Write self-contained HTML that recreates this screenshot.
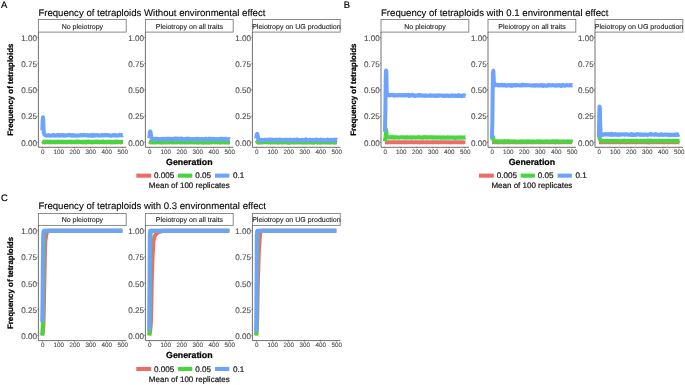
<!DOCTYPE html>
<html><head><meta charset="utf-8"><style>
html,body{margin:0;padding:0;background:#fff;width:685px;height:385px;overflow:hidden}
svg{display:block;will-change:transform;text-rendering:geometricPrecision;font-family:"Liberation Sans",sans-serif}
text{stroke:currentColor;stroke-width:0.22px;paint-order:stroke}
</style></head><body>
<svg width="685" height="385" viewBox="0 0 685 385">
<rect width="685" height="385" fill="#fff"/>
<text x="1.10" y="7.85" font-size="9.4" fill="#000" color="#000" style="stroke-width:0.2px">A</text>
<text x="38.40" y="15.80" font-size="9.6" fill="#000" color="#000" style="stroke-width:0.1px">Frequency of tetraploids Without environmental effect</text>
<rect x="38.40" y="19.50" width="87.80" height="12.60" fill="#fff" stroke="#7f7f7f" stroke-width="0.9"/>
<text x="82.40" y="28.70" font-size="7.05" fill="#1a1a1a" color="#1a1a1a" style="stroke-width:0.1px" text-anchor="middle">No pleiotropy</text>
<polyline points="42.30,142.28 42.46,142.30 42.62,142.32 42.78,142.32 42.94,142.31 43.10,142.30 43.26,142.31 43.42,142.33 43.58,142.34 43.74,142.33 43.90,142.31 44.06,142.28 44.22,142.29 44.38,142.33 44.54,142.40 44.70,142.42 44.86,142.39 45.02,142.34 45.18,142.29 45.34,142.26 45.50,142.25 45.66,142.26 45.82,142.25 45.98,142.23 46.14,142.23 46.30,142.27 46.46,142.32 46.62,142.35 46.78,142.36 46.94,142.36 47.10,142.36 47.26,142.37 47.42,142.36 47.58,142.35 47.74,142.33 47.90,142.32 48.06,142.30 48.22,142.29 48.38,142.27 48.54,142.26 48.70,142.27 48.86,142.29 49.02,142.29 49.18,142.29 49.34,142.29 49.50,142.30 49.66,142.31 49.82,142.32 49.98,142.34 50.14,142.34 50.30,142.33 50.46,142.34 50.62,142.35 50.78,142.36 50.94,142.34 51.10,142.32 51.26,142.31 51.42,142.31 51.58,142.31 51.74,142.30 51.90,142.29 52.06,142.29 52.22,142.29 52.38,142.28 52.54,142.27 52.70,142.29 52.86,142.32 53.02,142.35 53.18,142.34 53.34,142.32 53.50,142.32 53.66,142.34 53.82,142.36 53.98,142.35 54.14,142.31 54.30,142.29 54.46,142.29 54.62,142.28 54.78,142.27 54.94,142.25 55.10,142.25 55.26,142.26 55.42,142.29 55.58,142.31 55.74,142.33 55.90,142.36 56.06,142.37 56.22,142.36 56.38,142.35 56.54,142.33 56.70,142.31 56.86,142.28 57.02,142.26 57.18,142.24 57.34,142.25 57.50,142.28 57.66,142.32 57.82,142.32 57.98,142.30 58.14,142.30 58.30,142.30 58.46,142.30 58.62,142.29 58.78,142.28 58.94,142.29 59.10,142.30 59.26,142.32 59.42,142.32 59.58,142.30 59.74,142.29 59.90,142.31 60.06,142.35 60.22,142.35 60.38,142.31 60.54,142.28 60.70,142.30 60.86,142.33 61.02,142.34 61.18,142.35 61.34,142.34 61.50,142.32 61.66,142.31 61.82,142.31 61.98,142.31 62.14,142.33 62.30,142.35 62.46,142.36 62.62,142.37 62.78,142.37 62.94,142.36 63.10,142.33 63.26,142.30 63.42,142.28 63.58,142.28 63.74,142.29 63.90,142.30 64.06,142.30 64.22,142.30 64.38,142.31 64.54,142.32 64.70,142.33 64.86,142.35 65.02,142.37 65.18,142.36 65.34,142.33 65.50,142.31 65.66,142.33 65.82,142.36 65.98,142.36 66.14,142.34 66.30,142.31 66.46,142.30 66.62,142.30 66.78,142.27 66.94,142.24 67.10,142.21 67.26,142.21 67.42,142.25 67.58,142.29 67.74,142.31 67.90,142.31 68.06,142.31 68.22,142.31 68.38,142.33 68.54,142.34 68.70,142.34 68.86,142.33 69.02,142.31 69.18,142.27 69.34,142.25 69.50,142.24 69.66,142.25 69.82,142.23 69.98,142.22 70.14,142.25 70.30,142.31 70.46,142.35 70.62,142.36 70.78,142.36 70.94,142.33 71.10,142.30 71.26,142.29 71.42,142.32 71.58,142.36 71.74,142.38 71.90,142.35 72.06,142.31 72.22,142.28 72.38,142.27 72.54,142.25 72.70,142.22 72.86,142.22 73.02,142.26 73.18,142.30 73.34,142.33 73.50,142.33 73.66,142.31 73.82,142.30 73.98,142.30 74.14,142.31 74.30,142.32 74.46,142.33 74.62,142.34 74.78,142.35 74.94,142.36 75.10,142.37 75.26,142.36 75.42,142.34 75.58,142.33 75.74,142.31 75.90,142.30 76.06,142.30 76.22,142.31 76.38,142.33 76.54,142.36 76.70,142.37 76.86,142.37 77.02,142.36 77.18,142.36 77.34,142.34 77.50,142.33 77.66,142.33 77.82,142.35 77.98,142.36 78.14,142.35 78.30,142.34 78.46,142.34 78.62,142.34 78.78,142.35 78.94,142.35 79.10,142.34 79.26,142.33 79.42,142.32 79.58,142.32 79.74,142.31 79.90,142.33 80.06,142.34 80.22,142.33 80.38,142.31 80.54,142.31 80.70,142.31 80.86,142.31 81.02,142.31 81.18,142.31 81.34,142.32 81.50,142.33 81.66,142.33 81.82,142.32 81.98,142.31 82.14,142.32 82.30,142.34 82.46,142.36 82.62,142.38 82.78,142.39 82.94,142.38 83.10,142.36 83.26,142.33 83.42,142.31 83.58,142.31 83.74,142.33 83.90,142.34 84.06,142.34 84.22,142.31 84.38,142.29 84.54,142.28 84.70,142.30 84.86,142.31 85.02,142.32 85.18,142.33 85.34,142.31 85.50,142.29 85.66,142.30 85.82,142.31 85.98,142.31 86.14,142.31 86.30,142.31 86.46,142.33 86.62,142.36 86.78,142.37 86.94,142.36 87.10,142.32 87.26,142.29 87.42,142.26 87.58,142.26 87.74,142.27 87.90,142.28 88.06,142.27 88.22,142.25 88.38,142.25 88.54,142.28 88.70,142.31 88.86,142.34 89.02,142.34 89.18,142.33 89.34,142.31 89.50,142.28 89.66,142.25 89.82,142.25 89.98,142.25 90.14,142.25 90.30,142.25 90.46,142.28 90.62,142.31 90.78,142.34 90.94,142.36 91.10,142.37 91.26,142.37 91.42,142.37 91.58,142.34 91.74,142.32 91.90,142.32 92.06,142.34 92.22,142.36 92.38,142.37 92.54,142.37 92.70,142.38 92.86,142.37 93.02,142.34 93.18,142.30 93.34,142.26 93.50,142.25 93.66,142.26 93.82,142.29 93.98,142.31 94.14,142.30 94.30,142.28 94.46,142.27 94.62,142.29 94.78,142.33 94.94,142.35 95.10,142.36 95.26,142.35 95.42,142.35 95.58,142.33 95.74,142.31 95.90,142.30 96.06,142.31 96.22,142.32 96.38,142.32 96.54,142.31 96.70,142.32 96.86,142.31 97.02,142.29 97.18,142.27 97.34,142.26 97.50,142.27 97.66,142.29 97.82,142.30 97.98,142.30 98.14,142.28 98.30,142.27 98.46,142.27 98.62,142.29 98.78,142.29 98.94,142.27 99.10,142.26 99.26,142.27 99.42,142.28 99.58,142.26 99.74,142.24 99.90,142.26 100.06,142.29 100.22,142.32 100.38,142.33 100.54,142.34 100.70,142.34 100.86,142.31 101.02,142.28 101.18,142.27 101.34,142.26 101.50,142.24 101.66,142.23 101.82,142.24 101.98,142.27 102.14,142.30 102.30,142.30 102.46,142.28 102.62,142.26 102.78,142.26 102.94,142.27 103.10,142.27 103.26,142.27 103.42,142.29 103.58,142.33 103.74,142.35 103.90,142.36 104.06,142.34 104.22,142.33 104.38,142.33 104.54,142.34 104.70,142.35 104.86,142.34 105.02,142.31 105.18,142.29 105.34,142.28 105.50,142.27 105.66,142.25 105.82,142.25 105.98,142.29 106.14,142.35 106.30,142.38 106.46,142.38 106.62,142.37 106.78,142.36 106.94,142.32 107.10,142.29 107.26,142.27 107.42,142.27 107.58,142.27 107.74,142.28 107.90,142.29 108.06,142.29 108.22,142.29 108.38,142.28 108.54,142.27 108.70,142.28 108.86,142.28 109.02,142.28 109.18,142.26 109.34,142.24 109.50,142.23 109.66,142.23 109.82,142.24 109.98,142.26 110.14,142.29 110.30,142.31 110.46,142.32 110.62,142.34 110.78,142.37 110.94,142.38 111.10,142.36 111.26,142.31 111.42,142.25 111.58,142.21 111.74,142.22 111.90,142.25 112.06,142.26 112.22,142.24 112.38,142.21 112.54,142.19 112.70,142.21 112.86,142.26 113.02,142.31 113.18,142.33 113.34,142.33 113.50,142.30 113.66,142.26 113.82,142.21 113.98,142.19 114.14,142.18 114.30,142.17 114.46,142.18 114.62,142.20 114.78,142.23 114.94,142.27 115.10,142.29 115.26,142.30 115.42,142.31 115.58,142.31 115.74,142.31 115.90,142.32 116.06,142.34 116.22,142.35 116.38,142.34 116.54,142.31 116.70,142.28 116.86,142.27 117.02,142.27 117.18,142.29 117.34,142.30 117.50,142.29 117.66,142.25 117.82,142.22 117.98,142.19 118.14,142.18 118.30,142.19 118.46,142.21 118.62,142.24 118.78,142.29 118.94,142.33 119.10,142.33 119.26,142.30 119.42,142.27 119.58,142.27 119.74,142.28 119.90,142.31 120.06,142.34 120.22,142.36 120.38,142.35 120.54,142.33 120.70,142.32 120.86,142.32 121.02,142.35 121.18,142.37 121.34,142.36 121.50,142.33 121.66,142.30 121.82,142.28 121.98,142.28 122.14,142.31 122.30,142.33 122.46,142.32 122.62,142.32 122.78,142.33" fill="none" stroke="#EE6C67" stroke-width="4.0" stroke-linejoin="round" stroke-linecap="butt"/>
<polyline points="42.30,141.22 42.46,141.34 42.62,141.46 42.78,141.53 42.94,141.53 43.10,141.54 43.26,141.60 43.42,141.67 43.58,141.73 43.74,141.75 43.90,141.73 44.06,141.69 44.22,141.70 44.38,141.72 44.54,141.71 44.70,141.69 44.86,141.76 45.02,141.94 45.18,142.07 45.34,142.01 45.50,141.84 45.66,141.67 45.82,141.58 45.98,141.58 46.14,141.63 46.30,141.68 46.46,141.73 46.62,141.79 46.78,141.83 46.94,141.80 47.10,141.73 47.26,141.72 47.42,141.81 47.58,141.88 47.74,141.85 47.90,141.76 48.06,141.72 48.22,141.73 48.38,141.74 48.54,141.73 48.70,141.73 48.86,141.75 49.02,141.70 49.18,141.61 49.34,141.50 49.50,141.43 49.66,141.44 49.82,141.56 49.98,141.71 50.14,141.79 50.30,141.80 50.46,141.80 50.62,141.80 50.78,141.83 50.94,141.91 51.10,142.05 51.26,142.13 51.42,142.06 51.58,141.87 51.74,141.69 51.90,141.64 52.06,141.69 52.22,141.77 52.38,141.84 52.54,141.89 52.70,141.90 52.86,141.81 53.02,141.69 53.18,141.64 53.34,141.69 53.50,141.76 53.66,141.79 53.82,141.80 53.98,141.83 54.14,141.88 54.30,141.90 54.46,141.86 54.62,141.78 54.78,141.71 54.94,141.70 55.10,141.72 55.26,141.78 55.42,141.85 55.58,141.89 55.74,141.90 55.90,141.91 56.06,141.94 56.22,142.00 56.38,142.06 56.54,142.08 56.70,142.04 56.86,141.90 57.02,141.71 57.18,141.54 57.34,141.43 57.50,141.42 57.66,141.49 57.82,141.58 57.98,141.64 58.14,141.71 58.30,141.79 58.46,141.86 58.62,141.92 58.78,141.93 58.94,141.88 59.10,141.81 59.26,141.72 59.42,141.64 59.58,141.64 59.74,141.73 59.90,141.80 60.06,141.81 60.22,141.75 60.38,141.71 60.54,141.75 60.70,141.85 60.86,141.96 61.02,142.03 61.18,142.03 61.34,141.95 61.50,141.81 61.66,141.69 61.82,141.66 61.98,141.68 62.14,141.68 62.30,141.63 62.46,141.60 62.62,141.65 62.78,141.77 62.94,141.88 63.10,141.92 63.26,141.90 63.42,141.88 63.58,141.89 63.74,141.89 63.90,141.84 64.06,141.75 64.22,141.68 64.38,141.68 64.54,141.75 64.70,141.84 64.86,141.90 65.02,141.93 65.18,141.91 65.34,141.86 65.50,141.79 65.66,141.72 65.82,141.68 65.98,141.73 66.14,141.86 66.30,142.00 66.46,142.07 66.62,142.07 66.78,142.02 66.94,141.92 67.10,141.82 67.26,141.73 67.42,141.67 67.58,141.68 67.74,141.75 67.90,141.80 68.06,141.81 68.22,141.80 68.38,141.78 68.54,141.79 68.70,141.86 68.86,141.94 69.02,141.95 69.18,141.87 69.34,141.79 69.50,141.80 69.66,141.87 69.82,141.90 69.98,141.83 70.14,141.71 70.30,141.62 70.46,141.63 70.62,141.73 70.78,141.85 70.94,141.89 71.10,141.85 71.26,141.79 71.42,141.76 71.58,141.72 71.74,141.64 71.90,141.60 72.06,141.66 72.22,141.76 72.38,141.84 72.54,141.88 72.70,141.87 72.86,141.82 73.02,141.77 73.18,141.74 73.34,141.77 73.50,141.90 73.66,142.05 73.82,142.07 73.98,141.94 74.14,141.78 74.30,141.72 74.46,141.72 74.62,141.72 74.78,141.70 74.94,141.71 75.10,141.73 75.26,141.71 75.42,141.65 75.58,141.60 75.74,141.58 75.90,141.59 76.06,141.68 76.22,141.83 76.38,141.91 76.54,141.89 76.70,141.88 76.86,141.92 77.02,141.93 77.18,141.87 77.34,141.74 77.50,141.55 77.66,141.36 77.82,141.32 77.98,141.46 78.14,141.69 78.30,141.89 78.46,142.02 78.62,142.08 78.78,142.11 78.94,142.12 79.10,142.05 79.26,141.92 79.42,141.80 79.58,141.77 79.74,141.84 79.90,141.98 80.06,142.10 80.22,142.10 80.38,141.98 80.54,141.85 80.70,141.80 80.86,141.85 81.02,141.95 81.18,142.00 81.34,141.97 81.50,141.85 81.66,141.73 81.82,141.73 81.98,141.83 82.14,141.94 82.30,142.00 82.46,142.02 82.62,142.02 82.78,142.04 82.94,142.07 83.10,142.10 83.26,142.15 83.42,142.20 83.58,142.21 83.74,142.15 83.90,142.03 84.06,141.87 84.22,141.71 84.38,141.61 84.54,141.60 84.70,141.65 84.86,141.69 85.02,141.69 85.18,141.68 85.34,141.73 85.50,141.79 85.66,141.85 85.82,141.96 85.98,142.10 86.14,142.19 86.30,142.22 86.46,142.22 86.62,142.15 86.78,141.99 86.94,141.77 87.10,141.58 87.26,141.50 87.42,141.52 87.58,141.61 87.74,141.74 87.90,141.90 88.06,142.05 88.22,142.08 88.38,141.94 88.54,141.73 88.70,141.59 88.86,141.57 89.02,141.62 89.18,141.63 89.34,141.60 89.50,141.63 89.66,141.72 89.82,141.79 89.98,141.78 90.14,141.71 90.30,141.68 90.46,141.70 90.62,141.74 90.78,141.83 90.94,141.97 91.10,142.10 91.26,142.14 91.42,142.03 91.58,141.86 91.74,141.77 91.90,141.79 92.06,141.85 92.22,141.88 92.38,141.90 92.54,141.90 92.70,141.86 92.86,141.82 93.02,141.79 93.18,141.80 93.34,141.86 93.50,141.95 93.66,142.01 93.82,141.96 93.98,141.86 94.14,141.83 94.30,141.84 94.46,141.85 94.62,141.79 94.78,141.69 94.94,141.63 95.10,141.67 95.26,141.80 95.42,141.93 95.58,141.93 95.74,141.82 95.90,141.68 96.06,141.57 96.22,141.50 96.38,141.48 96.54,141.53 96.70,141.62 96.86,141.68 97.02,141.69 97.18,141.66 97.34,141.58 97.50,141.54 97.66,141.59 97.82,141.71 97.98,141.83 98.14,141.91 98.30,141.93 98.46,141.92 98.62,141.88 98.78,141.83 98.94,141.78 99.10,141.79 99.26,141.88 99.42,142.02 99.58,142.15 99.74,142.17 99.90,142.07 100.06,141.97 100.22,141.94 100.38,141.93 100.54,141.87 100.70,141.77 100.86,141.70 101.02,141.73 101.18,141.81 101.34,141.88 101.50,141.91 101.66,141.90 101.82,141.90 101.98,141.90 102.14,141.83 102.30,141.69 102.46,141.59 102.62,141.60 102.78,141.65 102.94,141.65 103.10,141.60 103.26,141.55 103.42,141.58 103.58,141.72 103.74,141.90 103.90,142.02 104.06,142.03 104.22,141.93 104.38,141.80 104.54,141.73 104.70,141.70 104.86,141.71 105.02,141.75 105.18,141.82 105.34,141.89 105.50,141.97 105.66,142.05 105.82,142.09 105.98,142.07 106.14,142.05 106.30,142.02 106.46,141.93 106.62,141.85 106.78,141.84 106.94,141.88 107.10,141.92 107.26,141.92 107.42,141.88 107.58,141.86 107.74,141.87 107.90,141.89 108.06,141.92 108.22,141.99 108.38,142.06 108.54,142.09 108.70,142.03 108.86,141.92 109.02,141.79 109.18,141.68 109.34,141.62 109.50,141.67 109.66,141.76 109.82,141.80 109.98,141.77 110.14,141.70 110.30,141.64 110.46,141.62 110.62,141.65 110.78,141.69 110.94,141.69 111.10,141.64 111.26,141.67 111.42,141.83 111.58,142.06 111.74,142.21 111.90,142.25 112.06,142.21 112.22,142.18 112.38,142.12 112.54,142.03 112.70,141.93 112.86,141.92 113.02,142.01 113.18,142.12 113.34,142.20 113.50,142.22 113.66,142.17 113.82,142.05 113.98,141.93 114.14,141.86 114.30,141.82 114.46,141.79 114.62,141.78 114.78,141.80 114.94,141.82 115.10,141.82 115.26,141.81 115.42,141.82 115.58,141.84 115.74,141.79 115.90,141.65 116.06,141.52 116.22,141.49 116.38,141.57 116.54,141.68 116.70,141.74 116.86,141.77 117.02,141.79 117.18,141.83 117.34,141.83 117.50,141.79 117.66,141.71 117.82,141.64 117.98,141.60 118.14,141.64 118.30,141.77 118.46,141.92 118.62,142.01 118.78,142.02 118.94,141.96 119.10,141.92 119.26,141.93 119.42,141.96 119.58,141.97 119.74,141.98 119.90,141.99 120.06,142.02 120.22,142.08 120.38,142.14 120.54,142.13 120.70,142.06 120.86,142.00 121.02,141.95 121.18,141.86 121.34,141.77 121.50,141.71 121.66,141.70 121.82,141.72 121.98,141.78 122.14,141.85 122.30,141.93 122.46,141.97 122.62,141.96 122.78,141.93" fill="none" stroke="#47D63E" stroke-width="4.0" stroke-linejoin="round" stroke-linecap="butt"/>
<polyline points="42.30,130.29 42.46,125.89 42.62,121.49 42.78,119.41 42.94,117.20 43.10,118.78 43.26,120.32 43.42,124.93 43.58,129.59 43.74,131.38 43.90,133.16 44.06,133.52 44.22,133.97 44.38,134.44 44.54,134.82 44.70,134.79 44.86,134.81 45.02,134.95 45.18,135.12 45.34,135.27 45.50,135.38 45.66,135.33 45.82,135.25 45.98,135.23 46.14,135.34 46.30,135.52 46.46,135.66 46.62,135.72 46.78,135.72 46.94,135.66 47.10,135.55 47.26,135.48 47.42,135.50 47.58,135.52 47.74,135.42 47.90,135.24 48.06,135.09 48.22,135.04 48.38,135.09 48.54,135.20 48.70,135.32 48.86,135.37 49.02,135.36 49.18,135.36 49.34,135.45 49.50,135.58 49.66,135.68 49.82,135.69 49.98,135.62 50.14,135.58 50.30,135.61 50.46,135.64 50.62,135.65 50.78,135.68 50.94,135.70 51.10,135.62 51.26,135.50 51.42,135.50 51.58,135.59 51.74,135.60 51.90,135.49 52.06,135.38 52.22,135.35 52.38,135.40 52.54,135.43 52.70,135.39 52.86,135.35 53.02,135.39 53.18,135.46 53.34,135.39 53.50,135.20 53.66,135.03 53.82,134.99 53.98,135.08 54.14,135.27 54.30,135.47 54.46,135.57 54.62,135.56 54.78,135.54 54.94,135.58 55.10,135.59 55.26,135.53 55.42,135.49 55.58,135.55 55.74,135.66 55.90,135.65 56.06,135.46 56.22,135.24 56.38,135.16 56.54,135.22 56.70,135.30 56.86,135.34 57.02,135.35 57.18,135.36 57.34,135.39 57.50,135.38 57.66,135.28 57.82,135.11 57.98,134.89 58.14,134.74 58.30,134.81 58.46,135.11 58.62,135.44 58.78,135.62 58.94,135.64 59.10,135.61 59.26,135.53 59.42,135.44 59.58,135.44 59.74,135.58 59.90,135.66 60.06,135.58 60.22,135.35 60.38,135.12 60.54,135.00 60.70,135.01 60.86,135.02 61.02,134.97 61.18,134.92 61.34,134.96 61.50,135.14 61.66,135.34 61.82,135.43 61.98,135.35 62.14,135.24 62.30,135.23 62.46,135.32 62.62,135.42 62.78,135.48 62.94,135.49 63.10,135.39 63.26,135.20 63.42,135.13 63.58,135.28 63.74,135.54 63.90,135.69 64.06,135.62 64.22,135.44 64.38,135.28 64.54,135.24 64.70,135.29 64.86,135.39 65.02,135.53 65.18,135.64 65.34,135.66 65.50,135.64 65.66,135.64 65.82,135.65 65.98,135.60 66.14,135.49 66.30,135.40 66.46,135.33 66.62,135.26 66.78,135.16 66.94,135.13 67.10,135.22 67.26,135.36 67.42,135.41 67.58,135.35 67.74,135.22 67.90,135.07 68.06,134.97 68.22,134.95 68.38,134.99 68.54,135.08 68.70,135.18 68.86,135.23 69.02,135.18 69.18,135.03 69.34,134.85 69.50,134.77 69.66,134.85 69.82,135.06 69.98,135.23 70.14,135.30 70.30,135.31 70.46,135.31 70.62,135.27 70.78,135.20 70.94,135.17 71.10,135.23 71.26,135.36 71.42,135.54 71.58,135.68 71.74,135.72 71.90,135.62 72.06,135.41 72.22,135.22 72.38,135.09 72.54,135.01 72.70,135.02 72.86,135.14 73.02,135.33 73.18,135.52 73.34,135.62 73.50,135.63 73.66,135.55 73.82,135.42 73.98,135.30 74.14,135.27 74.30,135.34 74.46,135.44 74.62,135.48 74.78,135.49 74.94,135.48 75.10,135.47 75.26,135.50 75.42,135.58 75.58,135.69 75.74,135.79 75.90,135.83 76.06,135.73 76.22,135.54 76.38,135.38 76.54,135.38 76.70,135.49 76.86,135.56 77.02,135.58 77.18,135.57 77.34,135.60 77.50,135.67 77.66,135.72 77.82,135.68 77.98,135.59 78.14,135.53 78.30,135.48 78.46,135.43 78.62,135.45 78.78,135.53 78.94,135.57 79.10,135.48 79.26,135.34 79.42,135.27 79.58,135.35 79.74,135.46 79.90,135.44 80.06,135.27 80.22,135.13 80.38,135.12 80.54,135.16 80.70,135.14 80.86,135.07 81.02,135.04 81.18,135.09 81.34,135.16 81.50,135.23 81.66,135.27 81.82,135.27 81.98,135.26 82.14,135.32 82.30,135.44 82.46,135.52 82.62,135.45 82.78,135.26 82.94,135.07 83.10,134.96 83.26,134.96 83.42,135.01 83.58,135.07 83.74,135.11 83.90,135.12 84.06,135.11 84.22,135.08 84.38,135.08 84.54,135.12 84.70,135.13 84.86,135.08 85.02,135.07 85.18,135.16 85.34,135.27 85.50,135.34 85.66,135.39 85.82,135.41 85.98,135.35 86.14,135.25 86.30,135.18 86.46,135.17 86.62,135.24 86.78,135.39 86.94,135.54 87.10,135.56 87.26,135.44 87.42,135.27 87.58,135.14 87.74,135.09 87.90,135.13 88.06,135.29 88.22,135.53 88.38,135.72 88.54,135.77 88.70,135.76 88.86,135.76 89.02,135.75 89.18,135.74 89.34,135.75 89.50,135.74 89.66,135.62 89.82,135.42 89.98,135.24 90.14,135.12 90.30,135.16 90.46,135.36 90.62,135.57 90.78,135.61 90.94,135.47 91.10,135.30 91.26,135.23 91.42,135.27 91.58,135.36 91.74,135.46 91.90,135.58 92.06,135.73 92.22,135.86 92.38,135.92 92.54,135.89 92.70,135.78 92.86,135.58 93.02,135.30 93.18,135.02 93.34,134.88 93.50,134.94 93.66,135.10 93.82,135.22 93.98,135.29 94.14,135.38 94.30,135.53 94.46,135.71 94.62,135.78 94.78,135.65 94.94,135.46 95.10,135.37 95.26,135.40 95.42,135.43 95.58,135.39 95.74,135.33 95.90,135.24 96.06,135.18 96.22,135.19 96.38,135.25 96.54,135.28 96.70,135.28 96.86,135.25 97.02,135.14 97.18,135.03 97.34,135.04 97.50,135.19 97.66,135.33 97.82,135.38 97.98,135.35 98.14,135.29 98.30,135.26 98.46,135.32 98.62,135.50 98.78,135.72 98.94,135.80 99.10,135.70 99.26,135.56 99.42,135.55 99.58,135.61 99.74,135.60 99.90,135.52 100.06,135.47 100.22,135.42 100.38,135.34 100.54,135.25 100.70,135.19 100.86,135.15 101.02,135.13 101.18,135.19 101.34,135.32 101.50,135.39 101.66,135.36 101.82,135.27 101.98,135.16 102.14,135.06 102.30,134.98 102.46,135.01 102.62,135.17 102.78,135.39 102.94,135.50 103.10,135.43 103.26,135.31 103.42,135.26 103.58,135.33 103.74,135.43 103.90,135.48 104.06,135.43 104.22,135.36 104.38,135.40 104.54,135.51 104.70,135.52 104.86,135.39 105.02,135.24 105.18,135.16 105.34,135.09 105.50,134.97 105.66,134.86 105.82,134.83 105.98,134.87 106.14,134.94 106.30,135.03 106.46,135.11 106.62,135.13 106.78,135.09 106.94,135.08 107.10,135.16 107.26,135.27 107.42,135.28 107.58,135.24 107.74,135.20 107.90,135.18 108.06,135.19 108.22,135.24 108.38,135.27 108.54,135.22 108.70,135.12 108.86,135.08 109.02,135.13 109.18,135.21 109.34,135.28 109.50,135.40 109.66,135.57 109.82,135.69 109.98,135.72 110.14,135.68 110.30,135.60 110.46,135.51 110.62,135.47 110.78,135.50 110.94,135.57 111.10,135.65 111.26,135.73 111.42,135.76 111.58,135.71 111.74,135.63 111.90,135.58 112.06,135.56 112.22,135.50 112.38,135.41 112.54,135.34 112.70,135.31 112.86,135.35 113.02,135.42 113.18,135.44 113.34,135.32 113.50,135.12 113.66,135.00 113.82,135.03 113.98,135.13 114.14,135.22 114.30,135.24 114.46,135.22 114.62,135.22 114.78,135.27 114.94,135.33 115.10,135.28 115.26,135.09 115.42,134.88 115.58,134.88 115.74,135.13 115.90,135.46 116.06,135.65 116.22,135.66 116.38,135.60 116.54,135.58 116.70,135.59 116.86,135.62 117.02,135.61 117.18,135.55 117.34,135.46 117.50,135.39 117.66,135.44 117.82,135.57 117.98,135.63 118.14,135.60 118.30,135.58 118.46,135.60 118.62,135.56 118.78,135.45 118.94,135.30 119.10,135.12 119.26,134.94 119.42,134.82 119.58,134.78 119.74,134.80 119.90,134.86 120.06,134.97 120.22,135.13 120.38,135.24 120.54,135.22 120.70,135.12 120.86,135.06 121.02,135.06 121.18,135.06 121.34,135.04 121.50,135.06 121.66,135.15 121.82,135.28 121.98,135.36 122.14,135.38 122.30,135.35 122.46,135.25 122.62,135.15 122.78,135.12" fill="none" stroke="#6EA2FF" stroke-width="4.0" stroke-linejoin="round" stroke-linecap="butt"/>
<path d="M38.40,32.10V147.30H126.40" fill="none" stroke="#333" stroke-width="0.7"/>
<path d="M37.40,142.30H38.40" stroke="#333" stroke-width="0.6"/>
<text x="37.10" y="145.60" font-size="8.1" fill="#4d4d4d" color="#4d4d4d" text-anchor="end" style="stroke-width:0.12px">0.00</text>
<path d="M37.40,116.10H38.40" stroke="#333" stroke-width="0.6"/>
<text x="37.10" y="119.40" font-size="8.1" fill="#4d4d4d" color="#4d4d4d" text-anchor="end" style="stroke-width:0.12px">0.25</text>
<path d="M37.40,89.90H38.40" stroke="#333" stroke-width="0.6"/>
<text x="37.10" y="93.20" font-size="8.1" fill="#4d4d4d" color="#4d4d4d" text-anchor="end" style="stroke-width:0.12px">0.50</text>
<path d="M37.40,63.70H38.40" stroke="#333" stroke-width="0.6"/>
<text x="37.10" y="67.00" font-size="8.1" fill="#4d4d4d" color="#4d4d4d" text-anchor="end" style="stroke-width:0.12px">0.75</text>
<path d="M37.40,37.50H38.40" stroke="#333" stroke-width="0.6"/>
<text x="37.10" y="40.80" font-size="8.1" fill="#4d4d4d" color="#4d4d4d" text-anchor="end" style="stroke-width:0.12px">1.00</text>
<path d="M42.30,147.30V148.30" stroke="#333" stroke-width="0.6"/>
<text x="42.75" y="153.90" font-size="6.3" fill="#4d4d4d" color="#4d4d4d" text-anchor="middle" style="stroke-width:0.12px">0</text>
<path d="M58.30,147.30V148.30" stroke="#333" stroke-width="0.6"/>
<text x="58.75" y="153.90" font-size="6.3" fill="#4d4d4d" color="#4d4d4d" text-anchor="middle" style="stroke-width:0.12px">100</text>
<path d="M74.30,147.30V148.30" stroke="#333" stroke-width="0.6"/>
<text x="74.75" y="153.90" font-size="6.3" fill="#4d4d4d" color="#4d4d4d" text-anchor="middle" style="stroke-width:0.12px">200</text>
<path d="M90.30,147.30V148.30" stroke="#333" stroke-width="0.6"/>
<text x="90.75" y="153.90" font-size="6.3" fill="#4d4d4d" color="#4d4d4d" text-anchor="middle" style="stroke-width:0.12px">300</text>
<path d="M106.30,147.30V148.30" stroke="#333" stroke-width="0.6"/>
<text x="106.75" y="153.90" font-size="6.3" fill="#4d4d4d" color="#4d4d4d" text-anchor="middle" style="stroke-width:0.12px">400</text>
<path d="M122.30,147.30V148.30" stroke="#333" stroke-width="0.6"/>
<text x="122.75" y="153.90" font-size="6.3" fill="#4d4d4d" color="#4d4d4d" text-anchor="middle" style="stroke-width:0.12px">500</text>
<rect x="145.40" y="19.50" width="87.80" height="12.60" fill="#fff" stroke="#7f7f7f" stroke-width="0.9"/>
<text x="189.40" y="28.70" font-size="7.05" fill="#1a1a1a" color="#1a1a1a" style="stroke-width:0.1px" text-anchor="middle">Pleiotropy on all traits</text>
<polyline points="149.30,142.27 149.46,142.25 149.62,142.26 149.78,142.28 149.94,142.29 150.10,142.29 150.26,142.30 150.42,142.31 150.58,142.33 150.74,142.34 150.90,142.34 151.06,142.33 151.22,142.31 151.38,142.29 151.54,142.30 151.70,142.32 151.86,142.34 152.02,142.34 152.18,142.35 152.34,142.36 152.50,142.35 152.66,142.34 152.82,142.32 152.98,142.29 153.14,142.26 153.30,142.26 153.46,142.28 153.62,142.31 153.78,142.32 153.94,142.31 154.10,142.29 154.26,142.29 154.42,142.32 154.58,142.34 154.74,142.35 154.90,142.34 155.06,142.31 155.22,142.28 155.38,142.27 155.54,142.28 155.70,142.30 155.86,142.32 156.02,142.32 156.18,142.32 156.34,142.31 156.50,142.30 156.66,142.29 156.82,142.29 156.98,142.28 157.14,142.26 157.30,142.25 157.46,142.24 157.62,142.25 157.78,142.26 157.94,142.28 158.10,142.30 158.26,142.30 158.42,142.31 158.58,142.31 158.74,142.30 158.90,142.29 159.06,142.28 159.22,142.28 159.38,142.27 159.54,142.27 159.70,142.29 159.86,142.33 160.02,142.37 160.18,142.40 160.34,142.40 160.50,142.37 160.66,142.31 160.82,142.26 160.98,142.24 161.14,142.26 161.30,142.29 161.46,142.32 161.62,142.36 161.78,142.39 161.94,142.40 162.10,142.39 162.26,142.37 162.42,142.34 162.58,142.31 162.74,142.28 162.90,142.26 163.06,142.25 163.22,142.25 163.38,142.26 163.54,142.28 163.70,142.28 163.86,142.27 164.02,142.25 164.18,142.25 164.34,142.25 164.50,142.27 164.66,142.29 164.82,142.30 164.98,142.30 165.14,142.28 165.30,142.27 165.46,142.27 165.62,142.28 165.78,142.28 165.94,142.28 166.10,142.28 166.26,142.29 166.42,142.31 166.58,142.32 166.74,142.31 166.90,142.28 167.06,142.26 167.22,142.22 167.38,142.19 167.54,142.19 167.70,142.20 167.86,142.21 168.02,142.22 168.18,142.22 168.34,142.24 168.50,142.25 168.66,142.25 168.82,142.25 168.98,142.27 169.14,142.30 169.30,142.35 169.46,142.39 169.62,142.39 169.78,142.35 169.94,142.31 170.10,142.28 170.26,142.26 170.42,142.26 170.58,142.27 170.74,142.30 170.90,142.31 171.06,142.32 171.22,142.32 171.38,142.30 171.54,142.28 171.70,142.28 171.86,142.29 172.02,142.30 172.18,142.31 172.34,142.31 172.50,142.30 172.66,142.30 172.82,142.30 172.98,142.31 173.14,142.32 173.30,142.32 173.46,142.30 173.62,142.27 173.78,142.26 173.94,142.27 174.10,142.31 174.26,142.34 174.42,142.33 174.58,142.30 174.74,142.29 174.90,142.30 175.06,142.29 175.22,142.26 175.38,142.24 175.54,142.23 175.70,142.23 175.86,142.24 176.02,142.26 176.18,142.28 176.34,142.29 176.50,142.29 176.66,142.29 176.82,142.30 176.98,142.32 177.14,142.32 177.30,142.30 177.46,142.28 177.62,142.29 177.78,142.31 177.94,142.32 178.10,142.33 178.26,142.33 178.42,142.33 178.58,142.34 178.74,142.33 178.90,142.30 179.06,142.27 179.22,142.25 179.38,142.26 179.54,142.28 179.70,142.29 179.86,142.28 180.02,142.28 180.18,142.30 180.34,142.33 180.50,142.35 180.66,142.36 180.82,142.36 180.98,142.36 181.14,142.35 181.30,142.32 181.46,142.29 181.62,142.27 181.78,142.26 181.94,142.26 182.10,142.25 182.26,142.25 182.42,142.25 182.58,142.24 182.74,142.21 182.90,142.19 183.06,142.20 183.22,142.24 183.38,142.30 183.54,142.33 183.70,142.34 183.86,142.33 184.02,142.31 184.18,142.31 184.34,142.31 184.50,142.32 184.66,142.33 184.82,142.32 184.98,142.29 185.14,142.27 185.30,142.27 185.46,142.29 185.62,142.31 185.78,142.33 185.94,142.33 186.10,142.31 186.26,142.27 186.42,142.25 186.58,142.25 186.74,142.26 186.90,142.26 187.06,142.27 187.22,142.28 187.38,142.28 187.54,142.27 187.70,142.24 187.86,142.22 188.02,142.21 188.18,142.23 188.34,142.25 188.50,142.26 188.66,142.26 188.82,142.24 188.98,142.24 189.14,142.25 189.30,142.26 189.46,142.28 189.62,142.29 189.78,142.30 189.94,142.29 190.10,142.27 190.26,142.24 190.42,142.24 190.58,142.28 190.74,142.32 190.90,142.34 191.06,142.33 191.22,142.31 191.38,142.29 191.54,142.28 191.70,142.27 191.86,142.27 192.02,142.28 192.18,142.29 192.34,142.29 192.50,142.28 192.66,142.26 192.82,142.25 192.98,142.26 193.14,142.28 193.30,142.29 193.46,142.31 193.62,142.33 193.78,142.33 193.94,142.30 194.10,142.26 194.26,142.20 194.42,142.17 194.58,142.18 194.74,142.21 194.90,142.26 195.06,142.30 195.22,142.33 195.38,142.33 195.54,142.32 195.70,142.32 195.86,142.32 196.02,142.30 196.18,142.27 196.34,142.26 196.50,142.27 196.66,142.29 196.82,142.31 196.98,142.32 197.14,142.32 197.30,142.33 197.46,142.33 197.62,142.33 197.78,142.34 197.94,142.35 198.10,142.35 198.26,142.35 198.42,142.34 198.58,142.33 198.74,142.32 198.90,142.30 199.06,142.29 199.22,142.29 199.38,142.29 199.54,142.29 199.70,142.30 199.86,142.30 200.02,142.30 200.18,142.29 200.34,142.29 200.50,142.29 200.66,142.29 200.82,142.30 200.98,142.32 201.14,142.33 201.30,142.33 201.46,142.31 201.62,142.30 201.78,142.30 201.94,142.30 202.10,142.29 202.26,142.27 202.42,142.25 202.58,142.24 202.74,142.23 202.90,142.24 203.06,142.24 203.22,142.24 203.38,142.23 203.54,142.25 203.70,142.27 203.86,142.29 204.02,142.29 204.18,142.28 204.34,142.28 204.50,142.31 204.66,142.33 204.82,142.34 204.98,142.32 205.14,142.31 205.30,142.30 205.46,142.31 205.62,142.33 205.78,142.34 205.94,142.34 206.10,142.31 206.26,142.28 206.42,142.28 206.58,142.31 206.74,142.34 206.90,142.37 207.06,142.37 207.22,142.35 207.38,142.35 207.54,142.35 207.70,142.35 207.86,142.35 208.02,142.36 208.18,142.38 208.34,142.38 208.50,142.36 208.66,142.34 208.82,142.33 208.98,142.33 209.14,142.34 209.30,142.36 209.46,142.39 209.62,142.42 209.78,142.43 209.94,142.41 210.10,142.35 210.26,142.31 210.42,142.30 210.58,142.32 210.74,142.33 210.90,142.32 211.06,142.31 211.22,142.32 211.38,142.34 211.54,142.37 211.70,142.38 211.86,142.34 212.02,142.29 212.18,142.26 212.34,142.27 212.50,142.30 212.66,142.33 212.82,142.33 212.98,142.31 213.14,142.29 213.30,142.27 213.46,142.27 213.62,142.29 213.78,142.31 213.94,142.32 214.10,142.31 214.26,142.31 214.42,142.30 214.58,142.28 214.74,142.28 214.90,142.30 215.06,142.33 215.22,142.35 215.38,142.35 215.54,142.35 215.70,142.34 215.86,142.32 216.02,142.31 216.18,142.29 216.34,142.28 216.50,142.27 216.66,142.26 216.82,142.25 216.98,142.25 217.14,142.27 217.30,142.31 217.46,142.33 217.62,142.33 217.78,142.33 217.94,142.34 218.10,142.36 218.26,142.37 218.42,142.37 218.58,142.37 218.74,142.37 218.90,142.36 219.06,142.36 219.22,142.36 219.38,142.36 219.54,142.38 219.70,142.38 219.86,142.39 220.02,142.40 220.18,142.40 220.34,142.39 220.50,142.37 220.66,142.35 220.82,142.34 220.98,142.32 221.14,142.31 221.30,142.29 221.46,142.29 221.62,142.28 221.78,142.26 221.94,142.25 222.10,142.26 222.26,142.28 222.42,142.30 222.58,142.31 222.74,142.31 222.90,142.30 223.06,142.28 223.22,142.26 223.38,142.24 223.54,142.23 223.70,142.23 223.86,142.24 224.02,142.25 224.18,142.26 224.34,142.29 224.50,142.34 224.66,142.35 224.82,142.32 224.98,142.28 225.14,142.26 225.30,142.27 225.46,142.28 225.62,142.30 225.78,142.31 225.94,142.31 226.10,142.31 226.26,142.32 226.42,142.33 226.58,142.35 226.74,142.35 226.90,142.33 227.06,142.31 227.22,142.29 227.38,142.30 227.54,142.32 227.70,142.34 227.86,142.33 228.02,142.31 228.18,142.28 228.34,142.25 228.50,142.24 228.66,142.24 228.82,142.25 228.98,142.26 229.14,142.27 229.30,142.29 229.46,142.31 229.62,142.32 229.78,142.31" fill="none" stroke="#EE6C67" stroke-width="4.0" stroke-linejoin="round" stroke-linecap="butt"/>
<polyline points="149.30,141.61 149.46,141.75 149.62,141.80 149.78,141.82 149.94,141.90 150.10,142.05 150.26,142.17 150.42,142.23 150.58,142.25 150.74,142.24 150.90,142.21 151.06,142.15 151.22,142.11 151.38,142.10 151.54,142.10 151.70,142.16 151.86,142.25 152.02,142.31 152.18,142.33 152.34,142.32 152.50,142.29 152.66,142.25 152.82,142.23 152.98,142.26 153.14,142.32 153.30,142.37 153.46,142.39 153.62,142.36 153.78,142.27 153.94,142.16 154.10,142.10 154.26,142.14 154.42,142.23 154.58,142.28 154.74,142.27 154.90,142.27 155.06,142.30 155.22,142.32 155.38,142.27 155.54,142.19 155.70,142.14 155.86,142.15 156.02,142.19 156.18,142.22 156.34,142.19 156.50,142.07 156.66,141.89 156.82,141.74 156.98,141.67 157.14,141.71 157.30,141.81 157.46,141.92 157.62,142.00 157.78,142.01 157.94,142.01 158.10,142.02 158.26,142.04 158.42,142.05 158.58,142.07 158.74,142.09 158.90,142.11 159.06,142.12 159.22,142.13 159.38,142.17 159.54,142.24 159.70,142.33 159.86,142.37 160.02,142.32 160.18,142.26 160.34,142.25 160.50,142.30 160.66,142.32 160.82,142.32 160.98,142.33 161.14,142.32 161.30,142.29 161.46,142.27 161.62,142.24 161.78,142.20 161.94,142.14 162.10,142.09 162.26,142.11 162.42,142.24 162.58,142.38 162.74,142.42 162.90,142.35 163.06,142.26 163.22,142.21 163.38,142.23 163.54,142.26 163.70,142.27 163.86,142.24 164.02,142.17 164.18,142.08 164.34,141.98 164.50,141.93 164.66,141.96 164.82,142.01 164.98,142.02 165.14,142.03 165.30,142.06 165.46,142.10 165.62,142.15 165.78,142.23 165.94,142.27 166.10,142.24 166.26,142.14 166.42,142.04 166.58,141.98 166.74,141.95 166.90,141.99 167.06,142.08 167.22,142.18 167.38,142.27 167.54,142.32 167.70,142.30 167.86,142.23 168.02,142.16 168.18,142.11 168.34,142.05 168.50,141.99 168.66,141.93 168.82,141.89 168.98,141.86 169.14,141.82 169.30,141.80 169.46,141.85 169.62,141.95 169.78,142.06 169.94,142.11 170.10,142.08 170.26,141.98 170.42,141.91 170.58,141.92 170.74,141.98 170.90,142.00 171.06,141.96 171.22,141.94 171.38,141.99 171.54,142.08 171.70,142.19 171.86,142.28 172.02,142.27 172.18,142.18 172.34,142.12 172.50,142.14 172.66,142.20 172.82,142.24 172.98,142.24 173.14,142.19 173.30,142.10 173.46,142.04 173.62,142.10 173.78,142.22 173.94,142.30 174.10,142.32 174.26,142.33 174.42,142.30 174.58,142.19 174.74,142.05 174.90,141.99 175.06,142.00 175.22,142.05 175.38,142.16 175.54,142.28 175.70,142.31 175.86,142.24 176.02,142.15 176.18,142.10 176.34,142.04 176.50,141.92 176.66,141.81 176.82,141.82 176.98,141.91 177.14,141.98 177.30,142.02 177.46,142.08 177.62,142.13 177.78,142.09 177.94,142.02 178.10,141.99 178.26,142.03 178.42,142.06 178.58,142.02 178.74,141.96 178.90,141.98 179.06,142.10 179.22,142.22 179.38,142.25 179.54,142.25 179.70,142.31 179.86,142.37 180.02,142.32 180.18,142.20 180.34,142.11 180.50,142.07 180.66,142.06 180.82,142.06 180.98,142.04 181.14,141.94 181.30,141.81 181.46,141.74 181.62,141.77 181.78,141.86 181.94,141.96 182.10,142.07 182.26,142.16 182.42,142.18 182.58,142.09 182.74,141.94 182.90,141.82 183.06,141.78 183.22,141.81 183.38,141.87 183.54,141.98 183.70,142.13 183.86,142.24 184.02,142.29 184.18,142.34 184.34,142.38 184.50,142.35 184.66,142.28 184.82,142.26 184.98,142.28 185.14,142.27 185.30,142.19 185.46,142.12 185.62,142.11 185.78,142.14 185.94,142.14 186.10,142.07 186.26,141.99 186.42,141.98 186.58,142.07 186.74,142.19 186.90,142.28 187.06,142.27 187.22,142.23 187.38,142.26 187.54,142.34 187.70,142.37 187.86,142.34 188.02,142.28 188.18,142.23 188.34,142.17 188.50,142.08 188.66,141.97 188.82,141.88 188.98,141.83 189.14,141.84 189.30,141.93 189.46,142.03 189.62,142.08 189.78,142.09 189.94,142.06 190.10,142.06 190.26,142.11 190.42,142.20 190.58,142.23 190.74,142.16 190.90,142.10 191.06,142.08 191.22,142.04 191.38,142.00 191.54,142.00 191.70,142.07 191.86,142.14 192.02,142.19 192.18,142.22 192.34,142.22 192.50,142.19 192.66,142.13 192.82,142.12 192.98,142.19 193.14,142.29 193.30,142.34 193.46,142.32 193.62,142.26 193.78,142.24 193.94,142.23 194.10,142.23 194.26,142.25 194.42,142.29 194.58,142.33 194.74,142.29 194.90,142.23 195.06,142.21 195.22,142.24 195.38,142.26 195.54,142.22 195.70,142.16 195.86,142.13 196.02,142.17 196.18,142.21 196.34,142.19 196.50,142.10 196.66,142.01 196.82,141.94 196.98,141.90 197.14,141.95 197.30,142.12 197.46,142.34 197.62,142.48 197.78,142.51 197.94,142.50 198.10,142.47 198.26,142.47 198.42,142.48 198.58,142.44 198.74,142.28 198.90,142.05 199.06,141.90 199.22,141.85 199.38,141.84 199.54,141.88 199.70,141.98 199.86,142.14 200.02,142.27 200.18,142.34 200.34,142.37 200.50,142.36 200.66,142.33 200.82,142.27 200.98,142.22 201.14,142.20 201.30,142.17 201.46,142.08 201.62,141.96 201.78,141.87 201.94,141.82 202.10,141.81 202.26,141.89 202.42,142.05 202.58,142.22 202.74,142.35 202.90,142.42 203.06,142.48 203.22,142.52 203.38,142.52 203.54,142.46 203.70,142.38 203.86,142.34 204.02,142.35 204.18,142.38 204.34,142.37 204.50,142.33 204.66,142.29 204.82,142.24 204.98,142.18 205.14,142.12 205.30,142.11 205.46,142.15 205.62,142.21 205.78,142.24 205.94,142.25 206.10,142.32 206.26,142.48 206.42,142.61 206.58,142.57 206.74,142.35 206.90,142.11 207.06,141.97 207.22,141.97 207.38,142.07 207.54,142.18 207.70,142.23 207.86,142.21 208.02,142.16 208.18,142.11 208.34,142.07 208.50,142.07 208.66,142.11 208.82,142.20 208.98,142.27 209.14,142.25 209.30,142.16 209.46,142.04 209.62,141.96 209.78,141.92 209.94,141.91 210.10,141.95 210.26,142.03 210.42,142.08 210.58,142.07 210.74,142.08 210.90,142.14 211.06,142.22 211.22,142.25 211.38,142.23 211.54,142.19 211.70,142.16 211.86,142.16 212.02,142.11 212.18,142.01 212.34,141.94 212.50,141.97 212.66,142.05 212.82,142.10 212.98,142.08 213.14,142.01 213.30,141.96 213.46,141.98 213.62,142.06 213.78,142.10 213.94,142.07 214.10,142.00 214.26,141.99 214.42,142.03 214.58,142.04 214.74,142.02 214.90,142.03 215.06,142.13 215.22,142.26 215.38,142.33 215.54,142.33 215.70,142.30 215.86,142.24 216.02,142.16 216.18,142.13 216.34,142.16 216.50,142.20 216.66,142.20 216.82,142.19 216.98,142.20 217.14,142.18 217.30,142.15 217.46,142.13 217.62,142.09 217.78,142.04 217.94,141.98 218.10,141.92 218.26,141.86 218.42,141.83 218.58,141.87 218.74,142.01 218.90,142.14 219.06,142.17 219.22,142.10 219.38,142.05 219.54,142.08 219.70,142.15 219.86,142.24 220.02,142.30 220.18,142.31 220.34,142.30 220.50,142.28 220.66,142.22 220.82,142.15 220.98,142.12 221.14,142.15 221.30,142.16 221.46,142.10 221.62,142.02 221.78,141.98 221.94,141.98 222.10,141.98 222.26,141.94 222.42,141.90 222.58,141.94 222.74,142.06 222.90,142.21 223.06,142.28 223.22,142.22 223.38,142.08 223.54,141.99 223.70,142.00 223.86,142.08 224.02,142.16 224.18,142.23 224.34,142.26 224.50,142.27 224.66,142.26 224.82,142.23 224.98,142.18 225.14,142.13 225.30,142.07 225.46,142.04 225.62,142.07 225.78,142.17 225.94,142.29 226.10,142.29 226.26,142.13 226.42,141.93 226.58,141.83 226.74,141.88 226.90,141.99 227.06,142.08 227.22,142.14 227.38,142.21 227.54,142.30 227.70,142.37 227.86,142.40 228.02,142.45 228.18,142.47 228.34,142.40 228.50,142.28 228.66,142.20 228.82,142.18 228.98,142.20 229.14,142.24 229.30,142.26 229.46,142.27 229.62,142.25 229.78,142.22" fill="none" stroke="#47D63E" stroke-width="4.0" stroke-linejoin="round" stroke-linecap="butt"/>
<polyline points="149.30,138.13 149.46,136.69 149.62,135.13 149.78,133.45 149.94,132.73 150.10,131.99 150.26,131.33 150.42,131.68 150.58,132.15 150.74,132.70 150.90,134.29 151.06,135.80 151.22,137.25 151.38,137.80 151.54,138.38 151.70,138.85 151.86,139.18 152.02,138.99 152.18,138.83 152.34,138.75 152.50,138.74 152.66,138.74 152.82,138.75 152.98,138.77 153.14,138.85 153.30,138.95 153.46,139.02 153.62,139.02 153.78,138.97 153.94,138.92 154.10,138.85 154.26,138.80 154.42,138.79 154.58,138.77 154.74,138.71 154.90,138.66 155.06,138.71 155.22,138.83 155.38,138.94 155.54,138.96 155.70,138.90 155.86,138.87 156.02,138.98 156.18,139.17 156.34,139.33 156.50,139.34 156.66,139.21 156.82,139.05 156.98,138.92 157.14,138.83 157.30,138.75 157.46,138.71 157.62,138.72 157.78,138.81 157.94,138.95 158.10,139.08 158.26,139.13 158.42,139.11 158.58,139.11 158.74,139.15 158.90,139.19 159.06,139.17 159.22,139.13 159.38,139.11 159.54,139.11 159.70,139.13 159.86,139.14 160.02,139.11 160.18,139.05 160.34,139.04 160.50,139.06 160.66,139.06 160.82,139.05 160.98,139.10 161.14,139.13 161.30,139.08 161.46,139.01 161.62,138.97 161.78,138.95 161.94,138.89 162.10,138.83 162.26,138.83 162.42,138.90 162.58,139.03 162.74,139.20 162.90,139.31 163.06,139.29 163.22,139.15 163.38,139.01 163.54,138.90 163.70,138.84 163.86,138.84 164.02,138.91 164.18,139.08 164.34,139.34 164.50,139.53 164.66,139.62 164.82,139.67 164.98,139.69 165.14,139.64 165.30,139.52 165.46,139.30 165.62,139.00 165.78,138.77 165.94,138.75 166.10,138.89 166.26,139.05 166.42,139.13 166.58,139.13 166.74,139.07 166.90,138.97 167.06,138.86 167.22,138.75 167.38,138.77 167.54,138.95 167.70,139.19 167.86,139.30 168.02,139.23 168.18,139.08 168.34,138.95 168.50,138.86 168.66,138.79 168.82,138.75 168.98,138.77 169.14,138.81 169.30,138.80 169.46,138.73 169.62,138.67 169.78,138.64 169.94,138.65 170.10,138.69 170.26,138.78 170.42,138.91 170.58,139.03 170.74,139.13 170.90,139.17 171.06,139.14 171.22,139.07 171.38,138.96 171.54,138.88 171.70,138.84 171.86,138.79 172.02,138.74 172.18,138.75 172.34,138.82 172.50,138.95 172.66,139.16 172.82,139.34 172.98,139.38 173.14,139.32 173.30,139.29 173.46,139.29 173.62,139.22 173.78,139.10 173.94,139.02 174.10,139.03 174.26,139.06 174.42,138.99 174.58,138.76 174.74,138.51 174.90,138.40 175.06,138.50 175.22,138.67 175.38,138.77 175.54,138.80 175.70,138.82 175.86,138.88 176.02,138.95 176.18,138.97 176.34,138.89 176.50,138.76 176.66,138.65 176.82,138.58 176.98,138.59 177.14,138.64 177.30,138.69 177.46,138.69 177.62,138.64 177.78,138.63 177.94,138.68 178.10,138.70 178.26,138.64 178.42,138.60 178.58,138.62 178.74,138.70 178.90,138.80 179.06,138.95 179.22,139.08 179.38,139.16 179.54,139.19 179.70,139.19 179.86,139.15 180.02,139.13 180.18,139.18 180.34,139.27 180.50,139.27 180.66,139.09 180.82,138.78 180.98,138.50 181.14,138.38 181.30,138.41 181.46,138.57 181.62,138.81 181.78,139.02 181.94,139.12 182.10,139.15 182.26,139.14 182.42,139.07 182.58,139.01 182.74,139.02 182.90,139.08 183.06,139.11 183.22,139.16 183.38,139.25 183.54,139.38 183.70,139.51 183.86,139.56 184.02,139.44 184.18,139.22 184.34,139.09 184.50,139.12 184.66,139.19 184.82,139.19 184.98,139.14 185.14,139.12 185.30,139.14 185.46,139.12 185.62,139.06 185.78,139.07 185.94,139.13 186.10,139.13 186.26,139.01 186.42,138.88 186.58,138.87 186.74,138.93 186.90,138.88 187.06,138.71 187.22,138.59 187.38,138.68 187.54,138.95 187.70,139.22 187.86,139.30 188.02,139.22 188.18,139.14 188.34,139.12 188.50,139.15 188.66,139.14 188.82,139.10 188.98,139.06 189.14,139.01 189.30,138.92 189.46,138.82 189.62,138.79 189.78,138.90 189.94,139.07 190.10,139.18 190.26,139.17 190.42,139.11 190.58,139.03 190.74,138.95 190.90,138.92 191.06,139.01 191.22,139.15 191.38,139.22 191.54,139.20 191.70,139.14 191.86,139.17 192.02,139.26 192.18,139.30 192.34,139.21 192.50,139.06 192.66,138.96 192.82,138.96 192.98,139.00 193.14,138.98 193.30,138.90 193.46,138.89 193.62,139.01 193.78,139.27 193.94,139.52 194.10,139.60 194.26,139.49 194.42,139.29 194.58,139.12 194.74,139.00 194.90,138.93 195.06,138.91 195.22,138.97 195.38,139.11 195.54,139.20 195.70,139.16 195.86,139.01 196.02,138.87 196.18,138.78 196.34,138.80 196.50,138.94 196.66,139.10 196.82,139.20 196.98,139.26 197.14,139.34 197.30,139.39 197.46,139.38 197.62,139.31 197.78,139.24 197.94,139.17 198.10,139.09 198.26,138.95 198.42,138.78 198.58,138.73 198.74,138.89 198.90,139.09 199.06,139.19 199.22,139.20 199.38,139.24 199.54,139.38 199.70,139.52 199.86,139.53 200.02,139.42 200.18,139.33 200.34,139.32 200.50,139.29 200.66,139.14 200.82,139.02 200.98,139.08 201.14,139.18 201.30,139.16 201.46,139.06 201.62,139.08 201.78,139.23 201.94,139.35 202.10,139.32 202.26,139.18 202.42,139.03 202.58,138.97 202.74,139.00 202.90,139.10 203.06,139.20 203.22,139.22 203.38,139.14 203.54,139.03 203.70,138.95 203.86,138.94 204.02,139.03 204.18,139.17 204.34,139.30 204.50,139.39 204.66,139.39 204.82,139.26 204.98,139.09 205.14,139.01 205.30,138.99 205.46,138.94 205.62,138.88 205.78,138.82 205.94,138.73 206.10,138.67 206.26,138.71 206.42,138.84 206.58,139.05 206.74,139.29 206.90,139.45 207.06,139.44 207.22,139.32 207.38,139.26 207.54,139.29 207.70,139.32 207.86,139.25 208.02,139.15 208.18,139.09 208.34,139.09 208.50,139.12 208.66,139.17 208.82,139.22 208.98,139.19 209.14,138.98 209.30,138.68 209.46,138.54 209.62,138.69 209.78,138.95 209.94,139.10 210.10,139.19 210.26,139.28 210.42,139.36 210.58,139.38 210.74,139.34 210.90,139.24 211.06,139.13 211.22,139.05 211.38,139.02 211.54,139.06 211.70,139.16 211.86,139.15 212.02,138.99 212.18,138.84 212.34,138.89 212.50,139.06 212.66,139.17 212.82,139.08 212.98,138.90 213.14,138.83 213.30,138.97 213.46,139.22 213.62,139.43 213.78,139.48 213.94,139.42 214.10,139.32 214.26,139.23 214.42,139.13 214.58,139.02 214.74,138.95 214.90,138.98 215.06,139.10 215.22,139.26 215.38,139.38 215.54,139.38 215.70,139.32 215.86,139.23 216.02,139.15 216.18,139.07 216.34,139.01 216.50,139.00 216.66,139.02 216.82,139.02 216.98,138.98 217.14,138.93 217.30,138.95 217.46,139.06 217.62,139.24 217.78,139.38 217.94,139.46 218.10,139.53 218.26,139.61 218.42,139.64 218.58,139.59 218.74,139.48 218.90,139.30 219.06,139.11 219.22,139.03 219.38,139.09 219.54,139.20 219.70,139.20 219.86,139.04 220.02,138.84 220.18,138.77 220.34,138.79 220.50,138.83 220.66,138.88 220.82,138.96 220.98,138.98 221.14,138.95 221.30,138.93 221.46,138.90 221.62,138.86 221.78,138.87 221.94,138.99 222.10,139.09 222.26,139.05 222.42,138.93 222.58,138.86 222.74,138.86 222.90,138.87 223.06,138.88 223.22,138.90 223.38,138.96 223.54,139.03 223.70,139.11 223.86,139.19 224.02,139.30 224.18,139.41 224.34,139.50 224.50,139.59 224.66,139.59 224.82,139.48 224.98,139.30 225.14,139.10 225.30,138.88 225.46,138.73 225.62,138.68 225.78,138.77 225.94,139.02 226.10,139.37 226.26,139.61 226.42,139.60 226.58,139.41 226.74,139.25 226.90,139.17 227.06,139.15 227.22,139.22 227.38,139.37 227.54,139.51 227.70,139.50 227.86,139.36 228.02,139.22 228.18,139.18 228.34,139.21 228.50,139.22 228.66,139.16 228.82,139.03 228.98,138.94 229.14,138.99 229.30,139.15 229.46,139.33 229.62,139.42 229.78,139.42" fill="none" stroke="#6EA2FF" stroke-width="4.0" stroke-linejoin="round" stroke-linecap="butt"/>
<path d="M145.40,32.10V147.30H233.40" fill="none" stroke="#333" stroke-width="0.7"/>
<path d="M144.40,142.30H145.40" stroke="#333" stroke-width="0.6"/>
<text x="144.10" y="145.60" font-size="8.1" fill="#4d4d4d" color="#4d4d4d" text-anchor="end" style="stroke-width:0.12px">0.00</text>
<path d="M144.40,116.10H145.40" stroke="#333" stroke-width="0.6"/>
<text x="144.10" y="119.40" font-size="8.1" fill="#4d4d4d" color="#4d4d4d" text-anchor="end" style="stroke-width:0.12px">0.25</text>
<path d="M144.40,89.90H145.40" stroke="#333" stroke-width="0.6"/>
<text x="144.10" y="93.20" font-size="8.1" fill="#4d4d4d" color="#4d4d4d" text-anchor="end" style="stroke-width:0.12px">0.50</text>
<path d="M144.40,63.70H145.40" stroke="#333" stroke-width="0.6"/>
<text x="144.10" y="67.00" font-size="8.1" fill="#4d4d4d" color="#4d4d4d" text-anchor="end" style="stroke-width:0.12px">0.75</text>
<path d="M144.40,37.50H145.40" stroke="#333" stroke-width="0.6"/>
<text x="144.10" y="40.80" font-size="8.1" fill="#4d4d4d" color="#4d4d4d" text-anchor="end" style="stroke-width:0.12px">1.00</text>
<path d="M149.30,147.30V148.30" stroke="#333" stroke-width="0.6"/>
<text x="149.75" y="153.90" font-size="6.3" fill="#4d4d4d" color="#4d4d4d" text-anchor="middle" style="stroke-width:0.12px">0</text>
<path d="M165.30,147.30V148.30" stroke="#333" stroke-width="0.6"/>
<text x="165.75" y="153.90" font-size="6.3" fill="#4d4d4d" color="#4d4d4d" text-anchor="middle" style="stroke-width:0.12px">100</text>
<path d="M181.30,147.30V148.30" stroke="#333" stroke-width="0.6"/>
<text x="181.75" y="153.90" font-size="6.3" fill="#4d4d4d" color="#4d4d4d" text-anchor="middle" style="stroke-width:0.12px">200</text>
<path d="M197.30,147.30V148.30" stroke="#333" stroke-width="0.6"/>
<text x="197.75" y="153.90" font-size="6.3" fill="#4d4d4d" color="#4d4d4d" text-anchor="middle" style="stroke-width:0.12px">300</text>
<path d="M213.30,147.30V148.30" stroke="#333" stroke-width="0.6"/>
<text x="213.75" y="153.90" font-size="6.3" fill="#4d4d4d" color="#4d4d4d" text-anchor="middle" style="stroke-width:0.12px">400</text>
<path d="M229.30,147.30V148.30" stroke="#333" stroke-width="0.6"/>
<text x="229.75" y="153.90" font-size="6.3" fill="#4d4d4d" color="#4d4d4d" text-anchor="middle" style="stroke-width:0.12px">500</text>
<rect x="252.40" y="19.50" width="87.80" height="12.60" fill="#fff" stroke="#7f7f7f" stroke-width="0.9"/>
<text x="296.40" y="28.70" font-size="7.05" fill="#1a1a1a" color="#1a1a1a" style="stroke-width:0.1px" text-anchor="middle">Pleiotropy on UG production</text>
<polyline points="256.30,142.30 256.46,142.29 256.62,142.31 256.78,142.32 256.94,142.32 257.10,142.34 257.26,142.37 257.42,142.40 257.58,142.43 257.74,142.44 257.90,142.43 258.06,142.40 258.22,142.36 258.38,142.34 258.54,142.34 258.70,142.37 258.86,142.39 259.02,142.38 259.18,142.36 259.34,142.36 259.50,142.37 259.66,142.38 259.82,142.37 259.98,142.34 260.14,142.32 260.30,142.31 260.46,142.30 260.62,142.30 260.78,142.30 260.94,142.31 261.10,142.31 261.26,142.32 261.42,142.32 261.58,142.31 261.74,142.30 261.90,142.30 262.06,142.29 262.22,142.28 262.38,142.26 262.54,142.25 262.70,142.26 262.86,142.29 263.02,142.30 263.18,142.29 263.34,142.28 263.50,142.27 263.66,142.26 263.82,142.25 263.98,142.26 264.14,142.28 264.30,142.30 264.46,142.32 264.62,142.34 264.78,142.35 264.94,142.33 265.10,142.30 265.26,142.28 265.42,142.29 265.58,142.32 265.74,142.35 265.90,142.36 266.06,142.36 266.22,142.34 266.38,142.30 266.54,142.27 266.70,142.27 266.86,142.29 267.02,142.29 267.18,142.29 267.34,142.28 267.50,142.29 267.66,142.30 267.82,142.31 267.98,142.32 268.14,142.33 268.30,142.34 268.46,142.32 268.62,142.29 268.78,142.26 268.94,142.25 269.10,142.26 269.26,142.26 269.42,142.27 269.58,142.27 269.74,142.28 269.90,142.31 270.06,142.34 270.22,142.38 270.38,142.41 270.54,142.41 270.70,142.39 270.86,142.34 271.02,142.29 271.18,142.27 271.34,142.28 271.50,142.30 271.66,142.30 271.82,142.29 271.98,142.29 272.14,142.29 272.30,142.29 272.46,142.30 272.62,142.32 272.78,142.33 272.94,142.33 273.10,142.33 273.26,142.32 273.42,142.31 273.58,142.29 273.74,142.29 273.90,142.31 274.06,142.34 274.22,142.37 274.38,142.40 274.54,142.40 274.70,142.38 274.86,142.37 275.02,142.36 275.18,142.34 275.34,142.33 275.50,142.31 275.66,142.30 275.82,142.30 275.98,142.29 276.14,142.26 276.30,142.25 276.46,142.27 276.62,142.30 276.78,142.32 276.94,142.32 277.10,142.31 277.26,142.32 277.42,142.33 277.58,142.35 277.74,142.35 277.90,142.33 278.06,142.30 278.22,142.27 278.38,142.28 278.54,142.30 278.70,142.32 278.86,142.34 279.02,142.34 279.18,142.34 279.34,142.34 279.50,142.35 279.66,142.35 279.82,142.33 279.98,142.31 280.14,142.31 280.30,142.31 280.46,142.30 280.62,142.31 280.78,142.33 280.94,142.35 281.10,142.37 281.26,142.36 281.42,142.33 281.58,142.31 281.74,142.31 281.90,142.32 282.06,142.32 282.22,142.33 282.38,142.35 282.54,142.35 282.70,142.34 282.86,142.31 283.02,142.30 283.18,142.30 283.34,142.31 283.50,142.32 283.66,142.31 283.82,142.31 283.98,142.30 284.14,142.29 284.30,142.27 284.46,142.25 284.62,142.26 284.78,142.28 284.94,142.31 285.10,142.31 285.26,142.29 285.42,142.26 285.58,142.25 285.74,142.24 285.90,142.23 286.06,142.23 286.22,142.24 286.38,142.25 286.54,142.27 286.70,142.27 286.86,142.26 287.02,142.23 287.18,142.20 287.34,142.20 287.50,142.25 287.66,142.31 287.82,142.34 287.98,142.34 288.14,142.33 288.30,142.33 288.46,142.35 288.62,142.38 288.78,142.38 288.94,142.36 289.10,142.33 289.26,142.33 289.42,142.34 289.58,142.37 289.74,142.38 289.90,142.39 290.06,142.38 290.22,142.37 290.38,142.34 290.54,142.32 290.70,142.33 290.86,142.35 291.02,142.37 291.18,142.37 291.34,142.36 291.50,142.34 291.66,142.31 291.82,142.28 291.98,142.26 292.14,142.26 292.30,142.27 292.46,142.29 292.62,142.31 292.78,142.33 292.94,142.34 293.10,142.33 293.26,142.31 293.42,142.29 293.58,142.29 293.74,142.29 293.90,142.30 294.06,142.35 294.22,142.40 294.38,142.45 294.54,142.47 294.70,142.45 294.86,142.39 295.02,142.34 295.18,142.32 295.34,142.33 295.50,142.32 295.66,142.30 295.82,142.28 295.98,142.28 296.14,142.28 296.30,142.27 296.46,142.26 296.62,142.27 296.78,142.29 296.94,142.31 297.10,142.31 297.26,142.31 297.42,142.31 297.58,142.33 297.74,142.33 297.90,142.32 298.06,142.29 298.22,142.25 298.38,142.24 298.54,142.25 298.70,142.29 298.86,142.33 299.02,142.35 299.18,142.35 299.34,142.34 299.50,142.33 299.66,142.33 299.82,142.32 299.98,142.29 300.14,142.26 300.30,142.25 300.46,142.25 300.62,142.27 300.78,142.30 300.94,142.32 301.10,142.31 301.26,142.27 301.42,142.23 301.58,142.22 301.74,142.24 301.90,142.26 302.06,142.29 302.22,142.30 302.38,142.29 302.54,142.26 302.70,142.25 302.86,142.26 303.02,142.29 303.18,142.30 303.34,142.29 303.50,142.26 303.66,142.27 303.82,142.29 303.98,142.32 304.14,142.33 304.30,142.32 304.46,142.30 304.62,142.31 304.78,142.32 304.94,142.33 305.10,142.35 305.26,142.36 305.42,142.35 305.58,142.33 305.74,142.31 305.90,142.28 306.06,142.27 306.22,142.26 306.38,142.28 306.54,142.30 306.70,142.31 306.86,142.31 307.02,142.30 307.18,142.27 307.34,142.26 307.50,142.28 307.66,142.31 307.82,142.34 307.98,142.35 308.14,142.35 308.30,142.34 308.46,142.30 308.62,142.27 308.78,142.24 308.94,142.22 309.10,142.21 309.26,142.22 309.42,142.24 309.58,142.28 309.74,142.32 309.90,142.33 310.06,142.30 310.22,142.27 310.38,142.28 310.54,142.31 310.70,142.34 310.86,142.33 311.02,142.32 311.18,142.30 311.34,142.29 311.50,142.29 311.66,142.30 311.82,142.30 311.98,142.29 312.14,142.26 312.30,142.24 312.46,142.23 312.62,142.25 312.78,142.30 312.94,142.35 313.10,142.38 313.26,142.39 313.42,142.36 313.58,142.32 313.74,142.31 313.90,142.33 314.06,142.35 314.22,142.35 314.38,142.31 314.54,142.26 314.70,142.24 314.86,142.27 315.02,142.32 315.18,142.35 315.34,142.35 315.50,142.35 315.66,142.35 315.82,142.33 315.98,142.30 316.14,142.26 316.30,142.24 316.46,142.24 316.62,142.26 316.78,142.29 316.94,142.31 317.10,142.34 317.26,142.36 317.42,142.37 317.58,142.36 317.74,142.33 317.90,142.30 318.06,142.30 318.22,142.31 318.38,142.34 318.54,142.34 318.70,142.32 318.86,142.30 319.02,142.28 319.18,142.29 319.34,142.31 319.50,142.33 319.66,142.33 319.82,142.32 319.98,142.31 320.14,142.30 320.30,142.27 320.46,142.25 320.62,142.25 320.78,142.28 320.94,142.29 321.10,142.28 321.26,142.24 321.42,142.23 321.58,142.25 321.74,142.29 321.90,142.33 322.06,142.35 322.22,142.34 322.38,142.32 322.54,142.30 322.70,142.30 322.86,142.31 323.02,142.33 323.18,142.34 323.34,142.35 323.50,142.35 323.66,142.35 323.82,142.36 323.98,142.37 324.14,142.38 324.30,142.36 324.46,142.34 324.62,142.33 324.78,142.34 324.94,142.35 325.10,142.35 325.26,142.33 325.42,142.30 325.58,142.28 325.74,142.28 325.90,142.29 326.06,142.30 326.22,142.31 326.38,142.31 326.54,142.30 326.70,142.29 326.86,142.30 327.02,142.31 327.18,142.32 327.34,142.32 327.50,142.30 327.66,142.30 327.82,142.32 327.98,142.35 328.14,142.36 328.30,142.37 328.46,142.38 328.62,142.37 328.78,142.35 328.94,142.35 329.10,142.36 329.26,142.38 329.42,142.39 329.58,142.37 329.74,142.35 329.90,142.34 330.06,142.33 330.22,142.33 330.38,142.33 330.54,142.34 330.70,142.37 330.86,142.38 331.02,142.35 331.18,142.31 331.34,142.29 331.50,142.28 331.66,142.28 331.82,142.28 331.98,142.27 332.14,142.29 332.30,142.34 332.46,142.38 332.62,142.39 332.78,142.36 332.94,142.33 333.10,142.32 333.26,142.34 333.42,142.35 333.58,142.35 333.74,142.35 333.90,142.36 334.06,142.35 334.22,142.34 334.38,142.33 334.54,142.35 334.70,142.36 334.86,142.36 335.02,142.33 335.18,142.29 335.34,142.29 335.50,142.33 335.66,142.37 335.82,142.38 335.98,142.37 336.14,142.34 336.30,142.33 336.46,142.33 336.62,142.33 336.78,142.31" fill="none" stroke="#EE6C67" stroke-width="4.0" stroke-linejoin="round" stroke-linecap="butt"/>
<polyline points="256.30,140.44 256.46,140.65 256.62,140.84 256.78,141.04 256.94,141.26 257.10,141.46 257.26,141.64 257.42,141.83 257.58,142.06 257.74,142.11 257.90,142.14 258.06,142.18 258.22,142.21 258.38,142.20 258.54,142.17 258.70,142.16 258.86,142.17 259.02,142.20 259.18,142.21 259.34,142.24 259.50,142.30 259.66,142.30 259.82,142.18 259.98,142.02 260.14,141.90 260.30,141.88 260.46,142.00 260.62,142.24 260.78,142.40 260.94,142.40 261.10,142.34 261.26,142.35 261.42,142.40 261.58,142.37 261.74,142.24 261.90,142.08 262.06,142.00 262.22,142.04 262.38,142.14 262.54,142.25 262.70,142.31 262.86,142.32 263.02,142.27 263.18,142.14 263.34,141.97 263.50,141.83 263.66,141.73 263.82,141.71 263.98,141.80 264.14,141.95 264.30,142.06 264.46,142.07 264.62,142.01 264.78,141.96 264.94,141.97 265.10,142.04 265.26,142.10 265.42,142.10 265.58,142.03 265.74,141.97 265.90,141.95 266.06,141.94 266.22,141.91 266.38,141.87 266.54,141.86 266.70,141.86 266.86,141.90 267.02,142.01 267.18,142.12 267.34,142.10 267.50,141.97 267.66,141.86 267.82,141.84 267.98,141.85 268.14,141.88 268.30,141.95 268.46,142.07 268.62,142.16 268.78,142.21 268.94,142.27 269.10,142.33 269.26,142.37 269.42,142.35 269.58,142.31 269.74,142.25 269.90,142.19 270.06,142.16 270.22,142.18 270.38,142.22 270.54,142.23 270.70,142.25 270.86,142.28 271.02,142.28 271.18,142.25 271.34,142.20 271.50,142.16 271.66,142.10 271.82,142.07 271.98,142.14 272.14,142.24 272.30,142.28 272.46,142.24 272.62,142.21 272.78,142.24 272.94,142.27 273.10,142.27 273.26,142.17 273.42,142.03 273.58,141.95 273.74,141.97 273.90,142.03 274.06,142.08 274.22,142.10 274.38,142.08 274.54,142.03 274.70,142.00 274.86,142.02 275.02,142.08 275.18,142.14 275.34,142.18 275.50,142.22 275.66,142.27 275.82,142.28 275.98,142.24 276.14,142.15 276.30,142.07 276.46,142.01 276.62,141.99 276.78,142.02 276.94,142.09 277.10,142.15 277.26,142.20 277.42,142.29 277.58,142.41 277.74,142.45 277.90,142.45 278.06,142.46 278.22,142.46 278.38,142.38 278.54,142.25 278.70,142.10 278.86,142.02 279.02,141.99 279.18,142.01 279.34,142.03 279.50,142.05 279.66,142.12 279.82,142.17 279.98,142.14 280.14,142.04 280.30,141.95 280.46,141.93 280.62,141.95 280.78,141.99 280.94,142.06 281.10,142.14 281.26,142.17 281.42,142.11 281.58,141.97 281.74,141.88 281.90,141.90 282.06,142.00 282.22,142.15 282.38,142.31 282.54,142.43 282.70,142.44 282.86,142.41 283.02,142.35 283.18,142.28 283.34,142.21 283.50,142.15 283.66,142.11 283.82,142.10 283.98,142.16 284.14,142.22 284.30,142.25 284.46,142.23 284.62,142.18 284.78,142.07 284.94,141.92 285.10,141.76 285.26,141.67 285.42,141.69 285.58,141.84 285.74,142.05 285.90,142.18 286.06,142.19 286.22,142.12 286.38,142.02 286.54,141.93 286.70,141.92 286.86,142.00 287.02,142.13 287.18,142.29 287.34,142.43 287.50,142.50 287.66,142.48 287.82,142.37 287.98,142.23 288.14,142.15 288.30,142.13 288.46,142.10 288.62,142.04 288.78,142.02 288.94,142.05 289.10,142.08 289.26,142.14 289.42,142.29 289.58,142.52 289.74,142.67 289.90,142.62 290.06,142.40 290.22,142.18 290.38,142.07 290.54,142.10 290.70,142.15 290.86,142.16 291.02,142.15 291.18,142.17 291.34,142.20 291.50,142.24 291.66,142.29 291.82,142.30 291.98,142.26 292.14,142.28 292.30,142.34 292.46,142.30 292.62,142.15 292.78,141.99 292.94,141.91 293.10,141.90 293.26,141.93 293.42,142.00 293.58,142.06 293.74,142.12 293.90,142.17 294.06,142.18 294.22,142.16 294.38,142.16 294.54,142.25 294.70,142.34 294.86,142.35 295.02,142.27 295.18,142.18 295.34,142.18 295.50,142.24 295.66,142.30 295.82,142.32 295.98,142.27 296.14,142.19 296.30,142.14 296.46,142.18 296.62,142.26 296.78,142.34 296.94,142.37 297.10,142.34 297.26,142.28 297.42,142.24 297.58,142.25 297.74,142.26 297.90,142.28 298.06,142.29 298.22,142.29 298.38,142.25 298.54,142.18 298.70,142.08 298.86,142.04 299.02,142.06 299.18,142.11 299.34,142.16 299.50,142.23 299.66,142.31 299.82,142.31 299.98,142.21 300.14,142.09 300.30,142.02 300.46,141.99 300.62,142.00 300.78,142.04 300.94,142.08 301.10,142.13 301.26,142.20 301.42,142.24 301.58,142.20 301.74,142.15 301.90,142.14 302.06,142.20 302.22,142.29 302.38,142.31 302.54,142.29 302.70,142.30 302.86,142.36 303.02,142.45 303.18,142.49 303.34,142.45 303.50,142.42 303.66,142.46 303.82,142.52 303.98,142.56 304.14,142.57 304.30,142.54 304.46,142.49 304.62,142.44 304.78,142.42 304.94,142.46 305.10,142.53 305.26,142.59 305.42,142.62 305.58,142.61 305.74,142.52 305.90,142.34 306.06,142.16 306.22,142.06 306.38,142.12 306.54,142.27 306.70,142.39 306.86,142.40 307.02,142.33 307.18,142.24 307.34,142.21 307.50,142.27 307.66,142.35 307.82,142.37 307.98,142.30 308.14,142.15 308.30,142.00 308.46,141.92 308.62,141.97 308.78,142.10 308.94,142.28 309.10,142.40 309.26,142.39 309.42,142.28 309.58,142.15 309.74,142.07 309.90,142.05 310.06,142.02 310.22,141.96 310.38,141.96 310.54,142.03 310.70,142.09 310.86,142.13 311.02,142.15 311.18,142.17 311.34,142.19 311.50,142.26 311.66,142.37 311.82,142.45 311.98,142.43 312.14,142.35 312.30,142.28 312.46,142.24 312.62,142.21 312.78,142.20 312.94,142.19 313.10,142.18 313.26,142.24 313.42,142.35 313.58,142.44 313.74,142.48 313.90,142.46 314.06,142.38 314.22,142.25 314.38,142.14 314.54,142.09 314.70,142.09 314.86,142.06 315.02,141.96 315.18,141.87 315.34,141.87 315.50,141.95 315.66,142.00 315.82,141.96 315.98,141.94 316.14,142.00 316.30,142.10 316.46,142.12 316.62,142.11 316.78,142.15 316.94,142.25 317.10,142.35 317.26,142.44 317.42,142.47 317.58,142.42 317.74,142.31 317.90,142.19 318.06,142.13 318.22,142.16 318.38,142.23 318.54,142.32 318.70,142.37 318.86,142.36 319.02,142.38 319.18,142.44 319.34,142.46 319.50,142.38 319.66,142.23 319.82,142.11 319.98,142.03 320.14,141.97 320.30,141.95 320.46,142.06 320.62,142.29 320.78,142.47 320.94,142.44 321.10,142.26 321.26,142.12 321.42,142.10 321.58,142.15 321.74,142.19 321.90,142.20 322.06,142.20 322.22,142.21 322.38,142.24 322.54,142.24 322.70,142.19 322.86,142.15 323.02,142.14 323.18,142.17 323.34,142.16 323.50,142.13 323.66,142.12 323.82,142.14 323.98,142.12 324.14,142.05 324.30,141.98 324.46,142.00 324.62,142.11 324.78,142.26 324.94,142.38 325.10,142.42 325.26,142.41 325.42,142.38 325.58,142.31 325.74,142.20 325.90,142.10 326.06,142.08 326.22,142.15 326.38,142.20 326.54,142.20 326.70,142.18 326.86,142.16 327.02,142.16 327.18,142.21 327.34,142.31 327.50,142.38 327.66,142.37 327.82,142.29 327.98,142.15 328.14,142.06 328.30,142.08 328.46,142.18 328.62,142.22 328.78,142.19 328.94,142.18 329.10,142.25 329.26,142.36 329.42,142.40 329.58,142.32 329.74,142.19 329.90,142.11 330.06,142.13 330.22,142.19 330.38,142.23 330.54,142.20 330.70,142.15 330.86,142.12 331.02,142.12 331.18,142.12 331.34,142.11 331.50,142.10 331.66,142.11 331.82,142.16 331.98,142.25 332.14,142.33 332.30,142.36 332.46,142.32 332.62,142.24 332.78,142.19 332.94,142.20 333.10,142.26 333.26,142.30 333.42,142.29 333.58,142.27 333.74,142.27 333.90,142.31 334.06,142.37 334.22,142.43 334.38,142.48 334.54,142.48 334.70,142.41 334.86,142.31 335.02,142.28 335.18,142.33 335.34,142.43 335.50,142.46 335.66,142.39 335.82,142.28 335.98,142.22 336.14,142.21 336.30,142.21 336.46,142.21 336.62,142.21 336.78,142.22" fill="none" stroke="#47D63E" stroke-width="4.0" stroke-linejoin="round" stroke-linecap="butt"/>
<polyline points="256.30,138.40 256.46,137.06 256.62,135.70 256.78,134.49 256.94,134.26 257.10,134.13 257.26,133.94 257.42,134.57 257.58,135.18 257.74,135.84 257.90,136.97 258.06,138.08 258.22,139.09 258.38,139.20 258.54,139.37 258.70,139.62 258.86,139.86 259.02,139.91 259.18,139.97 259.34,140.04 259.50,140.15 259.66,140.29 259.82,140.38 259.98,140.35 260.14,140.21 260.30,140.02 260.46,139.87 260.62,139.82 260.78,139.84 260.94,139.84 261.10,139.83 261.26,139.84 261.42,139.95 261.58,140.09 261.74,140.14 261.90,140.08 262.06,139.97 262.22,139.95 262.38,140.03 262.54,140.09 262.70,140.06 262.86,140.01 263.02,140.06 263.18,140.12 263.34,140.12 263.50,140.04 263.66,139.99 263.82,140.00 263.98,140.02 264.14,139.99 264.30,139.93 264.46,139.87 264.62,139.79 264.78,139.73 264.94,139.79 265.10,139.95 265.26,140.04 265.42,140.01 265.58,139.91 265.74,139.85 265.90,139.90 266.06,140.04 266.22,140.19 266.38,140.25 266.54,140.19 266.70,140.09 266.86,140.05 267.02,140.03 267.18,139.95 267.34,139.84 267.50,139.82 267.66,139.84 267.82,139.84 267.98,139.80 268.14,139.76 268.30,139.78 268.46,139.86 268.62,139.89 268.78,139.85 268.94,139.76 269.10,139.63 269.26,139.48 269.42,139.41 269.58,139.45 269.74,139.59 269.90,139.73 270.06,139.76 270.22,139.69 270.38,139.62 270.54,139.60 270.70,139.66 270.86,139.74 271.02,139.76 271.18,139.72 271.34,139.64 271.50,139.60 271.66,139.65 271.82,139.77 271.98,139.83 272.14,139.79 272.30,139.67 272.46,139.61 272.62,139.69 272.78,139.86 272.94,139.99 273.10,140.06 273.26,140.09 273.42,140.07 273.58,140.00 273.74,139.93 273.90,139.94 274.06,140.01 274.22,140.10 274.38,140.18 274.54,140.15 274.70,140.03 274.86,139.92 275.02,139.84 275.18,139.80 275.34,139.79 275.50,139.79 275.66,139.75 275.82,139.66 275.98,139.58 276.14,139.57 276.30,139.64 276.46,139.79 276.62,139.97 276.78,140.05 276.94,139.98 277.10,139.82 277.26,139.79 277.42,139.94 277.58,140.10 277.74,140.09 277.90,139.95 278.06,139.81 278.22,139.72 278.38,139.72 278.54,139.80 278.70,139.92 278.86,139.97 279.02,139.89 279.18,139.71 279.34,139.53 279.50,139.49 279.66,139.62 279.82,139.81 279.98,139.94 280.14,139.99 280.30,139.98 280.46,139.90 280.62,139.79 280.78,139.73 280.94,139.71 281.10,139.70 281.26,139.75 281.42,139.88 281.58,140.01 281.74,140.04 281.90,140.01 282.06,140.02 282.22,140.04 282.38,139.99 282.54,139.90 282.70,139.86 282.86,139.90 283.02,140.00 283.18,140.19 283.34,140.44 283.50,140.59 283.66,140.50 283.82,140.25 283.98,140.07 284.14,139.98 284.30,139.91 284.46,139.86 284.62,139.89 284.78,139.98 284.94,140.06 285.10,140.06 285.26,139.93 285.42,139.80 285.58,139.73 285.74,139.71 285.90,139.69 286.06,139.68 286.22,139.74 286.38,139.83 286.54,139.91 286.70,139.96 286.86,139.97 287.02,139.94 287.18,139.92 287.34,139.93 287.50,139.97 287.66,139.99 287.82,139.93 287.98,139.80 288.14,139.70 288.30,139.70 288.46,139.78 288.62,139.88 288.78,139.95 288.94,139.97 289.10,139.95 289.26,139.89 289.42,139.84 289.58,139.84 289.74,139.86 289.90,139.83 290.06,139.71 290.22,139.62 290.38,139.66 290.54,139.83 290.70,140.03 290.86,140.16 291.02,140.23 291.18,140.26 291.34,140.24 291.50,140.24 291.66,140.25 291.82,140.17 291.98,140.02 292.14,139.92 292.30,139.98 292.46,140.13 292.62,140.22 292.78,140.21 292.94,140.13 293.10,140.04 293.26,139.93 293.42,139.84 293.58,139.84 293.74,139.95 293.90,140.03 294.06,139.98 294.22,139.84 294.38,139.76 294.54,139.86 294.70,140.09 294.86,140.37 295.02,140.60 295.18,140.71 295.34,140.60 295.50,140.32 295.66,140.04 295.82,139.91 295.98,139.87 296.14,139.79 296.30,139.63 296.46,139.47 296.62,139.39 296.78,139.38 296.94,139.38 297.10,139.38 297.26,139.41 297.42,139.50 297.58,139.60 297.74,139.67 297.90,139.71 298.06,139.75 298.22,139.80 298.38,139.80 298.54,139.80 298.70,139.88 298.86,140.04 299.02,140.17 299.18,140.22 299.34,140.18 299.50,140.10 299.66,140.05 299.82,140.04 299.98,140.03 300.14,140.01 300.30,140.07 300.46,140.17 300.62,140.16 300.78,140.10 300.94,140.10 301.10,140.19 301.26,140.31 301.42,140.33 301.58,140.17 301.74,139.91 301.90,139.76 302.06,139.75 302.22,139.80 302.38,139.82 302.54,139.85 302.70,139.91 302.86,139.95 303.02,139.94 303.18,139.91 303.34,139.94 303.50,139.97 303.66,139.97 303.82,140.00 303.98,140.12 304.14,140.28 304.30,140.43 304.46,140.52 304.62,140.48 304.78,140.29 304.94,140.08 305.10,139.94 305.26,139.83 305.42,139.71 305.58,139.55 305.74,139.36 305.90,139.22 306.06,139.18 306.22,139.26 306.38,139.41 306.54,139.60 306.70,139.82 306.86,139.98 307.02,140.04 307.18,139.97 307.34,139.87 307.50,139.86 307.66,139.93 307.82,139.94 307.98,139.88 308.14,139.88 308.30,139.97 308.46,140.10 308.62,140.21 308.78,140.29 308.94,140.27 309.10,140.17 309.26,140.07 309.42,140.02 309.58,140.00 309.74,139.97 309.90,139.88 310.06,139.77 310.22,139.74 310.38,139.84 310.54,140.01 310.70,140.08 310.86,140.00 311.02,139.91 311.18,139.96 311.34,140.14 311.50,140.28 311.66,140.31 311.82,140.24 311.98,140.12 312.14,139.96 312.30,139.85 312.46,139.86 312.62,139.95 312.78,140.02 312.94,140.03 313.10,139.98 313.26,139.93 313.42,139.90 313.58,139.94 313.74,140.00 313.90,140.03 314.06,140.06 314.22,140.11 314.38,140.15 314.54,140.15 314.70,140.10 314.86,140.03 315.02,139.94 315.18,139.85 315.34,139.78 315.50,139.74 315.66,139.73 315.82,139.75 315.98,139.77 316.14,139.72 316.30,139.59 316.46,139.44 316.62,139.40 316.78,139.52 316.94,139.70 317.10,139.76 317.26,139.72 317.42,139.71 317.58,139.84 317.74,140.05 317.90,140.24 318.06,140.34 318.22,140.34 318.38,140.24 318.54,140.08 318.70,139.97 318.86,139.96 319.02,139.98 319.18,139.97 319.34,139.96 319.50,139.97 319.66,140.01 319.82,140.05 319.98,140.02 320.14,139.84 320.30,139.60 320.46,139.48 320.62,139.61 320.78,139.85 320.94,140.02 321.10,140.02 321.26,139.92 321.42,139.86 321.58,139.90 321.74,140.04 321.90,140.21 322.06,140.33 322.22,140.38 322.38,140.36 322.54,140.28 322.70,140.17 322.86,140.03 323.02,139.85 323.18,139.68 323.34,139.66 323.50,139.86 323.66,140.12 323.82,140.26 323.98,140.29 324.14,140.28 324.30,140.24 324.46,140.19 324.62,140.18 324.78,140.27 324.94,140.40 325.10,140.44 325.26,140.38 325.42,140.28 325.58,140.19 325.74,140.13 325.90,140.09 326.06,140.06 326.22,140.07 326.38,140.13 326.54,140.20 326.70,140.16 326.86,140.08 327.02,140.07 327.18,140.10 327.34,140.00 327.50,139.78 327.66,139.56 327.82,139.48 327.98,139.60 328.14,139.80 328.30,139.91 328.46,139.92 328.62,139.91 328.78,139.97 328.94,140.13 329.10,140.26 329.26,140.27 329.42,140.20 329.58,140.12 329.74,140.05 329.90,139.97 330.06,139.92 330.22,139.94 330.38,140.00 330.54,139.97 330.70,139.83 330.86,139.73 331.02,139.78 331.18,139.91 331.34,140.00 331.50,140.00 331.66,140.02 331.82,140.06 331.98,140.06 332.14,140.02 332.30,139.98 332.46,139.93 332.62,139.89 332.78,139.91 332.94,139.98 333.10,140.08 333.26,140.23 333.42,140.35 333.58,140.35 333.74,140.22 333.90,140.06 334.06,139.95 334.22,139.83 334.38,139.67 334.54,139.54 334.70,139.56 334.86,139.73 335.02,140.01 335.18,140.28 335.34,140.44 335.50,140.47 335.66,140.43 335.82,140.31 335.98,140.09 336.14,139.85 336.30,139.72 336.46,139.72 336.62,139.82 336.78,139.95" fill="none" stroke="#6EA2FF" stroke-width="4.0" stroke-linejoin="round" stroke-linecap="butt"/>
<path d="M252.40,32.10V147.30H340.40" fill="none" stroke="#333" stroke-width="0.7"/>
<path d="M251.40,142.30H252.40" stroke="#333" stroke-width="0.6"/>
<text x="251.10" y="145.60" font-size="8.1" fill="#4d4d4d" color="#4d4d4d" text-anchor="end" style="stroke-width:0.12px">0.00</text>
<path d="M251.40,116.10H252.40" stroke="#333" stroke-width="0.6"/>
<text x="251.10" y="119.40" font-size="8.1" fill="#4d4d4d" color="#4d4d4d" text-anchor="end" style="stroke-width:0.12px">0.25</text>
<path d="M251.40,89.90H252.40" stroke="#333" stroke-width="0.6"/>
<text x="251.10" y="93.20" font-size="8.1" fill="#4d4d4d" color="#4d4d4d" text-anchor="end" style="stroke-width:0.12px">0.50</text>
<path d="M251.40,63.70H252.40" stroke="#333" stroke-width="0.6"/>
<text x="251.10" y="67.00" font-size="8.1" fill="#4d4d4d" color="#4d4d4d" text-anchor="end" style="stroke-width:0.12px">0.75</text>
<path d="M251.40,37.50H252.40" stroke="#333" stroke-width="0.6"/>
<text x="251.10" y="40.80" font-size="8.1" fill="#4d4d4d" color="#4d4d4d" text-anchor="end" style="stroke-width:0.12px">1.00</text>
<path d="M256.30,147.30V148.30" stroke="#333" stroke-width="0.6"/>
<text x="256.75" y="153.90" font-size="6.3" fill="#4d4d4d" color="#4d4d4d" text-anchor="middle" style="stroke-width:0.12px">0</text>
<path d="M272.30,147.30V148.30" stroke="#333" stroke-width="0.6"/>
<text x="272.75" y="153.90" font-size="6.3" fill="#4d4d4d" color="#4d4d4d" text-anchor="middle" style="stroke-width:0.12px">100</text>
<path d="M288.30,147.30V148.30" stroke="#333" stroke-width="0.6"/>
<text x="288.75" y="153.90" font-size="6.3" fill="#4d4d4d" color="#4d4d4d" text-anchor="middle" style="stroke-width:0.12px">200</text>
<path d="M304.30,147.30V148.30" stroke="#333" stroke-width="0.6"/>
<text x="304.75" y="153.90" font-size="6.3" fill="#4d4d4d" color="#4d4d4d" text-anchor="middle" style="stroke-width:0.12px">300</text>
<path d="M320.30,147.30V148.30" stroke="#333" stroke-width="0.6"/>
<text x="320.75" y="153.90" font-size="6.3" fill="#4d4d4d" color="#4d4d4d" text-anchor="middle" style="stroke-width:0.12px">400</text>
<path d="M336.30,147.30V148.30" stroke="#333" stroke-width="0.6"/>
<text x="336.75" y="153.90" font-size="6.3" fill="#4d4d4d" color="#4d4d4d" text-anchor="middle" style="stroke-width:0.12px">500</text>
<text transform="translate(13.30,89.70) rotate(-90)" font-size="7.9" font-weight="bold" fill="#000" color="#000" text-anchor="middle">Frequency of tetraploids</text>
<text x="189.30" y="164.80" font-size="8.8" font-weight="bold" fill="#000" color="#000" text-anchor="middle">Generation</text>
<rect x="136.30" y="173.60" width="14.90" height="4.1" fill="#EE6C67"/>
<text x="154.10" y="178.35" font-size="8.1" fill="#1a1a1a" color="#1a1a1a">0.005</text>
<rect x="178.00" y="173.60" width="14.30" height="4.1" fill="#47D63E"/>
<text x="195.20" y="178.35" font-size="8.1" fill="#1a1a1a" color="#1a1a1a">0.05</text>
<rect x="215.00" y="173.60" width="14.30" height="4.1" fill="#6EA2FF"/>
<text x="233.00" y="178.35" font-size="8.1" fill="#1a1a1a" color="#1a1a1a">0.1</text>
<text x="189.30" y="188.20" font-size="8.0" fill="#1a1a1a" color="#1a1a1a" text-anchor="middle">Mean of 100 replicates</text>
<text x="343.70" y="7.85" font-size="9.4" fill="#000" color="#000" style="stroke-width:0.2px">B</text>
<text x="381.00" y="15.80" font-size="9.6" fill="#000" color="#000" style="stroke-width:0.1px">Frequency of tetraploids with 0.1 environmental effect</text>
<rect x="381.00" y="19.50" width="87.80" height="12.60" fill="#fff" stroke="#7f7f7f" stroke-width="0.9"/>
<text x="425.00" y="28.70" font-size="7.05" fill="#1a1a1a" color="#1a1a1a" style="stroke-width:0.1px" text-anchor="middle">No pleiotropy</text>
<polyline points="384.90,142.28 385.06,142.27 385.22,142.27 385.38,142.28 385.54,142.28 385.70,142.27 385.86,142.27 386.02,142.28 386.18,142.30 386.34,142.32 386.50,142.36 386.66,142.38 386.82,142.39 386.98,142.41 387.14,142.43 387.30,142.43 387.46,142.43 387.62,142.42 387.78,142.39 387.94,142.34 388.10,142.31 388.26,142.30 388.42,142.30 388.58,142.29 388.74,142.27 388.90,142.26 389.06,142.25 389.22,142.26 389.38,142.29 389.54,142.30 389.70,142.29 389.86,142.28 390.02,142.30 390.18,142.35 390.34,142.39 390.50,142.41 390.66,142.39 390.82,142.35 390.98,142.30 391.14,142.26 391.30,142.23 391.46,142.21 391.62,142.22 391.78,142.24 391.94,142.27 392.10,142.29 392.26,142.31 392.42,142.32 392.58,142.33 392.74,142.33 392.90,142.31 393.06,142.29 393.22,142.30 393.38,142.30 393.54,142.31 393.70,142.31 393.86,142.30 394.02,142.29 394.18,142.28 394.34,142.26 394.50,142.25 394.66,142.24 394.82,142.23 394.98,142.21 395.14,142.20 395.30,142.22 395.46,142.25 395.62,142.27 395.78,142.28 395.94,142.30 396.10,142.31 396.26,142.31 396.42,142.30 396.58,142.29 396.74,142.31 396.90,142.34 397.06,142.36 397.22,142.33 397.38,142.28 397.54,142.23 397.70,142.24 397.86,142.28 398.02,142.29 398.18,142.26 398.34,142.24 398.50,142.25 398.66,142.28 398.82,142.30 398.98,142.31 399.14,142.32 399.30,142.32 399.46,142.30 399.62,142.30 399.78,142.32 399.94,142.34 400.10,142.35 400.26,142.33 400.42,142.31 400.58,142.30 400.74,142.29 400.90,142.25 401.06,142.21 401.22,142.21 401.38,142.25 401.54,142.29 401.70,142.28 401.86,142.24 402.02,142.23 402.18,142.26 402.34,142.30 402.50,142.32 402.66,142.33 402.82,142.33 402.98,142.31 403.14,142.28 403.30,142.25 403.46,142.25 403.62,142.27 403.78,142.31 403.94,142.36 404.10,142.40 404.26,142.39 404.42,142.35 404.58,142.30 404.74,142.25 404.90,142.22 405.06,142.20 405.22,142.20 405.38,142.24 405.54,142.29 405.70,142.34 405.86,142.37 406.02,142.39 406.18,142.38 406.34,142.37 406.50,142.35 406.66,142.35 406.82,142.36 406.98,142.37 407.14,142.34 407.30,142.29 407.46,142.26 407.62,142.27 407.78,142.28 407.94,142.25 408.10,142.20 408.26,142.15 408.42,142.14 408.58,142.17 408.74,142.22 408.90,142.24 409.06,142.25 409.22,142.25 409.38,142.26 409.54,142.29 409.70,142.33 409.86,142.36 410.02,142.37 410.18,142.35 410.34,142.33 410.50,142.29 410.66,142.26 410.82,142.25 410.98,142.25 411.14,142.27 411.30,142.30 411.46,142.32 411.62,142.32 411.78,142.32 411.94,142.30 412.10,142.30 412.26,142.31 412.42,142.32 412.58,142.33 412.74,142.34 412.90,142.35 413.06,142.35 413.22,142.35 413.38,142.35 413.54,142.36 413.70,142.36 413.86,142.34 414.02,142.31 414.18,142.32 414.34,142.34 414.50,142.35 414.66,142.34 414.82,142.32 414.98,142.31 415.14,142.31 415.30,142.31 415.46,142.31 415.62,142.28 415.78,142.25 415.94,142.23 416.10,142.23 416.26,142.24 416.42,142.25 416.58,142.27 416.74,142.28 416.90,142.29 417.06,142.30 417.22,142.32 417.38,142.32 417.54,142.31 417.70,142.26 417.86,142.22 418.02,142.22 418.18,142.25 418.34,142.28 418.50,142.31 418.66,142.34 418.82,142.37 418.98,142.40 419.14,142.41 419.30,142.41 419.46,142.43 419.62,142.44 419.78,142.42 419.94,142.35 420.10,142.28 420.26,142.23 420.42,142.23 420.58,142.27 420.74,142.32 420.90,142.35 421.06,142.34 421.22,142.31 421.38,142.30 421.54,142.30 421.70,142.32 421.86,142.36 422.02,142.38 422.18,142.36 422.34,142.33 422.50,142.28 422.66,142.23 422.82,142.21 422.98,142.22 423.14,142.22 423.30,142.21 423.46,142.21 423.62,142.22 423.78,142.21 423.94,142.20 424.10,142.19 424.26,142.21 424.42,142.23 424.58,142.23 424.74,142.23 424.90,142.24 425.06,142.26 425.22,142.28 425.38,142.30 425.54,142.31 425.70,142.31 425.86,142.31 426.02,142.29 426.18,142.30 426.34,142.32 426.50,142.34 426.66,142.37 426.82,142.39 426.98,142.37 427.14,142.32 427.30,142.28 427.46,142.27 427.62,142.27 427.78,142.26 427.94,142.25 428.10,142.25 428.26,142.25 428.42,142.27 428.58,142.30 428.74,142.31 428.90,142.30 429.06,142.27 429.22,142.26 429.38,142.28 429.54,142.30 429.70,142.31 429.86,142.32 430.02,142.33 430.18,142.34 430.34,142.33 430.50,142.34 430.66,142.35 430.82,142.37 430.98,142.37 431.14,142.35 431.30,142.33 431.46,142.29 431.62,142.23 431.78,142.21 431.94,142.24 432.10,142.29 432.26,142.33 432.42,142.37 432.58,142.39 432.74,142.37 432.90,142.32 433.06,142.27 433.22,142.25 433.38,142.24 433.54,142.22 433.70,142.23 433.86,142.27 434.02,142.31 434.18,142.31 434.34,142.29 434.50,142.28 434.66,142.28 434.82,142.26 434.98,142.23 435.14,142.22 435.30,142.26 435.46,142.34 435.62,142.37 435.78,142.34 435.94,142.29 436.10,142.23 436.26,142.19 436.42,142.18 436.58,142.21 436.74,142.23 436.90,142.25 437.06,142.24 437.22,142.23 437.38,142.23 437.54,142.24 437.70,142.25 437.86,142.28 438.02,142.32 438.18,142.36 438.34,142.39 438.50,142.41 438.66,142.39 438.82,142.34 438.98,142.28 439.14,142.26 439.30,142.25 439.46,142.28 439.62,142.33 439.78,142.35 439.94,142.32 440.10,142.24 440.26,142.18 440.42,142.17 440.58,142.23 440.74,142.32 440.90,142.36 441.06,142.34 441.22,142.29 441.38,142.28 441.54,142.29 441.70,142.32 441.86,142.34 442.02,142.33 442.18,142.31 442.34,142.29 442.50,142.28 442.66,142.28 442.82,142.27 442.98,142.26 443.14,142.26 443.30,142.28 443.46,142.28 443.62,142.27 443.78,142.25 443.94,142.23 444.10,142.25 444.26,142.28 444.42,142.31 444.58,142.32 444.74,142.31 444.90,142.30 445.06,142.32 445.22,142.34 445.38,142.34 445.54,142.32 445.70,142.32 445.86,142.34 446.02,142.34 446.18,142.33 446.34,142.30 446.50,142.28 446.66,142.25 446.82,142.22 446.98,142.23 447.14,142.25 447.30,142.28 447.46,142.30 447.62,142.31 447.78,142.32 447.94,142.33 448.10,142.32 448.26,142.30 448.42,142.29 448.58,142.27 448.74,142.25 448.90,142.21 449.06,142.19 449.22,142.19 449.38,142.23 449.54,142.27 449.70,142.30 449.86,142.30 450.02,142.30 450.18,142.32 450.34,142.36 450.50,142.38 450.66,142.39 450.82,142.39 450.98,142.40 451.14,142.39 451.30,142.37 451.46,142.35 451.62,142.32 451.78,142.27 451.94,142.25 452.10,142.25 452.26,142.27 452.42,142.31 452.58,142.33 452.74,142.34 452.90,142.33 453.06,142.30 453.22,142.30 453.38,142.33 453.54,142.36 453.70,142.37 453.86,142.36 454.02,142.35 454.18,142.35 454.34,142.33 454.50,142.28 454.66,142.24 454.82,142.25 454.98,142.28 455.14,142.31 455.30,142.31 455.46,142.30 455.62,142.26 455.78,142.22 455.94,142.21 456.10,142.24 456.26,142.28 456.42,142.33 456.58,142.35 456.74,142.34 456.90,142.28 457.06,142.24 457.22,142.23 457.38,142.28 457.54,142.34 457.70,142.35 457.86,142.31 458.02,142.27 458.18,142.26 458.34,142.27 458.50,142.28 458.66,142.28 458.82,142.26 458.98,142.24 459.14,142.24 459.30,142.27 459.46,142.30 459.62,142.32 459.78,142.31 459.94,142.30 460.10,142.31 460.26,142.33 460.42,142.36 460.58,142.39 460.74,142.39 460.90,142.37 461.06,142.35 461.22,142.33 461.38,142.32 461.54,142.31 461.70,142.31 461.86,142.31 462.02,142.29 462.18,142.28 462.34,142.29 462.50,142.31 462.66,142.30 462.82,142.28 462.98,142.27 463.14,142.29 463.30,142.33 463.46,142.37 463.62,142.38 463.78,142.36 463.94,142.33 464.10,142.30 464.26,142.28 464.42,142.26 464.58,142.24 464.74,142.24 464.90,142.25 465.06,142.27 465.22,142.28 465.38,142.28" fill="none" stroke="#EE6C67" stroke-width="4.0" stroke-linejoin="round" stroke-linecap="butt"/>
<polyline points="384.90,141.24 385.06,140.27 385.22,139.29 385.38,138.21 385.54,137.02 385.70,135.16 385.86,133.38 386.02,131.70 386.18,130.05 386.34,131.85 386.50,133.66 386.66,135.50 386.82,135.95 386.98,136.38 387.14,136.78 387.30,137.16 387.46,137.53 387.62,137.50 387.78,137.48 387.94,137.48 388.10,137.49 388.26,137.53 388.42,137.59 388.58,137.60 388.74,137.55 388.90,137.48 389.06,137.42 389.22,137.35 389.38,137.25 389.54,137.19 389.70,137.20 389.86,137.25 390.02,137.27 390.18,137.27 390.34,137.29 390.50,137.38 390.66,137.51 390.82,137.58 390.98,137.54 391.14,137.44 391.30,137.35 391.46,137.28 391.62,137.23 391.78,137.16 391.94,137.07 392.10,136.98 392.26,136.93 392.42,136.92 392.58,136.92 392.74,136.99 392.90,137.12 393.06,137.27 393.22,137.44 393.38,137.58 393.54,137.65 393.70,137.61 393.86,137.55 394.02,137.58 394.18,137.68 394.34,137.72 394.50,137.64 394.66,137.49 394.82,137.35 394.98,137.24 395.14,137.20 395.30,137.26 395.46,137.39 395.62,137.50 395.78,137.51 395.94,137.41 396.10,137.28 396.26,137.20 396.42,137.18 396.58,137.25 396.74,137.38 396.90,137.50 397.06,137.53 397.22,137.47 397.38,137.44 397.54,137.43 397.70,137.42 397.86,137.41 398.02,137.40 398.18,137.39 398.34,137.40 398.50,137.41 398.66,137.42 398.82,137.47 398.98,137.57 399.14,137.69 399.30,137.73 399.46,137.69 399.62,137.61 399.78,137.55 399.94,137.50 400.10,137.43 400.26,137.36 400.42,137.32 400.58,137.30 400.74,137.27 400.90,137.21 401.06,137.19 401.22,137.26 401.38,137.35 401.54,137.36 401.70,137.28 401.86,137.20 402.02,137.23 402.18,137.31 402.34,137.37 402.50,137.39 402.66,137.43 402.82,137.51 402.98,137.53 403.14,137.43 403.30,137.29 403.46,137.25 403.62,137.35 403.78,137.50 403.94,137.61 404.10,137.63 404.26,137.54 404.42,137.45 404.58,137.45 404.74,137.51 404.90,137.51 405.06,137.43 405.22,137.36 405.38,137.35 405.54,137.38 405.70,137.40 405.86,137.43 406.02,137.51 406.18,137.63 406.34,137.73 406.50,137.75 406.66,137.69 406.82,137.61 406.98,137.51 407.14,137.39 407.30,137.29 407.46,137.25 407.62,137.26 407.78,137.31 407.94,137.39 408.10,137.45 408.26,137.46 408.42,137.45 408.58,137.49 408.74,137.55 408.90,137.61 409.06,137.64 409.22,137.60 409.38,137.53 409.54,137.49 409.70,137.51 409.86,137.54 410.02,137.49 410.18,137.36 410.34,137.24 410.50,137.17 410.66,137.15 410.82,137.19 410.98,137.30 411.14,137.46 411.30,137.62 411.46,137.76 411.62,137.81 411.78,137.74 411.94,137.66 412.10,137.67 412.26,137.68 412.42,137.58 412.58,137.43 412.74,137.36 412.90,137.36 413.06,137.37 413.22,137.32 413.38,137.25 413.54,137.22 413.70,137.23 413.86,137.23 414.02,137.26 414.18,137.32 414.34,137.37 414.50,137.40 414.66,137.41 414.82,137.44 414.98,137.53 415.14,137.66 415.30,137.71 415.46,137.66 415.62,137.55 415.78,137.49 415.94,137.46 416.10,137.43 416.26,137.41 416.42,137.44 416.58,137.48 416.74,137.50 416.90,137.48 417.06,137.46 417.22,137.43 417.38,137.37 417.54,137.30 417.70,137.27 417.86,137.31 418.02,137.38 418.18,137.39 418.34,137.33 418.50,137.26 418.66,137.26 418.82,137.35 418.98,137.48 419.14,137.56 419.30,137.54 419.46,137.44 419.62,137.35 419.78,137.31 419.94,137.32 420.10,137.34 420.26,137.34 420.42,137.31 420.58,137.29 420.74,137.33 420.90,137.42 421.06,137.49 421.22,137.55 421.38,137.63 421.54,137.70 421.70,137.72 421.86,137.71 422.02,137.73 422.18,137.74 422.34,137.67 422.50,137.53 422.66,137.40 422.82,137.38 422.98,137.50 423.14,137.63 423.30,137.64 423.46,137.52 423.62,137.33 423.78,137.16 423.94,137.06 424.10,137.03 424.26,137.10 424.42,137.26 424.58,137.44 424.74,137.52 424.90,137.49 425.06,137.39 425.22,137.30 425.38,137.30 425.54,137.39 425.70,137.43 425.86,137.36 426.02,137.27 426.18,137.30 426.34,137.44 426.50,137.57 426.66,137.66 426.82,137.70 426.98,137.66 427.14,137.53 427.30,137.43 427.46,137.45 427.62,137.52 427.78,137.49 427.94,137.37 428.10,137.24 428.26,137.19 428.42,137.24 428.58,137.35 428.74,137.47 428.90,137.52 429.06,137.48 429.22,137.39 429.38,137.34 429.54,137.36 429.70,137.43 429.86,137.51 430.02,137.58 430.18,137.59 430.34,137.51 430.50,137.38 430.66,137.28 430.82,137.24 430.98,137.28 431.14,137.40 431.30,137.54 431.46,137.61 431.62,137.53 431.78,137.39 431.94,137.32 432.10,137.34 432.26,137.36 432.42,137.31 432.58,137.21 432.74,137.16 432.90,137.21 433.06,137.37 433.22,137.59 433.38,137.76 433.54,137.84 433.70,137.83 433.86,137.71 434.02,137.51 434.18,137.36 434.34,137.32 434.50,137.36 434.66,137.39 434.82,137.40 434.98,137.42 435.14,137.47 435.30,137.55 435.46,137.60 435.62,137.55 435.78,137.45 435.94,137.36 436.10,137.34 436.26,137.36 436.42,137.39 436.58,137.44 436.74,137.54 436.90,137.65 437.06,137.74 437.22,137.78 437.38,137.76 437.54,137.71 437.70,137.70 437.86,137.66 438.02,137.52 438.18,137.37 438.34,137.34 438.50,137.43 438.66,137.54 438.82,137.59 438.98,137.60 439.14,137.59 439.30,137.54 439.46,137.52 439.62,137.54 439.78,137.56 439.94,137.51 440.10,137.41 440.26,137.35 440.42,137.35 440.58,137.39 440.74,137.48 440.90,137.56 441.06,137.62 441.22,137.73 441.38,137.87 441.54,137.92 441.70,137.81 441.86,137.64 442.02,137.51 442.18,137.43 442.34,137.39 442.50,137.35 442.66,137.32 442.82,137.30 442.98,137.29 443.14,137.31 443.30,137.37 443.46,137.48 443.62,137.60 443.78,137.67 443.94,137.71 444.10,137.75 444.26,137.75 444.42,137.68 444.58,137.54 444.74,137.44 444.90,137.43 445.06,137.52 445.22,137.63 445.38,137.70 445.54,137.75 445.70,137.77 445.86,137.71 446.02,137.57 446.18,137.44 446.34,137.42 446.50,137.45 446.66,137.43 446.82,137.38 446.98,137.38 447.14,137.39 447.30,137.35 447.46,137.25 447.62,137.15 447.78,137.14 447.94,137.27 448.10,137.47 448.26,137.64 448.42,137.73 448.58,137.75 448.74,137.73 448.90,137.68 449.06,137.64 449.22,137.63 449.38,137.63 449.54,137.59 449.70,137.50 449.86,137.45 450.02,137.46 450.18,137.49 450.34,137.50 450.50,137.51 450.66,137.55 450.82,137.62 450.98,137.69 451.14,137.75 451.30,137.76 451.46,137.71 451.62,137.62 451.78,137.54 451.94,137.51 452.10,137.51 452.26,137.52 452.42,137.52 452.58,137.49 452.74,137.45 452.90,137.48 453.06,137.57 453.22,137.63 453.38,137.58 453.54,137.51 453.70,137.53 453.86,137.58 454.02,137.60 454.18,137.64 454.34,137.74 454.50,137.89 454.66,137.99 454.82,138.02 454.98,138.02 455.14,137.98 455.30,137.89 455.46,137.73 455.62,137.56 455.78,137.48 455.94,137.53 456.10,137.62 456.26,137.64 456.42,137.57 456.58,137.47 456.74,137.44 456.90,137.48 457.06,137.56 457.22,137.64 457.38,137.69 457.54,137.71 457.70,137.70 457.86,137.66 458.02,137.59 458.18,137.52 458.34,137.52 458.50,137.58 458.66,137.64 458.82,137.64 458.98,137.57 459.14,137.49 459.30,137.41 459.46,137.34 459.62,137.33 459.78,137.40 459.94,137.53 460.10,137.61 460.26,137.59 460.42,137.51 460.58,137.44 460.74,137.47 460.90,137.59 461.06,137.69 461.22,137.68 461.38,137.57 461.54,137.45 461.70,137.43 461.86,137.51 462.02,137.62 462.18,137.66 462.34,137.60 462.50,137.51 462.66,137.47 462.82,137.51 462.98,137.56 463.14,137.56 463.30,137.51 463.46,137.44 463.62,137.41 463.78,137.44 463.94,137.48 464.10,137.48 464.26,137.44 464.42,137.37 464.58,137.35 464.74,137.40 464.90,137.50 465.06,137.58 465.22,137.58 465.38,137.51" fill="none" stroke="#47D63E" stroke-width="4.0" stroke-linejoin="round" stroke-linecap="butt"/>
<polyline points="384.90,131.76 385.06,124.79 385.22,117.78 385.38,110.76 385.54,95.08 385.70,79.49 385.86,75.12 386.02,70.61 386.18,70.70 386.34,70.78 386.50,80.06 386.66,89.37 386.82,91.92 386.98,94.56 387.14,94.68 387.30,94.84 387.46,94.99 387.62,95.10 387.78,95.14 387.94,95.09 388.10,95.04 388.26,95.10 388.42,95.20 388.58,95.24 388.74,95.15 388.90,95.04 389.06,95.05 389.22,95.18 389.38,95.31 389.54,95.40 389.70,95.45 389.86,95.42 390.02,95.30 390.18,95.15 390.34,95.06 390.50,95.05 390.66,95.08 390.82,95.07 390.98,94.99 391.14,94.92 391.30,94.93 391.46,94.95 391.62,94.94 391.78,94.88 391.94,94.83 392.10,94.81 392.26,94.84 392.42,94.93 392.58,95.08 392.74,95.22 392.90,95.28 393.06,95.28 393.22,95.26 393.38,95.19 393.54,95.09 393.70,95.12 393.86,95.34 394.02,95.62 394.18,95.76 394.34,95.72 394.50,95.55 394.66,95.32 394.82,95.16 394.98,95.15 395.14,95.18 395.30,95.19 395.46,95.20 395.62,95.25 395.78,95.31 395.94,95.37 396.10,95.48 396.26,95.56 396.42,95.48 396.58,95.31 396.74,95.24 396.90,95.33 397.06,95.46 397.22,95.50 397.38,95.42 397.54,95.24 397.70,95.05 397.86,94.96 398.02,94.97 398.18,95.02 398.34,95.08 398.50,95.17 398.66,95.29 398.82,95.33 398.98,95.24 399.14,95.09 399.30,95.05 399.46,95.18 399.62,95.39 399.78,95.51 399.94,95.49 400.10,95.36 400.26,95.26 400.42,95.26 400.58,95.28 400.74,95.25 400.90,95.18 401.06,95.14 401.22,95.15 401.38,95.18 401.54,95.27 401.70,95.40 401.86,95.48 402.02,95.44 402.18,95.37 402.34,95.35 402.50,95.31 402.66,95.17 402.82,95.01 402.98,94.96 403.14,95.02 403.30,95.15 403.46,95.30 403.62,95.44 403.78,95.52 403.94,95.50 404.10,95.34 404.26,95.12 404.42,95.04 404.58,95.13 404.74,95.27 404.90,95.31 405.06,95.29 405.22,95.29 405.38,95.32 405.54,95.30 405.70,95.17 405.86,95.05 406.02,95.03 406.18,95.04 406.34,95.03 406.50,95.01 406.66,95.06 406.82,95.18 406.98,95.29 407.14,95.34 407.30,95.36 407.46,95.35 407.62,95.33 407.78,95.31 407.94,95.23 408.10,95.04 408.26,94.85 408.42,94.80 408.58,94.88 408.74,95.12 408.90,95.51 409.06,95.88 409.22,96.00 409.38,95.86 409.54,95.64 409.70,95.52 409.86,95.51 410.02,95.50 410.18,95.45 410.34,95.36 410.50,95.28 410.66,95.27 410.82,95.33 410.98,95.39 411.14,95.38 411.30,95.23 411.46,94.99 411.62,94.77 411.78,94.67 411.94,94.70 412.10,94.83 412.26,95.04 412.42,95.33 412.58,95.58 412.74,95.60 412.90,95.41 413.06,95.23 413.22,95.16 413.38,95.15 413.54,95.11 413.70,95.13 413.86,95.25 414.02,95.40 414.18,95.49 414.34,95.62 414.50,95.87 414.66,96.12 414.82,96.14 414.98,95.93 415.14,95.68 415.30,95.59 415.46,95.65 415.62,95.69 415.78,95.66 415.94,95.62 416.10,95.59 416.26,95.55 416.42,95.52 416.58,95.55 416.74,95.63 416.90,95.65 417.06,95.58 417.22,95.46 417.38,95.37 417.54,95.30 417.70,95.26 417.86,95.28 418.02,95.34 418.18,95.39 418.34,95.36 418.50,95.26 418.66,95.12 418.82,94.99 418.98,95.02 419.14,95.24 419.30,95.51 419.46,95.64 419.62,95.60 419.78,95.50 419.94,95.35 420.10,95.24 420.26,95.24 420.42,95.31 420.58,95.35 420.74,95.35 420.90,95.40 421.06,95.50 421.22,95.61 421.38,95.69 421.54,95.69 421.70,95.61 421.86,95.53 422.02,95.48 422.18,95.45 422.34,95.41 422.50,95.37 422.66,95.37 422.82,95.40 422.98,95.46 423.14,95.50 423.30,95.50 423.46,95.52 423.62,95.65 423.78,95.85 423.94,95.97 424.10,95.95 424.26,95.80 424.42,95.60 424.58,95.48 424.74,95.51 424.90,95.69 425.06,95.81 425.22,95.68 425.38,95.42 425.54,95.30 425.70,95.37 425.86,95.50 426.02,95.58 426.18,95.63 426.34,95.65 426.50,95.64 426.66,95.67 426.82,95.69 426.98,95.66 427.14,95.65 427.30,95.70 427.46,95.76 427.62,95.74 427.78,95.69 427.94,95.67 428.10,95.66 428.26,95.67 428.42,95.70 428.58,95.72 428.74,95.71 428.90,95.72 429.06,95.79 429.22,95.84 429.38,95.76 429.54,95.57 429.70,95.41 429.86,95.34 430.02,95.30 430.18,95.21 430.34,95.14 430.50,95.16 430.66,95.32 430.82,95.54 430.98,95.73 431.14,95.83 431.30,95.81 431.46,95.71 431.62,95.63 431.78,95.63 431.94,95.72 432.10,95.83 432.26,95.86 432.42,95.80 432.58,95.71 432.74,95.63 432.90,95.54 433.06,95.43 433.22,95.39 433.38,95.46 433.54,95.61 433.70,95.74 433.86,95.79 434.02,95.82 434.18,95.86 434.34,95.83 434.50,95.68 434.66,95.51 434.82,95.48 434.98,95.63 435.14,95.79 435.30,95.82 435.46,95.70 435.62,95.59 435.78,95.64 435.94,95.79 436.10,95.94 436.26,96.05 436.42,96.09 436.58,95.98 436.74,95.76 436.90,95.60 437.06,95.56 437.22,95.60 437.38,95.65 437.54,95.73 437.70,95.80 437.86,95.77 438.02,95.63 438.18,95.45 438.34,95.32 438.50,95.27 438.66,95.27 438.82,95.34 438.98,95.49 439.14,95.68 439.30,95.75 439.46,95.68 439.62,95.54 439.78,95.43 439.94,95.38 440.10,95.37 440.26,95.41 440.42,95.49 440.58,95.53 440.74,95.50 440.90,95.42 441.06,95.39 441.22,95.45 441.38,95.50 441.54,95.48 441.70,95.42 441.86,95.45 442.02,95.63 442.18,95.82 442.34,95.86 442.50,95.72 442.66,95.59 442.82,95.64 442.98,95.84 443.14,96.03 443.30,96.09 443.46,96.01 443.62,95.85 443.78,95.75 443.94,95.74 444.10,95.71 444.26,95.57 444.42,95.42 444.58,95.43 444.74,95.60 444.90,95.70 445.06,95.64 445.22,95.49 445.38,95.43 445.54,95.50 445.70,95.66 445.86,95.82 446.02,95.93 446.18,95.95 446.34,95.87 446.50,95.71 446.66,95.58 446.82,95.60 446.98,95.67 447.14,95.66 447.30,95.58 447.46,95.50 447.62,95.45 447.78,95.41 447.94,95.42 448.10,95.55 448.26,95.77 448.42,95.96 448.58,96.03 448.74,95.97 448.90,95.88 449.06,95.84 449.22,95.81 449.38,95.74 449.54,95.70 449.70,95.78 449.86,95.90 450.02,95.94 450.18,95.93 450.34,95.96 450.50,95.99 450.66,95.96 450.82,95.84 450.98,95.70 451.14,95.61 451.30,95.59 451.46,95.58 451.62,95.48 451.78,95.32 451.94,95.26 452.10,95.32 452.26,95.43 452.42,95.54 452.58,95.68 452.74,95.80 452.90,95.82 453.06,95.71 453.22,95.59 453.38,95.52 453.54,95.51 453.70,95.51 453.86,95.51 454.02,95.55 454.18,95.67 454.34,95.83 454.50,95.93 454.66,95.91 454.82,95.85 454.98,95.86 455.14,95.91 455.30,95.88 455.46,95.68 455.62,95.47 455.78,95.46 455.94,95.62 456.10,95.78 456.26,95.87 456.42,95.93 456.58,95.99 456.74,96.05 456.90,96.09 457.06,96.08 457.22,96.04 457.38,96.02 457.54,96.04 457.70,96.08 457.86,96.07 458.02,95.91 458.18,95.57 458.34,95.22 458.50,95.09 458.66,95.21 458.82,95.43 458.98,95.61 459.14,95.68 459.30,95.67 459.46,95.63 459.62,95.68 459.78,95.86 459.94,96.05 460.10,96.07 460.26,95.95 460.42,95.81 460.58,95.67 460.74,95.54 460.90,95.47 461.06,95.51 461.22,95.68 461.38,95.94 461.54,96.17 461.70,96.27 461.86,96.21 462.02,96.12 462.18,96.06 462.34,96.01 462.50,95.93 462.66,95.86 462.82,95.80 462.98,95.68 463.14,95.53 463.30,95.48 463.46,95.53 463.62,95.56 463.78,95.45 463.94,95.30 464.10,95.33 464.26,95.56 464.42,95.79 464.58,95.84 464.74,95.76 464.90,95.68 465.06,95.64 465.22,95.66 465.38,95.78" fill="none" stroke="#6EA2FF" stroke-width="4.0" stroke-linejoin="round" stroke-linecap="butt"/>
<path d="M381.00,32.10V147.30H469.00" fill="none" stroke="#333" stroke-width="0.7"/>
<path d="M380.00,142.30H381.00" stroke="#333" stroke-width="0.6"/>
<text x="379.70" y="145.60" font-size="8.1" fill="#4d4d4d" color="#4d4d4d" text-anchor="end" style="stroke-width:0.12px">0.00</text>
<path d="M380.00,116.10H381.00" stroke="#333" stroke-width="0.6"/>
<text x="379.70" y="119.40" font-size="8.1" fill="#4d4d4d" color="#4d4d4d" text-anchor="end" style="stroke-width:0.12px">0.25</text>
<path d="M380.00,89.90H381.00" stroke="#333" stroke-width="0.6"/>
<text x="379.70" y="93.20" font-size="8.1" fill="#4d4d4d" color="#4d4d4d" text-anchor="end" style="stroke-width:0.12px">0.50</text>
<path d="M380.00,63.70H381.00" stroke="#333" stroke-width="0.6"/>
<text x="379.70" y="67.00" font-size="8.1" fill="#4d4d4d" color="#4d4d4d" text-anchor="end" style="stroke-width:0.12px">0.75</text>
<path d="M380.00,37.50H381.00" stroke="#333" stroke-width="0.6"/>
<text x="379.70" y="40.80" font-size="8.1" fill="#4d4d4d" color="#4d4d4d" text-anchor="end" style="stroke-width:0.12px">1.00</text>
<path d="M384.90,147.30V148.30" stroke="#333" stroke-width="0.6"/>
<text x="385.35" y="153.90" font-size="6.3" fill="#4d4d4d" color="#4d4d4d" text-anchor="middle" style="stroke-width:0.12px">0</text>
<path d="M400.90,147.30V148.30" stroke="#333" stroke-width="0.6"/>
<text x="401.35" y="153.90" font-size="6.3" fill="#4d4d4d" color="#4d4d4d" text-anchor="middle" style="stroke-width:0.12px">100</text>
<path d="M416.90,147.30V148.30" stroke="#333" stroke-width="0.6"/>
<text x="417.35" y="153.90" font-size="6.3" fill="#4d4d4d" color="#4d4d4d" text-anchor="middle" style="stroke-width:0.12px">200</text>
<path d="M432.90,147.30V148.30" stroke="#333" stroke-width="0.6"/>
<text x="433.35" y="153.90" font-size="6.3" fill="#4d4d4d" color="#4d4d4d" text-anchor="middle" style="stroke-width:0.12px">300</text>
<path d="M448.90,147.30V148.30" stroke="#333" stroke-width="0.6"/>
<text x="449.35" y="153.90" font-size="6.3" fill="#4d4d4d" color="#4d4d4d" text-anchor="middle" style="stroke-width:0.12px">400</text>
<path d="M464.90,147.30V148.30" stroke="#333" stroke-width="0.6"/>
<text x="465.35" y="153.90" font-size="6.3" fill="#4d4d4d" color="#4d4d4d" text-anchor="middle" style="stroke-width:0.12px">500</text>
<rect x="488.00" y="19.50" width="87.80" height="12.60" fill="#fff" stroke="#7f7f7f" stroke-width="0.9"/>
<text x="532.00" y="28.70" font-size="7.05" fill="#1a1a1a" color="#1a1a1a" style="stroke-width:0.1px" text-anchor="middle">Pleiotropy on all traits</text>
<polyline points="491.90,142.24 492.06,142.23 492.22,142.22 492.38,142.22 492.54,142.24 492.70,142.28 492.86,142.32 493.02,142.35 493.18,142.35 493.34,142.32 493.50,142.29 493.66,142.27 493.82,142.27 493.98,142.27 494.14,142.28 494.30,142.29 494.46,142.31 494.62,142.32 494.78,142.32 494.94,142.31 495.10,142.31 495.26,142.32 495.42,142.33 495.58,142.33 495.74,142.32 495.90,142.29 496.06,142.28 496.22,142.28 496.38,142.27 496.54,142.26 496.70,142.24 496.86,142.25 497.02,142.27 497.18,142.29 497.34,142.30 497.50,142.29 497.66,142.26 497.82,142.23 497.98,142.23 498.14,142.26 498.30,142.28 498.46,142.29 498.62,142.27 498.78,142.27 498.94,142.28 499.10,142.30 499.26,142.32 499.42,142.35 499.58,142.36 499.74,142.36 499.90,142.36 500.06,142.34 500.22,142.31 500.38,142.30 500.54,142.30 500.70,142.31 500.86,142.33 501.02,142.32 501.18,142.31 501.34,142.28 501.50,142.28 501.66,142.29 501.82,142.31 501.98,142.33 502.14,142.33 502.30,142.31 502.46,142.30 502.62,142.29 502.78,142.28 502.94,142.27 503.10,142.26 503.26,142.28 503.42,142.33 503.58,142.38 503.74,142.40 503.90,142.40 504.06,142.37 504.22,142.33 504.38,142.30 504.54,142.31 504.70,142.35 504.86,142.38 505.02,142.39 505.18,142.37 505.34,142.34 505.50,142.32 505.66,142.31 505.82,142.30 505.98,142.28 506.14,142.27 506.30,142.27 506.46,142.27 506.62,142.26 506.78,142.24 506.94,142.23 507.10,142.23 507.26,142.26 507.42,142.30 507.58,142.33 507.74,142.34 507.90,142.35 508.06,142.35 508.22,142.34 508.38,142.33 508.54,142.32 508.70,142.31 508.86,142.29 509.02,142.27 509.18,142.27 509.34,142.26 509.50,142.25 509.66,142.23 509.82,142.23 509.98,142.24 510.14,142.27 510.30,142.28 510.46,142.28 510.62,142.28 510.78,142.29 510.94,142.29 511.10,142.28 511.26,142.29 511.42,142.31 511.58,142.33 511.74,142.33 511.90,142.32 512.06,142.33 512.22,142.34 512.38,142.35 512.54,142.33 512.70,142.30 512.86,142.27 513.02,142.27 513.18,142.29 513.34,142.31 513.50,142.33 513.66,142.34 513.82,142.32 513.98,142.30 514.14,142.30 514.30,142.32 514.46,142.33 514.62,142.33 514.78,142.32 514.94,142.30 515.10,142.29 515.26,142.30 515.42,142.32 515.58,142.35 515.74,142.35 515.90,142.32 516.06,142.28 516.22,142.26 516.38,142.27 516.54,142.29 516.70,142.30 516.86,142.30 517.02,142.30 517.18,142.30 517.34,142.28 517.50,142.25 517.66,142.24 517.82,142.26 517.98,142.30 518.14,142.34 518.30,142.35 518.46,142.35 518.62,142.35 518.78,142.37 518.94,142.39 519.10,142.37 519.26,142.31 519.42,142.26 519.58,142.26 519.74,142.29 519.90,142.34 520.06,142.37 520.22,142.38 520.38,142.36 520.54,142.33 520.70,142.30 520.86,142.28 521.02,142.26 521.18,142.24 521.34,142.25 521.50,142.28 521.66,142.30 521.82,142.28 521.98,142.25 522.14,142.23 522.30,142.22 522.46,142.24 522.62,142.30 522.78,142.35 522.94,142.38 523.10,142.36 523.26,142.33 523.42,142.30 523.58,142.27 523.74,142.25 523.90,142.23 524.06,142.22 524.22,142.22 524.38,142.24 524.54,142.26 524.70,142.25 524.86,142.24 525.02,142.25 525.18,142.29 525.34,142.32 525.50,142.32 525.66,142.30 525.82,142.29 525.98,142.27 526.14,142.27 526.30,142.28 526.46,142.31 526.62,142.32 526.78,142.32 526.94,142.29 527.10,142.26 527.26,142.24 527.42,142.23 527.58,142.22 527.74,142.22 527.90,142.23 528.06,142.25 528.22,142.28 528.38,142.31 528.54,142.33 528.70,142.33 528.86,142.31 529.02,142.29 529.18,142.28 529.34,142.27 529.50,142.26 529.66,142.26 529.82,142.25 529.98,142.25 530.14,142.26 530.30,142.28 530.46,142.29 530.62,142.28 530.78,142.26 530.94,142.24 531.10,142.23 531.26,142.21 531.42,142.20 531.58,142.22 531.74,142.25 531.90,142.28 532.06,142.30 532.22,142.30 532.38,142.30 532.54,142.32 532.70,142.34 532.86,142.35 533.02,142.34 533.18,142.33 533.34,142.33 533.50,142.33 533.66,142.33 533.82,142.32 533.98,142.29 534.14,142.26 534.30,142.24 534.46,142.23 534.62,142.23 534.78,142.22 534.94,142.22 535.10,142.24 535.26,142.27 535.42,142.30 535.58,142.31 535.74,142.29 535.90,142.26 536.06,142.25 536.22,142.26 536.38,142.27 536.54,142.27 536.70,142.24 536.86,142.22 537.02,142.21 537.18,142.22 537.34,142.24 537.50,142.26 537.66,142.26 537.82,142.23 537.98,142.21 538.14,142.21 538.30,142.25 538.46,142.30 538.62,142.32 538.78,142.32 538.94,142.31 539.10,142.31 539.26,142.29 539.42,142.28 539.58,142.28 539.74,142.32 539.90,142.37 540.06,142.38 540.22,142.36 540.38,142.33 540.54,142.30 540.70,142.28 540.86,142.26 541.02,142.25 541.18,142.27 541.34,142.31 541.50,142.34 541.66,142.35 541.82,142.33 541.98,142.32 542.14,142.32 542.30,142.33 542.46,142.34 542.62,142.34 542.78,142.33 542.94,142.31 543.10,142.31 543.26,142.31 543.42,142.32 543.58,142.32 543.74,142.31 543.90,142.31 544.06,142.31 544.22,142.32 544.38,142.33 544.54,142.33 544.70,142.30 544.86,142.25 545.02,142.22 545.18,142.22 545.34,142.22 545.50,142.23 545.66,142.26 545.82,142.32 545.98,142.36 546.14,142.35 546.30,142.30 546.46,142.25 546.62,142.24 546.78,142.24 546.94,142.24 547.10,142.23 547.26,142.23 547.42,142.25 547.58,142.28 547.74,142.30 547.90,142.31 548.06,142.32 548.22,142.33 548.38,142.34 548.54,142.33 548.70,142.30 548.86,142.27 549.02,142.24 549.18,142.23 549.34,142.23 549.50,142.23 549.66,142.23 549.82,142.24 549.98,142.25 550.14,142.27 550.30,142.30 550.46,142.34 550.62,142.35 550.78,142.34 550.94,142.32 551.10,142.29 551.26,142.26 551.42,142.25 551.58,142.25 551.74,142.24 551.90,142.22 552.06,142.20 552.22,142.21 552.38,142.24 552.54,142.26 552.70,142.28 552.86,142.29 553.02,142.30 553.18,142.30 553.34,142.31 553.50,142.33 553.66,142.34 553.82,142.32 553.98,142.31 554.14,142.30 554.30,142.29 554.46,142.29 554.62,142.28 554.78,142.28 554.94,142.29 555.10,142.31 555.26,142.34 555.42,142.37 555.58,142.39 555.74,142.40 555.90,142.40 556.06,142.38 556.22,142.34 556.38,142.31 556.54,142.29 556.70,142.28 556.86,142.26 557.02,142.24 557.18,142.25 557.34,142.28 557.50,142.31 557.66,142.31 557.82,142.29 557.98,142.28 558.14,142.28 558.30,142.30 558.46,142.35 558.62,142.39 558.78,142.40 558.94,142.37 559.10,142.33 559.26,142.30 559.42,142.30 559.58,142.30 559.74,142.28 559.90,142.24 560.06,142.21 560.22,142.22 560.38,142.25 560.54,142.28 560.70,142.30 560.86,142.31 561.02,142.31 561.18,142.30 561.34,142.29 561.50,142.26 561.66,142.23 561.82,142.22 561.98,142.24 562.14,142.28 562.30,142.31 562.46,142.33 562.62,142.31 562.78,142.30 562.94,142.30 563.10,142.32 563.26,142.32 563.42,142.33 563.58,142.34 563.74,142.34 563.90,142.31 564.06,142.27 564.22,142.26 564.38,142.27 564.54,142.29 564.70,142.32 564.86,142.34 565.02,142.36 565.18,142.36 565.34,142.34 565.50,142.31 565.66,142.28 565.82,142.27 565.98,142.26 566.14,142.26 566.30,142.26 566.46,142.24 566.62,142.23 566.78,142.23 566.94,142.25 567.10,142.26 567.26,142.26 567.42,142.26 567.58,142.27 567.74,142.29 567.90,142.30 568.06,142.31 568.22,142.30 568.38,142.30 568.54,142.31 568.70,142.34 568.86,142.35 569.02,142.36 569.18,142.35 569.34,142.33 569.50,142.31 569.66,142.29 569.82,142.26 569.98,142.25 570.14,142.25 570.30,142.28 570.46,142.31 570.62,142.32 570.78,142.31 570.94,142.30 571.10,142.30 571.26,142.30 571.42,142.30 571.58,142.30 571.74,142.30 571.90,142.29 572.06,142.30 572.22,142.34 572.38,142.39" fill="none" stroke="#EE6C67" stroke-width="4.0" stroke-linejoin="round" stroke-linecap="butt"/>
<polyline points="491.90,140.02 492.06,139.70 492.22,139.34 492.38,138.91 492.54,138.44 492.70,137.97 492.86,137.54 493.02,137.18 493.18,136.93 493.34,138.04 493.50,139.10 493.66,140.01 493.82,140.78 493.98,140.74 494.14,140.80 494.30,140.96 494.46,141.17 494.62,141.37 494.78,141.53 494.94,141.62 495.10,141.64 495.26,141.56 495.42,141.49 495.58,141.45 495.74,141.44 495.90,141.40 496.06,141.34 496.22,141.34 496.38,141.45 496.54,141.63 496.70,141.76 496.86,141.76 497.02,141.66 497.18,141.52 497.34,141.39 497.50,141.28 497.66,141.23 497.82,141.25 497.98,141.31 498.14,141.37 498.30,141.41 498.46,141.43 498.62,141.41 498.78,141.34 498.94,141.26 499.10,141.26 499.26,141.37 499.42,141.51 499.58,141.57 499.74,141.55 499.90,141.47 500.06,141.38 500.22,141.32 500.38,141.32 500.54,141.32 500.70,141.29 500.86,141.31 501.02,141.44 501.18,141.59 501.34,141.69 501.50,141.72 501.66,141.72 501.82,141.68 501.98,141.59 502.14,141.49 502.30,141.46 502.46,141.51 502.62,141.57 502.78,141.59 502.94,141.58 503.10,141.55 503.26,141.54 503.42,141.54 503.58,141.48 503.74,141.31 503.90,141.13 504.06,141.04 504.22,141.03 504.38,141.05 504.54,141.06 504.70,141.06 504.86,141.13 505.02,141.30 505.18,141.49 505.34,141.61 505.50,141.65 505.66,141.62 505.82,141.56 505.98,141.48 506.14,141.38 506.30,141.28 506.46,141.19 506.62,141.14 506.78,141.15 506.94,141.20 507.10,141.31 507.26,141.49 507.42,141.65 507.58,141.66 507.74,141.51 507.90,141.31 508.06,141.14 508.22,141.06 508.38,141.09 508.54,141.23 508.70,141.38 508.86,141.47 509.02,141.48 509.18,141.47 509.34,141.48 509.50,141.51 509.66,141.54 509.82,141.58 509.98,141.61 510.14,141.57 510.30,141.47 510.46,141.40 510.62,141.41 510.78,141.49 510.94,141.54 511.10,141.51 511.26,141.43 511.42,141.41 511.58,141.46 511.74,141.53 511.90,141.52 512.06,141.44 512.22,141.36 512.38,141.34 512.54,141.40 512.70,141.50 512.86,141.55 513.02,141.53 513.18,141.52 513.34,141.56 513.50,141.60 513.66,141.59 513.82,141.54 513.98,141.44 514.14,141.33 514.30,141.25 514.46,141.24 514.62,141.31 514.78,141.45 514.94,141.62 515.10,141.76 515.26,141.81 515.42,141.74 515.58,141.63 515.74,141.55 515.90,141.49 516.06,141.41 516.22,141.39 516.38,141.43 516.54,141.50 516.70,141.51 516.86,141.46 517.02,141.42 517.18,141.45 517.34,141.53 517.50,141.61 517.66,141.66 517.82,141.68 517.98,141.70 518.14,141.73 518.30,141.73 518.46,141.69 518.62,141.65 518.78,141.65 518.94,141.67 519.10,141.66 519.26,141.61 519.42,141.53 519.58,141.43 519.74,141.37 519.90,141.35 520.06,141.41 520.22,141.53 520.38,141.65 520.54,141.68 520.70,141.60 520.86,141.48 521.02,141.35 521.18,141.26 521.34,141.26 521.50,141.35 521.66,141.47 521.82,141.56 521.98,141.64 522.14,141.70 522.30,141.72 522.46,141.68 522.62,141.59 522.78,141.43 522.94,141.32 523.10,141.35 523.26,141.43 523.42,141.48 523.58,141.48 523.74,141.48 523.90,141.47 524.06,141.43 524.22,141.40 524.38,141.40 524.54,141.42 524.70,141.45 524.86,141.50 525.02,141.59 525.18,141.68 525.34,141.76 525.50,141.88 525.66,141.98 525.82,142.01 525.98,141.94 526.14,141.84 526.30,141.70 526.46,141.53 526.62,141.36 526.78,141.26 526.94,141.20 527.10,141.16 527.26,141.20 527.42,141.32 527.58,141.42 527.74,141.45 527.90,141.44 528.06,141.44 528.22,141.40 528.38,141.32 528.54,141.26 528.70,141.29 528.86,141.37 529.02,141.44 529.18,141.44 529.34,141.41 529.50,141.41 529.66,141.45 529.82,141.45 529.98,141.42 530.14,141.47 530.30,141.57 530.46,141.62 530.62,141.53 530.78,141.41 530.94,141.38 531.10,141.46 531.26,141.56 531.42,141.60 531.58,141.54 531.74,141.43 531.90,141.33 532.06,141.33 532.22,141.38 532.38,141.40 532.54,141.38 532.70,141.39 532.86,141.46 533.02,141.56 533.18,141.63 533.34,141.65 533.50,141.61 533.66,141.57 533.82,141.60 533.98,141.65 534.14,141.66 534.30,141.58 534.46,141.49 534.62,141.50 534.78,141.65 534.94,141.81 535.10,141.86 535.26,141.80 535.42,141.72 535.58,141.69 535.74,141.67 535.90,141.62 536.06,141.55 536.22,141.55 536.38,141.63 536.54,141.75 536.70,141.82 536.86,141.77 537.02,141.61 537.18,141.44 537.34,141.35 537.50,141.35 537.66,141.36 537.82,141.37 537.98,141.40 538.14,141.44 538.30,141.48 538.46,141.52 538.62,141.56 538.78,141.55 538.94,141.48 539.10,141.41 539.26,141.34 539.42,141.28 539.58,141.22 539.74,141.19 539.90,141.20 540.06,141.27 540.22,141.39 540.38,141.51 540.54,141.63 540.70,141.73 540.86,141.78 541.02,141.73 541.18,141.66 541.34,141.59 541.50,141.52 541.66,141.44 541.82,141.43 541.98,141.49 542.14,141.56 542.30,141.59 542.46,141.57 542.62,141.56 542.78,141.55 542.94,141.58 543.10,141.62 543.26,141.66 543.42,141.67 543.58,141.61 543.74,141.52 543.90,141.47 544.06,141.48 544.22,141.51 544.38,141.50 544.54,141.50 544.70,141.51 544.86,141.50 545.02,141.44 545.18,141.39 545.34,141.36 545.50,141.35 545.66,141.37 545.82,141.48 545.98,141.68 546.14,141.87 546.30,141.96 546.46,141.89 546.62,141.73 546.78,141.59 546.94,141.49 547.10,141.42 547.26,141.33 547.42,141.27 547.58,141.26 547.74,141.29 547.90,141.32 548.06,141.39 548.22,141.50 548.38,141.62 548.54,141.72 548.70,141.78 548.86,141.80 549.02,141.79 549.18,141.75 549.34,141.69 549.50,141.60 549.66,141.54 549.82,141.53 549.98,141.52 550.14,141.48 550.30,141.42 550.46,141.41 550.62,141.44 550.78,141.46 550.94,141.47 551.10,141.44 551.26,141.39 551.42,141.37 551.58,141.44 551.74,141.54 551.90,141.59 552.06,141.55 552.22,141.45 552.38,141.35 552.54,141.27 552.70,141.23 552.86,141.25 553.02,141.35 553.18,141.51 553.34,141.61 553.50,141.61 553.66,141.57 553.82,141.55 553.98,141.54 554.14,141.48 554.30,141.39 554.46,141.33 554.62,141.32 554.78,141.39 554.94,141.53 555.10,141.64 555.26,141.65 555.42,141.62 555.58,141.60 555.74,141.57 555.90,141.48 556.06,141.34 556.22,141.24 556.38,141.23 556.54,141.31 556.70,141.42 556.86,141.49 557.02,141.47 557.18,141.38 557.34,141.35 557.50,141.45 557.66,141.59 557.82,141.65 557.98,141.59 558.14,141.50 558.30,141.51 558.46,141.56 558.62,141.58 558.78,141.58 558.94,141.61 559.10,141.64 559.26,141.63 559.42,141.55 559.58,141.47 559.74,141.43 559.90,141.42 560.06,141.43 560.22,141.48 560.38,141.54 560.54,141.57 560.70,141.59 560.86,141.60 561.02,141.59 561.18,141.53 561.34,141.44 561.50,141.38 561.66,141.40 561.82,141.48 561.98,141.59 562.14,141.69 562.30,141.72 562.46,141.70 562.62,141.64 562.78,141.56 562.94,141.47 563.10,141.41 563.26,141.37 563.42,141.31 563.58,141.29 563.74,141.34 563.90,141.42 564.06,141.47 564.22,141.47 564.38,141.45 564.54,141.43 564.70,141.41 564.86,141.40 565.02,141.42 565.18,141.48 565.34,141.56 565.50,141.66 565.66,141.77 565.82,141.84 565.98,141.84 566.14,141.83 566.30,141.83 566.46,141.79 566.62,141.69 566.78,141.56 566.94,141.43 567.10,141.32 567.26,141.24 567.42,141.22 567.58,141.23 567.74,141.27 567.90,141.31 568.06,141.38 568.22,141.50 568.38,141.62 568.54,141.64 568.70,141.55 568.86,141.51 569.02,141.60 569.18,141.72 569.34,141.74 569.50,141.68 569.66,141.61 569.82,141.58 569.98,141.56 570.14,141.55 570.30,141.57 570.46,141.60 570.62,141.61 570.78,141.60 570.94,141.61 571.10,141.59 571.26,141.49 571.42,141.38 571.58,141.34 571.74,141.40 571.90,141.49 572.06,141.53 572.22,141.55 572.38,141.61" fill="none" stroke="#47D63E" stroke-width="4.0" stroke-linejoin="round" stroke-linecap="butt"/>
<polyline points="491.90,138.34 492.06,132.64 492.22,126.90 492.38,121.16 492.54,105.37 492.70,89.71 492.86,80.94 493.02,72.20 493.18,71.51 493.34,70.74 493.50,74.10 493.66,77.44 493.82,80.51 493.98,83.60 494.14,84.10 494.30,84.64 494.46,85.20 494.62,85.26 494.78,85.30 494.94,85.27 495.10,85.20 495.26,85.13 495.42,85.11 495.58,85.19 495.74,85.28 495.90,85.24 496.06,85.05 496.22,84.86 496.38,84.79 496.54,84.83 496.70,84.93 496.86,85.00 497.02,85.03 497.18,85.00 497.34,84.94 497.50,84.87 497.66,84.79 497.82,84.76 497.98,84.84 498.14,85.00 498.30,85.14 498.46,85.29 498.62,85.46 498.78,85.56 498.94,85.52 499.10,85.38 499.26,85.27 499.42,85.20 499.58,85.13 499.74,85.03 499.90,84.95 500.06,84.94 500.22,84.98 500.38,85.07 500.54,85.21 500.70,85.35 500.86,85.41 501.02,85.38 501.18,85.29 501.34,85.18 501.50,85.06 501.66,84.93 501.82,84.79 501.98,84.75 502.14,84.86 502.30,85.00 502.46,85.03 502.62,85.05 502.78,85.16 502.94,85.32 503.10,85.41 503.26,85.40 503.42,85.28 503.58,85.13 503.74,85.06 503.90,85.08 504.06,85.07 504.22,84.98 504.38,84.89 504.54,84.84 504.70,84.81 504.86,84.79 505.02,84.86 505.18,85.04 505.34,85.25 505.50,85.43 505.66,85.59 505.82,85.73 505.98,85.81 506.14,85.81 506.30,85.77 506.46,85.67 506.62,85.50 506.78,85.33 506.94,85.22 507.10,85.23 507.26,85.24 507.42,85.19 507.58,85.13 507.74,85.15 507.90,85.19 508.06,85.17 508.22,85.06 508.38,84.95 508.54,84.91 508.70,84.95 508.86,85.02 509.02,85.11 509.18,85.20 509.34,85.24 509.50,85.23 509.66,85.21 509.82,85.21 509.98,85.26 510.14,85.40 510.30,85.63 510.46,85.80 510.62,85.79 510.78,85.59 510.94,85.29 511.10,85.01 511.26,84.86 511.42,84.97 511.58,85.32 511.74,85.70 511.90,85.91 512.06,85.88 512.22,85.69 512.38,85.48 512.54,85.39 512.70,85.40 512.86,85.41 513.02,85.37 513.18,85.27 513.34,85.13 513.50,85.03 513.66,85.01 513.82,85.03 513.98,85.01 514.14,85.00 514.30,85.08 514.46,85.23 514.62,85.34 514.78,85.34 514.94,85.31 515.10,85.34 515.26,85.47 515.42,85.57 515.58,85.54 515.74,85.38 515.90,85.16 516.06,84.96 516.22,84.89 516.38,84.97 516.54,85.07 516.70,85.10 516.86,85.09 517.02,85.14 517.18,85.24 517.34,85.34 517.50,85.36 517.66,85.30 517.82,85.23 517.98,85.22 518.14,85.23 518.30,85.20 518.46,85.15 518.62,85.14 518.78,85.18 518.94,85.29 519.10,85.39 519.26,85.41 519.42,85.41 519.58,85.49 519.74,85.58 519.90,85.54 520.06,85.42 520.22,85.37 520.38,85.42 520.54,85.40 520.70,85.27 520.86,85.11 521.02,85.00 521.18,85.02 521.34,85.17 521.50,85.37 521.66,85.47 521.82,85.38 521.98,85.13 522.14,84.83 522.30,84.60 522.46,84.50 522.62,84.54 522.78,84.71 522.94,84.92 523.10,85.08 523.26,85.13 523.42,85.09 523.58,85.09 523.74,85.22 523.90,85.39 524.06,85.45 524.22,85.33 524.38,85.15 524.54,85.05 524.70,85.08 524.86,85.17 525.02,85.26 525.18,85.30 525.34,85.29 525.50,85.27 525.66,85.29 525.82,85.35 525.98,85.37 526.14,85.32 526.30,85.22 526.46,85.12 526.62,85.10 526.78,85.14 526.94,85.14 527.10,85.12 527.26,85.18 527.42,85.29 527.58,85.35 527.74,85.35 527.90,85.32 528.06,85.30 528.22,85.28 528.38,85.25 528.54,85.25 528.70,85.25 528.86,85.21 529.02,85.14 529.18,85.12 529.34,85.16 529.50,85.23 529.66,85.29 529.82,85.32 529.98,85.34 530.14,85.36 530.30,85.38 530.46,85.38 530.62,85.42 530.78,85.54 530.94,85.62 531.10,85.58 531.26,85.49 531.42,85.43 531.58,85.43 531.74,85.43 531.90,85.39 532.06,85.38 532.22,85.47 532.38,85.61 532.54,85.66 532.70,85.55 532.86,85.40 533.02,85.34 533.18,85.34 533.34,85.33 533.50,85.32 533.66,85.33 533.82,85.28 533.98,85.19 534.14,85.15 534.30,85.25 534.46,85.45 534.62,85.65 534.78,85.75 534.94,85.72 535.10,85.57 535.26,85.40 535.42,85.28 535.58,85.21 535.74,85.14 535.90,85.07 536.06,85.06 536.22,85.16 536.38,85.32 536.54,85.48 536.70,85.58 536.86,85.55 537.02,85.48 537.18,85.43 537.34,85.43 537.50,85.44 537.66,85.47 537.82,85.52 537.98,85.57 538.14,85.62 538.30,85.64 538.46,85.60 538.62,85.54 538.78,85.57 538.94,85.66 539.10,85.66 539.26,85.54 539.42,85.45 539.58,85.43 539.74,85.42 539.90,85.40 540.06,85.39 540.22,85.34 540.38,85.25 540.54,85.16 540.70,85.16 540.86,85.27 541.02,85.44 541.18,85.58 541.34,85.62 541.50,85.47 541.66,85.19 541.82,84.95 541.98,84.94 542.14,85.11 542.30,85.28 542.46,85.40 542.62,85.50 542.78,85.62 542.94,85.73 543.10,85.83 543.26,85.88 543.42,85.81 543.58,85.68 543.74,85.63 543.90,85.68 544.06,85.72 544.22,85.64 544.38,85.44 544.54,85.27 544.70,85.24 544.86,85.31 545.02,85.38 545.18,85.43 545.34,85.46 545.50,85.46 545.66,85.43 545.82,85.42 545.98,85.48 546.14,85.62 546.30,85.81 546.46,85.92 546.62,85.88 546.78,85.74 546.94,85.62 547.10,85.58 547.26,85.57 547.42,85.57 547.58,85.58 547.74,85.52 547.90,85.33 548.06,85.08 548.22,84.98 548.38,85.08 548.54,85.28 548.70,85.41 548.86,85.38 549.02,85.22 549.18,85.10 549.34,85.09 549.50,85.16 549.66,85.20 549.82,85.21 549.98,85.23 550.14,85.29 550.30,85.38 550.46,85.49 550.62,85.58 550.78,85.62 550.94,85.61 551.10,85.54 551.26,85.43 551.42,85.34 551.58,85.28 551.74,85.21 551.90,85.13 552.06,85.07 552.22,85.08 552.38,85.16 552.54,85.23 552.70,85.24 552.86,85.22 553.02,85.20 553.18,85.20 553.34,85.24 553.50,85.30 553.66,85.36 553.82,85.43 553.98,85.51 554.14,85.58 554.30,85.59 554.46,85.56 554.62,85.54 554.78,85.52 554.94,85.44 555.10,85.29 555.26,85.18 555.42,85.21 555.58,85.32 555.74,85.45 555.90,85.58 556.06,85.68 556.22,85.69 556.38,85.61 556.54,85.53 556.70,85.52 556.86,85.52 557.02,85.47 557.18,85.38 557.34,85.27 557.50,85.23 557.66,85.28 557.82,85.39 557.98,85.45 558.14,85.46 558.30,85.45 558.46,85.44 558.62,85.43 558.78,85.45 558.94,85.47 559.10,85.42 559.26,85.29 559.42,85.14 559.58,85.05 559.74,85.09 559.90,85.19 560.06,85.27 560.22,85.34 560.38,85.43 560.54,85.51 560.70,85.58 560.86,85.71 561.02,85.88 561.18,85.95 561.34,85.85 561.50,85.65 561.66,85.52 561.82,85.50 561.98,85.48 562.14,85.37 562.30,85.17 562.46,84.97 562.62,84.92 562.78,85.09 562.94,85.35 563.10,85.50 563.26,85.47 563.42,85.30 563.58,85.09 563.74,84.99 563.90,85.06 564.06,85.19 564.22,85.29 564.38,85.43 564.54,85.62 564.70,85.78 564.86,85.86 565.02,85.85 565.18,85.78 565.34,85.67 565.50,85.57 565.66,85.48 565.82,85.39 565.98,85.31 566.14,85.26 566.30,85.20 566.46,85.10 566.62,85.00 566.78,85.00 566.94,85.10 567.10,85.23 567.26,85.30 567.42,85.32 567.58,85.30 567.74,85.25 567.90,85.22 568.06,85.30 568.22,85.42 568.38,85.48 568.54,85.44 568.70,85.36 568.86,85.32 569.02,85.32 569.18,85.31 569.34,85.24 569.50,85.12 569.66,85.03 569.82,85.00 569.98,85.03 570.14,85.09 570.30,85.09 570.46,85.03 570.62,85.04 570.78,85.19 570.94,85.38 571.10,85.52 571.26,85.56 571.42,85.48 571.58,85.32 571.74,85.18 571.90,85.16 572.06,85.22 572.22,85.28 572.38,85.32" fill="none" stroke="#6EA2FF" stroke-width="4.0" stroke-linejoin="round" stroke-linecap="butt"/>
<path d="M488.00,32.10V147.30H576.00" fill="none" stroke="#333" stroke-width="0.7"/>
<path d="M487.00,142.30H488.00" stroke="#333" stroke-width="0.6"/>
<text x="486.70" y="145.60" font-size="8.1" fill="#4d4d4d" color="#4d4d4d" text-anchor="end" style="stroke-width:0.12px">0.00</text>
<path d="M487.00,116.10H488.00" stroke="#333" stroke-width="0.6"/>
<text x="486.70" y="119.40" font-size="8.1" fill="#4d4d4d" color="#4d4d4d" text-anchor="end" style="stroke-width:0.12px">0.25</text>
<path d="M487.00,89.90H488.00" stroke="#333" stroke-width="0.6"/>
<text x="486.70" y="93.20" font-size="8.1" fill="#4d4d4d" color="#4d4d4d" text-anchor="end" style="stroke-width:0.12px">0.50</text>
<path d="M487.00,63.70H488.00" stroke="#333" stroke-width="0.6"/>
<text x="486.70" y="67.00" font-size="8.1" fill="#4d4d4d" color="#4d4d4d" text-anchor="end" style="stroke-width:0.12px">0.75</text>
<path d="M487.00,37.50H488.00" stroke="#333" stroke-width="0.6"/>
<text x="486.70" y="40.80" font-size="8.1" fill="#4d4d4d" color="#4d4d4d" text-anchor="end" style="stroke-width:0.12px">1.00</text>
<path d="M491.90,147.30V148.30" stroke="#333" stroke-width="0.6"/>
<text x="492.35" y="153.90" font-size="6.3" fill="#4d4d4d" color="#4d4d4d" text-anchor="middle" style="stroke-width:0.12px">0</text>
<path d="M507.90,147.30V148.30" stroke="#333" stroke-width="0.6"/>
<text x="508.35" y="153.90" font-size="6.3" fill="#4d4d4d" color="#4d4d4d" text-anchor="middle" style="stroke-width:0.12px">100</text>
<path d="M523.90,147.30V148.30" stroke="#333" stroke-width="0.6"/>
<text x="524.35" y="153.90" font-size="6.3" fill="#4d4d4d" color="#4d4d4d" text-anchor="middle" style="stroke-width:0.12px">200</text>
<path d="M539.90,147.30V148.30" stroke="#333" stroke-width="0.6"/>
<text x="540.35" y="153.90" font-size="6.3" fill="#4d4d4d" color="#4d4d4d" text-anchor="middle" style="stroke-width:0.12px">300</text>
<path d="M555.90,147.30V148.30" stroke="#333" stroke-width="0.6"/>
<text x="556.35" y="153.90" font-size="6.3" fill="#4d4d4d" color="#4d4d4d" text-anchor="middle" style="stroke-width:0.12px">400</text>
<path d="M571.90,147.30V148.30" stroke="#333" stroke-width="0.6"/>
<text x="572.35" y="153.90" font-size="6.3" fill="#4d4d4d" color="#4d4d4d" text-anchor="middle" style="stroke-width:0.12px">500</text>
<rect x="595.00" y="19.50" width="87.80" height="12.60" fill="#fff" stroke="#7f7f7f" stroke-width="0.9"/>
<text x="639.00" y="28.70" font-size="7.05" fill="#1a1a1a" color="#1a1a1a" style="stroke-width:0.1px" text-anchor="middle">Pleiotropy on UG production</text>
<polyline points="598.90,142.36 599.06,142.34 599.22,142.31 599.38,142.28 599.54,142.26 599.70,142.26 599.86,142.26 600.02,142.26 600.18,142.25 600.34,142.25 600.50,142.25 600.66,142.27 600.82,142.30 600.98,142.32 601.14,142.33 601.30,142.34 601.46,142.35 601.62,142.37 601.78,142.39 601.94,142.40 602.10,142.36 602.26,142.31 602.42,142.27 602.58,142.28 602.74,142.30 602.90,142.31 603.06,142.32 603.22,142.32 603.38,142.33 603.54,142.33 603.70,142.34 603.86,142.35 604.02,142.34 604.18,142.32 604.34,142.32 604.50,142.34 604.66,142.36 604.82,142.36 604.98,142.34 605.14,142.33 605.30,142.32 605.46,142.32 605.62,142.32 605.78,142.33 605.94,142.31 606.10,142.30 606.26,142.31 606.42,142.33 606.58,142.35 606.74,142.34 606.90,142.34 607.06,142.34 607.22,142.33 607.38,142.31 607.54,142.30 607.70,142.31 607.86,142.32 608.02,142.33 608.18,142.33 608.34,142.31 608.50,142.30 608.66,142.28 608.82,142.27 608.98,142.27 609.14,142.27 609.30,142.29 609.46,142.30 609.62,142.31 609.78,142.30 609.94,142.28 610.10,142.27 610.26,142.28 610.42,142.29 610.58,142.30 610.74,142.30 610.90,142.30 611.06,142.29 611.22,142.27 611.38,142.26 611.54,142.27 611.70,142.28 611.86,142.28 612.02,142.29 612.18,142.31 612.34,142.34 612.50,142.34 612.66,142.32 612.82,142.28 612.98,142.25 613.14,142.24 613.30,142.23 613.46,142.23 613.62,142.23 613.78,142.23 613.94,142.24 614.10,142.25 614.26,142.26 614.42,142.27 614.58,142.30 614.74,142.32 614.90,142.32 615.06,142.30 615.22,142.27 615.38,142.26 615.54,142.27 615.70,142.30 615.86,142.34 616.02,142.37 616.18,142.37 616.34,142.36 616.50,142.34 616.66,142.32 616.82,142.31 616.98,142.30 617.14,142.30 617.30,142.30 617.46,142.29 617.62,142.29 617.78,142.31 617.94,142.32 618.10,142.32 618.26,142.32 618.42,142.32 618.58,142.32 618.74,142.30 618.90,142.29 619.06,142.28 619.22,142.29 619.38,142.29 619.54,142.27 619.70,142.24 619.86,142.22 620.02,142.21 620.18,142.22 620.34,142.24 620.50,142.25 620.66,142.25 620.82,142.25 620.98,142.27 621.14,142.30 621.30,142.31 621.46,142.31 621.62,142.31 621.78,142.29 621.94,142.27 622.10,142.27 622.26,142.28 622.42,142.30 622.58,142.30 622.74,142.30 622.90,142.32 623.06,142.33 623.22,142.32 623.38,142.30 623.54,142.27 623.70,142.27 623.86,142.28 624.02,142.31 624.18,142.32 624.34,142.31 624.50,142.31 624.66,142.32 624.82,142.35 624.98,142.38 625.14,142.39 625.30,142.36 625.46,142.31 625.62,142.26 625.78,142.24 625.94,142.24 626.10,142.26 626.26,142.26 626.42,142.25 626.58,142.23 626.74,142.24 626.90,142.25 627.06,142.27 627.22,142.30 627.38,142.32 627.54,142.32 627.70,142.30 627.86,142.29 628.02,142.31 628.18,142.34 628.34,142.35 628.50,142.35 628.66,142.33 628.82,142.32 628.98,142.32 629.14,142.33 629.30,142.33 629.46,142.32 629.62,142.32 629.78,142.33 629.94,142.35 630.10,142.36 630.26,142.37 630.42,142.36 630.58,142.35 630.74,142.34 630.90,142.33 631.06,142.33 631.22,142.32 631.38,142.31 631.54,142.31 631.70,142.32 631.86,142.33 632.02,142.34 632.18,142.34 632.34,142.34 632.50,142.33 632.66,142.32 632.82,142.32 632.98,142.33 633.14,142.35 633.30,142.36 633.46,142.35 633.62,142.33 633.78,142.32 633.94,142.32 634.10,142.32 634.26,142.32 634.42,142.32 634.58,142.32 634.74,142.32 634.90,142.32 635.06,142.31 635.22,142.32 635.38,142.31 635.54,142.28 635.70,142.27 635.86,142.27 636.02,142.30 636.18,142.32 636.34,142.32 636.50,142.30 636.66,142.28 636.82,142.27 636.98,142.25 637.14,142.26 637.30,142.27 637.46,142.30 637.62,142.31 637.78,142.32 637.94,142.31 638.10,142.30 638.26,142.30 638.42,142.33 638.58,142.36 638.74,142.37 638.90,142.36 639.06,142.34 639.22,142.34 639.38,142.34 639.54,142.33 639.70,142.32 639.86,142.31 640.02,142.31 640.18,142.32 640.34,142.33 640.50,142.34 640.66,142.34 640.82,142.32 640.98,142.31 641.14,142.30 641.30,142.29 641.46,142.29 641.62,142.28 641.78,142.30 641.94,142.31 642.10,142.30 642.26,142.30 642.42,142.31 642.58,142.31 642.74,142.31 642.90,142.31 643.06,142.32 643.22,142.34 643.38,142.35 643.54,142.35 643.70,142.35 643.86,142.34 644.02,142.35 644.18,142.35 644.34,142.35 644.50,142.33 644.66,142.32 644.82,142.31 644.98,142.30 645.14,142.27 645.30,142.25 645.46,142.23 645.62,142.22 645.78,142.22 645.94,142.22 646.10,142.23 646.26,142.25 646.42,142.27 646.58,142.29 646.74,142.31 646.90,142.32 647.06,142.34 647.22,142.37 647.38,142.39 647.54,142.38 647.70,142.36 647.86,142.35 648.02,142.35 648.18,142.35 648.34,142.35 648.50,142.36 648.66,142.37 648.82,142.38 648.98,142.38 649.14,142.39 649.30,142.41 649.46,142.41 649.62,142.40 649.78,142.36 649.94,142.33 650.10,142.31 650.26,142.30 650.42,142.29 650.58,142.30 650.74,142.32 650.90,142.33 651.06,142.33 651.22,142.33 651.38,142.33 651.54,142.35 651.70,142.36 651.86,142.35 652.02,142.34 652.18,142.32 652.34,142.30 652.50,142.30 652.66,142.30 652.82,142.29 652.98,142.28 653.14,142.27 653.30,142.26 653.46,142.26 653.62,142.24 653.78,142.23 653.94,142.24 654.10,142.26 654.26,142.28 654.42,142.29 654.58,142.27 654.74,142.23 654.90,142.17 655.06,142.12 655.22,142.11 655.38,142.13 655.54,142.19 655.70,142.25 655.86,142.30 656.02,142.33 656.18,142.33 656.34,142.33 656.50,142.32 656.66,142.29 656.82,142.27 656.98,142.25 657.14,142.24 657.30,142.24 657.46,142.25 657.62,142.25 657.78,142.25 657.94,142.25 658.10,142.27 658.26,142.28 658.42,142.27 658.58,142.25 658.74,142.25 658.90,142.27 659.06,142.31 659.22,142.34 659.38,142.34 659.54,142.33 659.70,142.31 659.86,142.30 660.02,142.29 660.18,142.30 660.34,142.30 660.50,142.31 660.66,142.31 660.82,142.29 660.98,142.26 661.14,142.25 661.30,142.25 661.46,142.26 661.62,142.24 661.78,142.22 661.94,142.21 662.10,142.22 662.26,142.26 662.42,142.29 662.58,142.31 662.74,142.31 662.90,142.33 663.06,142.35 663.22,142.35 663.38,142.34 663.54,142.33 663.70,142.32 663.86,142.33 664.02,142.33 664.18,142.36 664.34,142.38 664.50,142.38 664.66,142.36 664.82,142.32 664.98,142.29 665.14,142.27 665.30,142.26 665.46,142.25 665.62,142.23 665.78,142.23 665.94,142.24 666.10,142.26 666.26,142.27 666.42,142.28 666.58,142.29 666.74,142.30 666.90,142.30 667.06,142.28 667.22,142.25 667.38,142.25 667.54,142.27 667.70,142.30 667.86,142.33 668.02,142.35 668.18,142.35 668.34,142.35 668.50,142.33 668.66,142.33 668.82,142.33 668.98,142.33 669.14,142.31 669.30,142.30 669.46,142.30 669.62,142.31 669.78,142.31 669.94,142.30 670.10,142.29 670.26,142.29 670.42,142.29 670.58,142.29 670.74,142.31 670.90,142.33 671.06,142.33 671.22,142.32 671.38,142.30 671.54,142.30 671.70,142.32 671.86,142.34 672.02,142.34 672.18,142.31 672.34,142.28 672.50,142.26 672.66,142.26 672.82,142.26 672.98,142.27 673.14,142.28 673.30,142.31 673.46,142.33 673.62,142.33 673.78,142.31 673.94,142.28 674.10,142.25 674.26,142.23 674.42,142.25 674.58,142.29 674.74,142.32 674.90,142.32 675.06,142.31 675.22,142.30 675.38,142.30 675.54,142.30 675.70,142.29 675.86,142.29 676.02,142.30 676.18,142.34 676.34,142.36 676.50,142.36 676.66,142.34 676.82,142.32 676.98,142.29 677.14,142.27 677.30,142.26 677.46,142.30 677.62,142.34 677.78,142.37 677.94,142.37 678.10,142.37 678.26,142.37 678.42,142.37 678.58,142.36 678.74,142.36 678.90,142.36 679.06,142.35 679.22,142.33 679.38,142.34" fill="none" stroke="#EE6C67" stroke-width="4.0" stroke-linejoin="round" stroke-linecap="butt"/>
<polyline points="598.90,139.92 599.06,139.59 599.22,139.21 599.38,138.79 599.54,138.35 599.70,137.92 599.86,138.39 600.02,138.87 600.18,139.33 600.34,139.76 600.50,140.20 600.66,140.31 600.82,140.40 600.98,140.45 601.14,140.50 601.30,140.55 601.46,140.61 601.62,140.68 601.78,140.76 601.94,140.83 602.10,140.91 602.26,140.89 602.42,140.86 602.58,140.81 602.74,140.80 602.90,140.81 603.06,140.80 603.22,140.79 603.38,140.85 603.54,140.93 603.70,140.97 603.86,140.94 604.02,140.93 604.18,140.94 604.34,140.99 604.50,141.08 604.66,141.18 604.82,141.23 604.98,141.19 605.14,141.10 605.30,141.00 605.46,140.92 605.62,140.85 605.78,140.78 605.94,140.73 606.10,140.80 606.26,140.95 606.42,141.11 606.58,141.20 606.74,141.23 606.90,141.21 607.06,141.19 607.22,141.19 607.38,141.17 607.54,141.14 607.70,141.08 607.86,141.03 608.02,141.01 608.18,141.02 608.34,141.01 608.50,140.95 608.66,140.89 608.82,140.86 608.98,140.86 609.14,140.88 609.30,140.93 609.46,140.98 609.62,141.03 609.78,141.08 609.94,141.11 610.10,141.08 610.26,141.03 610.42,140.98 610.58,140.96 610.74,140.97 610.90,141.00 611.06,141.01 611.22,140.98 611.38,140.93 611.54,140.90 611.70,140.92 611.86,140.99 612.02,141.06 612.18,141.10 612.34,141.11 612.50,141.10 612.66,141.02 612.82,140.92 612.98,140.89 613.14,140.93 613.30,140.95 613.46,140.96 613.62,140.96 613.78,140.94 613.94,140.88 614.10,140.82 614.26,140.79 614.42,140.83 614.58,140.91 614.74,140.98 614.90,141.04 615.06,141.06 615.22,140.99 615.38,140.86 615.54,140.74 615.70,140.78 615.86,140.97 616.02,141.13 616.18,141.13 616.34,141.03 616.50,140.94 616.66,140.90 616.82,140.92 616.98,141.00 617.14,141.08 617.30,141.14 617.46,141.15 617.62,141.10 617.78,140.99 617.94,140.88 618.10,140.82 618.26,140.85 618.42,140.95 618.58,141.05 618.74,141.11 618.90,141.13 619.06,141.08 619.22,140.97 619.38,140.85 619.54,140.83 619.70,140.90 619.86,140.95 620.02,140.93 620.18,140.88 620.34,140.89 620.50,140.98 620.66,141.09 620.82,141.17 620.98,141.18 621.14,141.14 621.30,141.10 621.46,141.07 621.62,141.05 621.78,141.03 621.94,141.02 622.10,141.02 622.26,141.04 622.42,141.08 622.58,141.12 622.74,141.10 622.90,141.01 623.06,140.91 623.22,140.84 623.38,140.79 623.54,140.78 623.70,140.76 623.86,140.68 624.02,140.56 624.18,140.51 624.34,140.55 624.50,140.67 624.66,140.84 624.82,141.00 624.98,141.05 625.14,141.01 625.30,140.97 625.46,141.00 625.62,141.06 625.78,141.14 625.94,141.19 626.10,141.17 626.26,141.08 626.42,141.00 626.58,140.99 626.74,141.04 626.90,141.05 627.06,140.99 627.22,140.93 627.38,140.97 627.54,141.08 627.70,141.20 627.86,141.24 628.02,141.20 628.18,141.16 628.34,141.19 628.50,141.20 628.66,141.15 628.82,141.07 628.98,140.99 629.14,140.97 629.30,141.05 629.46,141.16 629.62,141.20 629.78,141.14 629.94,141.01 630.10,140.89 630.26,140.82 630.42,140.79 630.58,140.77 630.74,140.77 630.90,140.78 631.06,140.82 631.22,140.88 631.38,140.93 631.54,140.94 631.70,140.86 631.86,140.72 632.02,140.64 632.18,140.67 632.34,140.76 632.50,140.84 632.66,140.85 632.82,140.79 632.98,140.75 633.14,140.79 633.30,140.89 633.46,141.02 633.62,141.13 633.78,141.17 633.94,141.11 634.10,140.98 634.26,140.85 634.42,140.78 634.58,140.80 634.74,140.88 634.90,140.95 635.06,140.94 635.22,140.86 635.38,140.82 635.54,140.85 635.70,140.92 635.86,140.95 636.02,140.90 636.18,140.81 636.34,140.72 636.50,140.64 636.66,140.62 636.82,140.68 636.98,140.77 637.14,140.83 637.30,140.89 637.46,140.98 637.62,141.07 637.78,141.12 637.94,141.15 638.10,141.16 638.26,141.18 638.42,141.19 638.58,141.19 638.74,141.19 638.90,141.19 639.06,141.15 639.22,141.11 639.38,141.09 639.54,141.10 639.70,141.12 639.86,141.12 640.02,141.08 640.18,141.00 640.34,140.91 640.50,140.81 640.66,140.72 640.82,140.70 640.98,140.70 641.14,140.72 641.30,140.76 641.46,140.82 641.62,140.87 641.78,140.90 641.94,140.98 642.10,141.12 642.26,141.27 642.42,141.34 642.58,141.26 642.74,141.09 642.90,140.93 643.06,140.85 643.22,140.84 643.38,140.85 643.54,140.93 643.70,141.06 643.86,141.19 644.02,141.26 644.18,141.27 644.34,141.22 644.50,141.16 644.66,141.09 644.82,141.01 644.98,140.94 645.14,140.89 645.30,140.83 645.46,140.78 645.62,140.76 645.78,140.81 645.94,140.91 646.10,141.02 646.26,141.07 646.42,141.04 646.58,140.95 646.74,140.85 646.90,140.80 647.06,140.78 647.22,140.75 647.38,140.66 647.54,140.59 647.70,140.59 647.86,140.70 648.02,140.84 648.18,140.94 648.34,140.96 648.50,140.93 648.66,140.83 648.82,140.67 648.98,140.50 649.14,140.41 649.30,140.45 649.46,140.58 649.62,140.70 649.78,140.77 649.94,140.83 650.10,140.93 650.26,140.99 650.42,140.95 650.58,140.85 650.74,140.72 650.90,140.59 651.06,140.50 651.22,140.56 651.38,140.80 651.54,141.07 651.70,141.17 651.86,141.08 652.02,140.99 652.18,141.00 652.34,141.08 652.50,141.11 652.66,141.07 652.82,140.98 652.98,140.90 653.14,140.87 653.30,140.91 653.46,141.04 653.62,141.20 653.78,141.28 653.94,141.23 654.10,141.14 654.26,141.12 654.42,141.13 654.58,141.10 654.74,141.05 654.90,141.03 655.06,141.05 655.22,141.08 655.38,141.09 655.54,141.10 655.70,141.08 655.86,141.03 656.02,140.94 656.18,140.84 656.34,140.80 656.50,140.84 656.66,140.94 656.82,141.04 656.98,141.11 657.14,141.12 657.30,141.06 657.46,141.00 657.62,140.99 657.78,141.01 657.94,141.00 658.10,140.93 658.26,140.81 658.42,140.74 658.58,140.72 658.74,140.67 658.90,140.57 659.06,140.48 659.22,140.47 659.38,140.57 659.54,140.74 659.70,140.92 659.86,141.03 660.02,141.06 660.18,141.04 660.34,141.04 660.50,141.04 660.66,141.04 660.82,141.01 660.98,140.97 661.14,140.97 661.30,140.99 661.46,140.95 661.62,140.86 661.78,140.81 661.94,140.85 662.10,140.89 662.26,140.85 662.42,140.78 662.58,140.81 662.74,140.91 662.90,141.00 663.06,140.97 663.22,140.91 663.38,140.90 663.54,140.94 663.70,140.95 663.86,140.89 664.02,140.84 664.18,140.86 664.34,140.93 664.50,140.95 664.66,140.90 664.82,140.80 664.98,140.73 665.14,140.74 665.30,140.80 665.46,140.89 665.62,140.95 665.78,140.96 665.94,140.94 666.10,140.93 666.26,140.92 666.42,140.88 666.58,140.84 666.74,140.86 666.90,140.95 667.06,141.03 667.22,141.07 667.38,141.04 667.54,140.94 667.70,140.82 667.86,140.77 668.02,140.86 668.18,140.97 668.34,140.98 668.50,140.90 668.66,140.79 668.82,140.71 668.98,140.67 669.14,140.69 669.30,140.77 669.46,140.86 669.62,140.93 669.78,140.94 669.94,140.93 670.10,140.92 670.26,140.94 670.42,140.98 670.58,141.04 670.74,141.06 670.90,141.05 671.06,141.04 671.22,141.09 671.38,141.15 671.54,141.12 671.70,141.02 671.86,140.91 672.02,140.88 672.18,140.91 672.34,140.94 672.50,140.94 672.66,140.89 672.82,140.80 672.98,140.73 673.14,140.74 673.30,140.83 673.46,140.97 673.62,141.10 673.78,141.19 673.94,141.24 674.10,141.27 674.26,141.29 674.42,141.34 674.58,141.39 674.74,141.36 674.90,141.20 675.06,140.97 675.22,140.79 675.38,140.73 675.54,140.79 675.70,140.90 675.86,141.01 676.02,141.09 676.18,141.10 676.34,141.03 676.50,140.90 676.66,140.84 676.82,140.89 676.98,141.00 677.14,141.04 677.30,141.00 677.46,140.95 677.62,140.91 677.78,140.86 677.94,140.82 678.10,140.84 678.26,140.93 678.42,141.02 678.58,141.07 678.74,141.04 678.90,140.94 679.06,140.81 679.22,140.76 679.38,140.78" fill="none" stroke="#47D63E" stroke-width="4.0" stroke-linejoin="round" stroke-linecap="butt"/>
<polyline points="598.90,137.43 599.06,126.72 599.22,115.97 599.38,111.17 599.54,106.42 599.70,107.06 599.86,107.78 600.02,114.68 600.18,121.44 600.34,126.59 600.50,131.77 600.66,132.41 600.82,133.14 600.98,133.93 601.14,134.71 601.30,134.82 601.46,134.94 601.62,134.99 601.78,134.92 601.94,134.78 602.10,134.68 602.26,134.66 602.42,134.69 602.58,134.72 602.74,134.76 602.90,134.81 603.06,134.85 603.22,134.83 603.38,134.72 603.54,134.56 603.70,134.43 603.86,134.39 604.02,134.39 604.18,134.37 604.34,134.33 604.50,134.26 604.66,134.14 604.82,134.00 604.98,133.98 605.14,134.15 605.30,134.42 605.46,134.61 605.62,134.60 605.78,134.49 605.94,134.37 606.10,134.27 606.26,134.25 606.42,134.35 606.58,134.46 606.74,134.47 606.90,134.35 607.06,134.24 607.22,134.25 607.38,134.37 607.54,134.51 607.70,134.55 607.86,134.54 608.02,134.58 608.18,134.64 608.34,134.56 608.50,134.36 608.66,134.18 608.82,134.04 608.98,133.93 609.14,133.94 609.30,134.12 609.46,134.33 609.62,134.38 609.78,134.26 609.94,134.14 610.10,134.19 610.26,134.36 610.42,134.56 610.58,134.77 610.74,134.94 610.90,134.99 611.06,134.87 611.22,134.57 611.38,134.19 611.54,133.92 611.70,133.88 611.86,134.05 612.02,134.27 612.18,134.40 612.34,134.53 612.50,134.71 612.66,134.85 612.82,134.87 612.98,134.79 613.14,134.65 613.30,134.47 613.46,134.29 613.62,134.19 613.78,134.22 613.94,134.36 614.10,134.56 614.26,134.75 614.42,134.86 614.58,134.86 614.74,134.74 614.90,134.54 615.06,134.32 615.22,134.14 615.38,134.10 615.54,134.26 615.70,134.52 615.86,134.73 616.02,134.81 616.18,134.81 616.34,134.78 616.50,134.74 616.66,134.72 616.82,134.70 616.98,134.65 617.14,134.54 617.30,134.41 617.46,134.27 617.62,134.16 617.78,134.16 617.94,134.35 618.10,134.61 618.26,134.81 618.42,134.91 618.58,134.92 618.74,134.86 618.90,134.75 619.06,134.61 619.22,134.50 619.38,134.45 619.54,134.47 619.70,134.53 619.86,134.60 620.02,134.66 620.18,134.70 620.34,134.67 620.50,134.54 620.66,134.36 620.82,134.25 620.98,134.20 621.14,134.21 621.30,134.31 621.46,134.48 621.62,134.61 621.78,134.56 621.94,134.44 622.10,134.40 622.26,134.47 622.42,134.52 622.58,134.52 622.74,134.47 622.90,134.44 623.06,134.41 623.22,134.37 623.38,134.31 623.54,134.30 623.70,134.37 623.86,134.50 624.02,134.63 624.18,134.67 624.34,134.60 624.50,134.51 624.66,134.50 624.82,134.58 624.98,134.67 625.14,134.67 625.30,134.54 625.46,134.40 625.62,134.34 625.78,134.32 625.94,134.32 626.10,134.38 626.26,134.47 626.42,134.47 626.58,134.36 626.74,134.25 626.90,134.23 627.06,134.34 627.22,134.52 627.38,134.68 627.54,134.72 627.70,134.66 627.86,134.59 628.02,134.56 628.18,134.61 628.34,134.68 628.50,134.75 628.66,134.79 628.82,134.79 628.98,134.76 629.14,134.69 629.30,134.63 629.46,134.60 629.62,134.60 629.78,134.56 629.94,134.45 630.10,134.34 630.26,134.35 630.42,134.45 630.58,134.59 630.74,134.76 630.90,134.90 631.06,134.91 631.22,134.72 631.38,134.42 631.54,134.18 631.70,134.08 631.86,134.11 632.02,134.21 632.18,134.39 632.34,134.63 632.50,134.84 632.66,134.93 632.82,134.94 632.98,134.92 633.14,134.83 633.30,134.67 633.46,134.50 633.62,134.44 633.78,134.51 633.94,134.62 634.10,134.70 634.26,134.73 634.42,134.71 634.58,134.68 634.74,134.65 634.90,134.63 635.06,134.61 635.22,134.64 635.38,134.73 635.54,134.87 635.70,134.96 635.86,134.93 636.02,134.80 636.18,134.66 636.34,134.55 636.50,134.44 636.66,134.35 636.82,134.36 636.98,134.45 637.14,134.49 637.30,134.42 637.46,134.32 637.62,134.30 637.78,134.34 637.94,134.40 638.10,134.46 638.26,134.49 638.42,134.52 638.58,134.51 638.74,134.43 638.90,134.35 639.06,134.34 639.22,134.39 639.38,134.48 639.54,134.64 639.70,134.84 639.86,134.96 640.02,134.97 640.18,134.91 640.34,134.88 640.50,134.90 640.66,134.85 640.82,134.65 640.98,134.37 641.14,134.19 641.30,134.19 641.46,134.32 641.62,134.50 641.78,134.67 641.94,134.75 642.10,134.79 642.26,134.91 642.42,135.04 642.58,135.07 642.74,134.98 642.90,134.81 643.06,134.61 643.22,134.48 643.38,134.50 643.54,134.60 643.70,134.67 643.86,134.70 644.02,134.74 644.18,134.80 644.34,134.84 644.50,134.85 644.66,134.76 644.82,134.57 644.98,134.41 645.14,134.42 645.30,134.58 645.46,134.70 645.62,134.68 645.78,134.56 645.94,134.46 646.10,134.46 646.26,134.56 646.42,134.67 646.58,134.74 646.74,134.77 646.90,134.77 647.06,134.84 647.22,135.01 647.38,135.11 647.54,134.99 647.70,134.81 647.86,134.77 648.02,134.80 648.18,134.76 648.34,134.69 648.50,134.66 648.66,134.60 648.82,134.52 648.98,134.50 649.14,134.55 649.30,134.56 649.46,134.45 649.62,134.30 649.78,134.21 649.94,134.25 650.10,134.34 650.26,134.33 650.42,134.18 650.58,134.02 650.74,134.01 650.90,134.21 651.06,134.53 651.22,134.77 651.38,134.79 651.54,134.66 651.70,134.57 651.86,134.53 652.02,134.45 652.18,134.36 652.34,134.36 652.50,134.48 652.66,134.55 652.82,134.51 652.98,134.43 653.14,134.42 653.30,134.48 653.46,134.57 653.62,134.65 653.78,134.67 653.94,134.63 654.10,134.60 654.26,134.64 654.42,134.76 654.58,134.88 654.74,134.83 654.90,134.67 655.06,134.53 655.22,134.43 655.38,134.29 655.54,134.15 655.70,134.11 655.86,134.20 656.02,134.37 656.18,134.53 656.34,134.61 656.50,134.63 656.66,134.62 656.82,134.66 656.98,134.73 657.14,134.73 657.30,134.69 657.46,134.72 657.62,134.81 657.78,134.83 657.94,134.78 658.10,134.72 658.26,134.70 658.42,134.73 658.58,134.83 658.74,134.96 658.90,135.08 659.06,135.11 659.22,135.08 659.38,135.06 659.54,135.04 659.70,134.98 659.86,134.86 660.02,134.71 660.18,134.55 660.34,134.39 660.50,134.31 660.66,134.36 660.82,134.50 660.98,134.65 661.14,134.73 661.30,134.69 661.46,134.60 661.62,134.54 661.78,134.53 661.94,134.48 662.10,134.39 662.26,134.33 662.42,134.39 662.58,134.51 662.74,134.58 662.90,134.60 663.06,134.71 663.22,134.90 663.38,135.01 663.54,134.97 663.70,134.88 663.86,134.84 664.02,134.81 664.18,134.73 664.34,134.64 664.50,134.64 664.66,134.72 664.82,134.78 664.98,134.72 665.14,134.58 665.30,134.49 665.46,134.51 665.62,134.61 665.78,134.72 665.94,134.78 666.10,134.80 666.26,134.78 666.42,134.71 666.58,134.62 666.74,134.55 666.90,134.52 667.06,134.54 667.22,134.58 667.38,134.61 667.54,134.64 667.70,134.70 667.86,134.79 668.02,134.86 668.18,134.96 668.34,135.09 668.50,135.16 668.66,135.12 668.82,134.97 668.98,134.77 669.14,134.56 669.30,134.48 669.46,134.60 669.62,134.86 669.78,135.09 669.94,135.23 670.10,135.26 670.26,135.17 670.42,134.97 670.58,134.79 670.74,134.72 670.90,134.76 671.06,134.82 671.22,134.88 671.38,134.93 671.54,134.94 671.70,134.91 671.86,134.90 672.02,134.89 672.18,134.80 672.34,134.68 672.50,134.70 672.66,134.88 672.82,135.01 672.98,134.94 673.14,134.79 673.30,134.76 673.46,134.91 673.62,135.05 673.78,135.06 673.94,134.97 674.10,134.95 674.26,135.03 674.42,135.11 674.58,135.06 674.74,134.90 674.90,134.75 675.06,134.70 675.22,134.73 675.38,134.76 675.54,134.71 675.70,134.54 675.86,134.35 676.02,134.28 676.18,134.35 676.34,134.53 676.50,134.79 676.66,135.03 676.82,135.09 676.98,134.91 677.14,134.61 677.30,134.36 677.46,134.28 677.62,134.37 677.78,134.55 677.94,134.71 678.10,134.78 678.26,134.80 678.42,134.82 678.58,134.84 678.74,134.83 678.90,134.81 679.06,134.78 679.22,134.72 679.38,134.60" fill="none" stroke="#6EA2FF" stroke-width="4.0" stroke-linejoin="round" stroke-linecap="butt"/>
<path d="M595.00,32.10V147.30H683.00" fill="none" stroke="#333" stroke-width="0.7"/>
<path d="M594.00,142.30H595.00" stroke="#333" stroke-width="0.6"/>
<text x="593.70" y="145.60" font-size="8.1" fill="#4d4d4d" color="#4d4d4d" text-anchor="end" style="stroke-width:0.12px">0.00</text>
<path d="M594.00,116.10H595.00" stroke="#333" stroke-width="0.6"/>
<text x="593.70" y="119.40" font-size="8.1" fill="#4d4d4d" color="#4d4d4d" text-anchor="end" style="stroke-width:0.12px">0.25</text>
<path d="M594.00,89.90H595.00" stroke="#333" stroke-width="0.6"/>
<text x="593.70" y="93.20" font-size="8.1" fill="#4d4d4d" color="#4d4d4d" text-anchor="end" style="stroke-width:0.12px">0.50</text>
<path d="M594.00,63.70H595.00" stroke="#333" stroke-width="0.6"/>
<text x="593.70" y="67.00" font-size="8.1" fill="#4d4d4d" color="#4d4d4d" text-anchor="end" style="stroke-width:0.12px">0.75</text>
<path d="M594.00,37.50H595.00" stroke="#333" stroke-width="0.6"/>
<text x="593.70" y="40.80" font-size="8.1" fill="#4d4d4d" color="#4d4d4d" text-anchor="end" style="stroke-width:0.12px">1.00</text>
<path d="M598.90,147.30V148.30" stroke="#333" stroke-width="0.6"/>
<text x="599.35" y="153.90" font-size="6.3" fill="#4d4d4d" color="#4d4d4d" text-anchor="middle" style="stroke-width:0.12px">0</text>
<path d="M614.90,147.30V148.30" stroke="#333" stroke-width="0.6"/>
<text x="615.35" y="153.90" font-size="6.3" fill="#4d4d4d" color="#4d4d4d" text-anchor="middle" style="stroke-width:0.12px">100</text>
<path d="M630.90,147.30V148.30" stroke="#333" stroke-width="0.6"/>
<text x="631.35" y="153.90" font-size="6.3" fill="#4d4d4d" color="#4d4d4d" text-anchor="middle" style="stroke-width:0.12px">200</text>
<path d="M646.90,147.30V148.30" stroke="#333" stroke-width="0.6"/>
<text x="647.35" y="153.90" font-size="6.3" fill="#4d4d4d" color="#4d4d4d" text-anchor="middle" style="stroke-width:0.12px">300</text>
<path d="M662.90,147.30V148.30" stroke="#333" stroke-width="0.6"/>
<text x="663.35" y="153.90" font-size="6.3" fill="#4d4d4d" color="#4d4d4d" text-anchor="middle" style="stroke-width:0.12px">400</text>
<path d="M678.90,147.30V148.30" stroke="#333" stroke-width="0.6"/>
<text x="679.35" y="153.90" font-size="6.3" fill="#4d4d4d" color="#4d4d4d" text-anchor="middle" style="stroke-width:0.12px">500</text>
<text transform="translate(355.90,89.70) rotate(-90)" font-size="7.9" font-weight="bold" fill="#000" color="#000" text-anchor="middle">Frequency of tetraploids</text>
<text x="531.90" y="164.80" font-size="8.8" font-weight="bold" fill="#000" color="#000" text-anchor="middle">Generation</text>
<rect x="478.90" y="173.60" width="14.90" height="4.1" fill="#EE6C67"/>
<text x="496.70" y="178.35" font-size="8.1" fill="#1a1a1a" color="#1a1a1a">0.005</text>
<rect x="520.60" y="173.60" width="14.30" height="4.1" fill="#47D63E"/>
<text x="537.80" y="178.35" font-size="8.1" fill="#1a1a1a" color="#1a1a1a">0.05</text>
<rect x="557.60" y="173.60" width="14.30" height="4.1" fill="#6EA2FF"/>
<text x="575.60" y="178.35" font-size="8.1" fill="#1a1a1a" color="#1a1a1a">0.1</text>
<text x="531.90" y="188.20" font-size="8.0" fill="#1a1a1a" color="#1a1a1a" text-anchor="middle">Mean of 100 replicates</text>
<text x="1.10" y="201.15" font-size="9.4" fill="#000" color="#000" style="stroke-width:0.2px">C</text>
<text x="38.40" y="209.40" font-size="9.6" fill="#000" color="#000" style="stroke-width:0.1px">Frequency of tetraploids with 0.3 environmental effect</text>
<rect x="38.40" y="213.50" width="87.80" height="11.90" fill="#fff" stroke="#7f7f7f" stroke-width="0.9"/>
<text x="82.40" y="222.35" font-size="7.05" fill="#1a1a1a" color="#1a1a1a" style="stroke-width:0.1px" text-anchor="middle">No pleiotropy</text>
<polyline points="42.30,335.08 42.46,334.16 42.62,333.24 42.78,332.33 42.94,331.41 43.10,329.31 43.26,327.22 43.42,325.12 43.58,318.13 43.74,311.15 43.90,304.16 44.06,296.30 44.22,288.44 44.38,280.58 44.54,272.72 44.70,264.34 44.86,255.95 45.02,249.66 45.18,245.47 45.34,241.28 45.50,240.23 45.66,239.18 45.82,238.14 45.98,237.09 46.14,236.04 46.30,234.99 46.46,233.94 46.62,232.90 46.78,232.71 46.94,232.51 47.10,232.32 47.26,232.13 47.42,231.94 47.58,231.75 47.74,231.56 47.90,231.37 48.06,231.18 48.22,230.99 48.38,230.80 48.54,230.80 48.70,230.80 48.86,230.80 49.02,230.80 49.18,230.80 49.34,230.80 49.50,230.80 49.66,230.80 49.82,230.80 49.98,230.80 50.14,230.80 50.30,230.80 50.46,230.80 50.62,230.80 50.78,230.80 50.94,230.80 51.10,230.80 51.26,230.80 51.42,230.80 51.58,230.80 51.74,230.80 51.90,230.80 52.06,230.80 52.22,230.80 52.38,230.80 52.54,230.80 52.70,230.80 52.86,230.80 53.02,230.80 53.18,230.80 53.34,230.80 53.50,230.80 53.66,230.80 53.82,230.80 53.98,230.80 54.14,230.80 54.30,230.80 54.46,230.80 54.62,230.80 54.78,230.80 54.94,230.80 55.10,230.80 55.26,230.80 55.42,230.80 55.58,230.80 55.74,230.80 55.90,230.80 56.06,230.80 56.22,230.80 56.38,230.80 56.54,230.80 56.70,230.80 56.86,230.80 57.02,230.80 57.18,230.80 57.34,230.80 57.50,230.80 57.66,230.80 57.82,230.80 57.98,230.80 58.14,230.80 58.30,230.80 58.46,230.80 58.62,230.80 58.78,230.80 58.94,230.80 59.10,230.80 59.26,230.80 59.42,230.80 59.58,230.80 59.74,230.80 59.90,230.80 60.06,230.80 60.22,230.80 60.38,230.80 60.54,230.80 60.70,230.80 60.86,230.80 61.02,230.80 61.18,230.80 61.34,230.80 61.50,230.80 61.66,230.80 61.82,230.80 61.98,230.80 62.14,230.80 62.30,230.80 62.46,230.80 62.62,230.80 62.78,230.80 62.94,230.80 63.10,230.80 63.26,230.80 63.42,230.80 63.58,230.80 63.74,230.80 63.90,230.80 64.06,230.80 64.22,230.80 64.38,230.80 64.54,230.80 64.70,230.80 64.86,230.80 65.02,230.80 65.18,230.80 65.34,230.80 65.50,230.80 65.66,230.80 65.82,230.80 65.98,230.80 66.14,230.80 66.30,230.80 66.46,230.80 66.62,230.80 66.78,230.80 66.94,230.80 67.10,230.80 67.26,230.80 67.42,230.80 67.58,230.80 67.74,230.80 67.90,230.80 68.06,230.80 68.22,230.80 68.38,230.80 68.54,230.80 68.70,230.80 68.86,230.80 69.02,230.80 69.18,230.80 69.34,230.80 69.50,230.80 69.66,230.80 69.82,230.80 69.98,230.80 70.14,230.80 70.30,230.80 70.46,230.80 70.62,230.80 70.78,230.80 70.94,230.80 71.10,230.80 71.26,230.80 71.42,230.80 71.58,230.80 71.74,230.80 71.90,230.80 72.06,230.80 72.22,230.80 72.38,230.80 72.54,230.80 72.70,230.80 72.86,230.80 73.02,230.80 73.18,230.80 73.34,230.80 73.50,230.80 73.66,230.80 73.82,230.80 73.98,230.80 74.14,230.80 74.30,230.80 74.46,230.80 74.62,230.80 74.78,230.80 74.94,230.80 75.10,230.80 75.26,230.80 75.42,230.80 75.58,230.80 75.74,230.80 75.90,230.80 76.06,230.80 76.22,230.80 76.38,230.80 76.54,230.80 76.70,230.80 76.86,230.80 77.02,230.80 77.18,230.80 77.34,230.80 77.50,230.80 77.66,230.80 77.82,230.80 77.98,230.80 78.14,230.80 78.30,230.80 78.46,230.80 78.62,230.80 78.78,230.80 78.94,230.80 79.10,230.80 79.26,230.80 79.42,230.80 79.58,230.80 79.74,230.80 79.90,230.80 80.06,230.80 80.22,230.80 80.38,230.80 80.54,230.80 80.70,230.80 80.86,230.80 81.02,230.80 81.18,230.80 81.34,230.80 81.50,230.80 81.66,230.80 81.82,230.80 81.98,230.80 82.14,230.80 82.30,230.80 82.46,230.80 82.62,230.80 82.78,230.80 82.94,230.80 83.10,230.80 83.26,230.80 83.42,230.80 83.58,230.80 83.74,230.80 83.90,230.80 84.06,230.80 84.22,230.80 84.38,230.80 84.54,230.80 84.70,230.80 84.86,230.80 85.02,230.80 85.18,230.80 85.34,230.80 85.50,230.80 85.66,230.80 85.82,230.80 85.98,230.80 86.14,230.80 86.30,230.80 86.46,230.80 86.62,230.80 86.78,230.80 86.94,230.80 87.10,230.80 87.26,230.80 87.42,230.80 87.58,230.80 87.74,230.80 87.90,230.80 88.06,230.80 88.22,230.80 88.38,230.80 88.54,230.80 88.70,230.80 88.86,230.80 89.02,230.80 89.18,230.80 89.34,230.80 89.50,230.80 89.66,230.80 89.82,230.80 89.98,230.80 90.14,230.80 90.30,230.80 90.46,230.80 90.62,230.80 90.78,230.80 90.94,230.80 91.10,230.80 91.26,230.80 91.42,230.80 91.58,230.80 91.74,230.80 91.90,230.80 92.06,230.80 92.22,230.80 92.38,230.80 92.54,230.80 92.70,230.80 92.86,230.80 93.02,230.80 93.18,230.80 93.34,230.80 93.50,230.80 93.66,230.80 93.82,230.80 93.98,230.80 94.14,230.80 94.30,230.80 94.46,230.80 94.62,230.80 94.78,230.80 94.94,230.80 95.10,230.80 95.26,230.80 95.42,230.80 95.58,230.80 95.74,230.80 95.90,230.80 96.06,230.80 96.22,230.80 96.38,230.80 96.54,230.80 96.70,230.80 96.86,230.80 97.02,230.80 97.18,230.80 97.34,230.80 97.50,230.80 97.66,230.80 97.82,230.80 97.98,230.80 98.14,230.80 98.30,230.80 98.46,230.80 98.62,230.80 98.78,230.80 98.94,230.80 99.10,230.80 99.26,230.80 99.42,230.80 99.58,230.80 99.74,230.80 99.90,230.80 100.06,230.80 100.22,230.80 100.38,230.80 100.54,230.80 100.70,230.80 100.86,230.80 101.02,230.80 101.18,230.80 101.34,230.80 101.50,230.80 101.66,230.80 101.82,230.80 101.98,230.80 102.14,230.80 102.30,230.80 102.46,230.80 102.62,230.80 102.78,230.80 102.94,230.80 103.10,230.80 103.26,230.80 103.42,230.80 103.58,230.80 103.74,230.80 103.90,230.80 104.06,230.80 104.22,230.80 104.38,230.80 104.54,230.80 104.70,230.80 104.86,230.80 105.02,230.80 105.18,230.80 105.34,230.80 105.50,230.80 105.66,230.80 105.82,230.80 105.98,230.80 106.14,230.80 106.30,230.80 106.46,230.80 106.62,230.80 106.78,230.80 106.94,230.80 107.10,230.80 107.26,230.80 107.42,230.80 107.58,230.80 107.74,230.80 107.90,230.80 108.06,230.80 108.22,230.80 108.38,230.80 108.54,230.80 108.70,230.80 108.86,230.80 109.02,230.80 109.18,230.80 109.34,230.80 109.50,230.80 109.66,230.80 109.82,230.80 109.98,230.80 110.14,230.80 110.30,230.80 110.46,230.80 110.62,230.80 110.78,230.80 110.94,230.80 111.10,230.80 111.26,230.80 111.42,230.80 111.58,230.80 111.74,230.80 111.90,230.80 112.06,230.80 112.22,230.80 112.38,230.80 112.54,230.80 112.70,230.80 112.86,230.80 113.02,230.80 113.18,230.80 113.34,230.80 113.50,230.80 113.66,230.80 113.82,230.80 113.98,230.80 114.14,230.80 114.30,230.80 114.46,230.80 114.62,230.80 114.78,230.80 114.94,230.80 115.10,230.80 115.26,230.80 115.42,230.80 115.58,230.80 115.74,230.80 115.90,230.80 116.06,230.80 116.22,230.80 116.38,230.80 116.54,230.80 116.70,230.80 116.86,230.80 117.02,230.80 117.18,230.80 117.34,230.80 117.50,230.80 117.66,230.80 117.82,230.80 117.98,230.80 118.14,230.80 118.30,230.80 118.46,230.80 118.62,230.80 118.78,230.80 118.94,230.80 119.10,230.80 119.26,230.80 119.42,230.80 119.58,230.80 119.74,230.80 119.90,230.80 120.06,230.80 120.22,230.80 120.38,230.80 120.54,230.80 120.70,230.80 120.86,230.80 121.02,230.80 121.18,230.80 121.34,230.80 121.50,230.80 121.66,230.80 121.82,230.80 121.98,230.80 122.14,230.80 122.30,230.80" fill="none" stroke="#EE6C67" stroke-width="4.0" stroke-linejoin="round" stroke-linecap="butt"/>
<polyline points="42.30,335.60 42.46,332.11 42.62,328.61 42.78,325.12 42.94,311.15 43.10,297.17 43.26,283.20 43.42,269.23 43.58,255.25 43.74,241.28 43.90,238.49 44.06,235.69 44.22,232.90 44.38,232.55 44.54,232.20 44.70,231.85 44.86,231.50 45.02,231.15 45.18,230.80 45.34,230.80 45.50,230.80 45.66,230.80 45.82,230.80 45.98,230.80 46.14,230.80 46.30,230.80 46.46,230.80 46.62,230.80 46.78,230.80 46.94,230.80 47.10,230.80 47.26,230.80 47.42,230.80 47.58,230.80 47.74,230.80 47.90,230.80 48.06,230.80 48.22,230.80 48.38,230.80 48.54,230.80 48.70,230.80 48.86,230.80 49.02,230.80 49.18,230.80 49.34,230.80 49.50,230.80 49.66,230.80 49.82,230.80 49.98,230.80 50.14,230.80 50.30,230.80 50.46,230.80 50.62,230.80 50.78,230.80 50.94,230.80 51.10,230.80 51.26,230.80 51.42,230.80 51.58,230.80 51.74,230.80 51.90,230.80 52.06,230.80 52.22,230.80 52.38,230.80 52.54,230.80 52.70,230.80 52.86,230.80 53.02,230.80 53.18,230.80 53.34,230.80 53.50,230.80 53.66,230.80 53.82,230.80 53.98,230.80 54.14,230.80 54.30,230.80 54.46,230.80 54.62,230.80 54.78,230.80 54.94,230.80 55.10,230.80 55.26,230.80 55.42,230.80 55.58,230.80 55.74,230.80 55.90,230.80 56.06,230.80 56.22,230.80 56.38,230.80 56.54,230.80 56.70,230.80 56.86,230.80 57.02,230.80 57.18,230.80 57.34,230.80 57.50,230.80 57.66,230.80 57.82,230.80 57.98,230.80 58.14,230.80 58.30,230.80 58.46,230.80 58.62,230.80 58.78,230.80 58.94,230.80 59.10,230.80 59.26,230.80 59.42,230.80 59.58,230.80 59.74,230.80 59.90,230.80 60.06,230.80 60.22,230.80 60.38,230.80 60.54,230.80 60.70,230.80 60.86,230.80 61.02,230.80 61.18,230.80 61.34,230.80 61.50,230.80 61.66,230.80 61.82,230.80 61.98,230.80 62.14,230.80 62.30,230.80 62.46,230.80 62.62,230.80 62.78,230.80 62.94,230.80 63.10,230.80 63.26,230.80 63.42,230.80 63.58,230.80 63.74,230.80 63.90,230.80 64.06,230.80 64.22,230.80 64.38,230.80 64.54,230.80 64.70,230.80 64.86,230.80 65.02,230.80 65.18,230.80 65.34,230.80 65.50,230.80 65.66,230.80 65.82,230.80 65.98,230.80 66.14,230.80 66.30,230.80 66.46,230.80 66.62,230.80 66.78,230.80 66.94,230.80 67.10,230.80 67.26,230.80 67.42,230.80 67.58,230.80 67.74,230.80 67.90,230.80 68.06,230.80 68.22,230.80 68.38,230.80 68.54,230.80 68.70,230.80 68.86,230.80 69.02,230.80 69.18,230.80 69.34,230.80 69.50,230.80 69.66,230.80 69.82,230.80 69.98,230.80 70.14,230.80 70.30,230.80 70.46,230.80 70.62,230.80 70.78,230.80 70.94,230.80 71.10,230.80 71.26,230.80 71.42,230.80 71.58,230.80 71.74,230.80 71.90,230.80 72.06,230.80 72.22,230.80 72.38,230.80 72.54,230.80 72.70,230.80 72.86,230.80 73.02,230.80 73.18,230.80 73.34,230.80 73.50,230.80 73.66,230.80 73.82,230.80 73.98,230.80 74.14,230.80 74.30,230.80 74.46,230.80 74.62,230.80 74.78,230.80 74.94,230.80 75.10,230.80 75.26,230.80 75.42,230.80 75.58,230.80 75.74,230.80 75.90,230.80 76.06,230.80 76.22,230.80 76.38,230.80 76.54,230.80 76.70,230.80 76.86,230.80 77.02,230.80 77.18,230.80 77.34,230.80 77.50,230.80 77.66,230.80 77.82,230.80 77.98,230.80 78.14,230.80 78.30,230.80 78.46,230.80 78.62,230.80 78.78,230.80 78.94,230.80 79.10,230.80 79.26,230.80 79.42,230.80 79.58,230.80 79.74,230.80 79.90,230.80 80.06,230.80 80.22,230.80 80.38,230.80 80.54,230.80 80.70,230.80 80.86,230.80 81.02,230.80 81.18,230.80 81.34,230.80 81.50,230.80 81.66,230.80 81.82,230.80 81.98,230.80 82.14,230.80 82.30,230.80 82.46,230.80 82.62,230.80 82.78,230.80 82.94,230.80 83.10,230.80 83.26,230.80 83.42,230.80 83.58,230.80 83.74,230.80 83.90,230.80 84.06,230.80 84.22,230.80 84.38,230.80 84.54,230.80 84.70,230.80 84.86,230.80 85.02,230.80 85.18,230.80 85.34,230.80 85.50,230.80 85.66,230.80 85.82,230.80 85.98,230.80 86.14,230.80 86.30,230.80 86.46,230.80 86.62,230.80 86.78,230.80 86.94,230.80 87.10,230.80 87.26,230.80 87.42,230.80 87.58,230.80 87.74,230.80 87.90,230.80 88.06,230.80 88.22,230.80 88.38,230.80 88.54,230.80 88.70,230.80 88.86,230.80 89.02,230.80 89.18,230.80 89.34,230.80 89.50,230.80 89.66,230.80 89.82,230.80 89.98,230.80 90.14,230.80 90.30,230.80 90.46,230.80 90.62,230.80 90.78,230.80 90.94,230.80 91.10,230.80 91.26,230.80 91.42,230.80 91.58,230.80 91.74,230.80 91.90,230.80 92.06,230.80 92.22,230.80 92.38,230.80 92.54,230.80 92.70,230.80 92.86,230.80 93.02,230.80 93.18,230.80 93.34,230.80 93.50,230.80 93.66,230.80 93.82,230.80 93.98,230.80 94.14,230.80 94.30,230.80 94.46,230.80 94.62,230.80 94.78,230.80 94.94,230.80 95.10,230.80 95.26,230.80 95.42,230.80 95.58,230.80 95.74,230.80 95.90,230.80 96.06,230.80 96.22,230.80 96.38,230.80 96.54,230.80 96.70,230.80 96.86,230.80 97.02,230.80 97.18,230.80 97.34,230.80 97.50,230.80 97.66,230.80 97.82,230.80 97.98,230.80 98.14,230.80 98.30,230.80 98.46,230.80 98.62,230.80 98.78,230.80 98.94,230.80 99.10,230.80 99.26,230.80 99.42,230.80 99.58,230.80 99.74,230.80 99.90,230.80 100.06,230.80 100.22,230.80 100.38,230.80 100.54,230.80 100.70,230.80 100.86,230.80 101.02,230.80 101.18,230.80 101.34,230.80 101.50,230.80 101.66,230.80 101.82,230.80 101.98,230.80 102.14,230.80 102.30,230.80 102.46,230.80 102.62,230.80 102.78,230.80 102.94,230.80 103.10,230.80 103.26,230.80 103.42,230.80 103.58,230.80 103.74,230.80 103.90,230.80 104.06,230.80 104.22,230.80 104.38,230.80 104.54,230.80 104.70,230.80 104.86,230.80 105.02,230.80 105.18,230.80 105.34,230.80 105.50,230.80 105.66,230.80 105.82,230.80 105.98,230.80 106.14,230.80 106.30,230.80 106.46,230.80 106.62,230.80 106.78,230.80 106.94,230.80 107.10,230.80 107.26,230.80 107.42,230.80 107.58,230.80 107.74,230.80 107.90,230.80 108.06,230.80 108.22,230.80 108.38,230.80 108.54,230.80 108.70,230.80 108.86,230.80 109.02,230.80 109.18,230.80 109.34,230.80 109.50,230.80 109.66,230.80 109.82,230.80 109.98,230.80 110.14,230.80 110.30,230.80 110.46,230.80 110.62,230.80 110.78,230.80 110.94,230.80 111.10,230.80 111.26,230.80 111.42,230.80 111.58,230.80 111.74,230.80 111.90,230.80 112.06,230.80 112.22,230.80 112.38,230.80 112.54,230.80 112.70,230.80 112.86,230.80 113.02,230.80 113.18,230.80 113.34,230.80 113.50,230.80 113.66,230.80 113.82,230.80 113.98,230.80 114.14,230.80 114.30,230.80 114.46,230.80 114.62,230.80 114.78,230.80 114.94,230.80 115.10,230.80 115.26,230.80 115.42,230.80 115.58,230.80 115.74,230.80 115.90,230.80 116.06,230.80 116.22,230.80 116.38,230.80 116.54,230.80 116.70,230.80 116.86,230.80 117.02,230.80 117.18,230.80 117.34,230.80 117.50,230.80 117.66,230.80 117.82,230.80 117.98,230.80 118.14,230.80 118.30,230.80 118.46,230.80 118.62,230.80 118.78,230.80 118.94,230.80 119.10,230.80 119.26,230.80 119.42,230.80 119.58,230.80 119.74,230.80 119.90,230.80 120.06,230.80 120.22,230.80 120.38,230.80 120.54,230.80 120.70,230.80 120.86,230.80 121.02,230.80 121.18,230.80 121.34,230.80 121.50,230.80 121.66,230.80 121.82,230.80 121.98,230.80 122.14,230.80 122.30,230.80" fill="none" stroke="#47D63E" stroke-width="4.0" stroke-linejoin="round" stroke-linecap="butt"/>
<polyline points="42.30,321.87 42.46,307.78 42.62,293.68 42.78,272.72 42.94,251.76 43.10,242.85 43.26,233.94 43.42,232.90 43.58,231.85 43.74,230.80 43.90,230.80 44.06,230.80 44.22,230.80 44.38,230.80 44.54,230.80 44.70,230.80 44.86,230.80 45.02,230.80 45.18,230.80 45.34,230.80 45.50,230.80 45.66,230.80 45.82,230.80 45.98,230.80 46.14,230.80 46.30,230.80 46.46,230.80 46.62,230.80 46.78,230.80 46.94,230.80 47.10,230.80 47.26,230.80 47.42,230.80 47.58,230.80 47.74,230.80 47.90,230.80 48.06,230.80 48.22,230.80 48.38,230.80 48.54,230.80 48.70,230.80 48.86,230.80 49.02,230.80 49.18,230.80 49.34,230.80 49.50,230.80 49.66,230.80 49.82,230.80 49.98,230.80 50.14,230.80 50.30,230.80 50.46,230.80 50.62,230.80 50.78,230.80 50.94,230.80 51.10,230.80 51.26,230.80 51.42,230.80 51.58,230.80 51.74,230.80 51.90,230.80 52.06,230.80 52.22,230.80 52.38,230.80 52.54,230.80 52.70,230.80 52.86,230.80 53.02,230.80 53.18,230.80 53.34,230.80 53.50,230.80 53.66,230.80 53.82,230.80 53.98,230.80 54.14,230.80 54.30,230.80 54.46,230.80 54.62,230.80 54.78,230.80 54.94,230.80 55.10,230.80 55.26,230.80 55.42,230.80 55.58,230.80 55.74,230.80 55.90,230.80 56.06,230.80 56.22,230.80 56.38,230.80 56.54,230.80 56.70,230.80 56.86,230.80 57.02,230.80 57.18,230.80 57.34,230.80 57.50,230.80 57.66,230.80 57.82,230.80 57.98,230.80 58.14,230.80 58.30,230.80 58.46,230.80 58.62,230.80 58.78,230.80 58.94,230.80 59.10,230.80 59.26,230.80 59.42,230.80 59.58,230.80 59.74,230.80 59.90,230.80 60.06,230.80 60.22,230.80 60.38,230.80 60.54,230.80 60.70,230.80 60.86,230.80 61.02,230.80 61.18,230.80 61.34,230.80 61.50,230.80 61.66,230.80 61.82,230.80 61.98,230.80 62.14,230.80 62.30,230.80 62.46,230.80 62.62,230.80 62.78,230.80 62.94,230.80 63.10,230.80 63.26,230.80 63.42,230.80 63.58,230.80 63.74,230.80 63.90,230.80 64.06,230.80 64.22,230.80 64.38,230.80 64.54,230.80 64.70,230.80 64.86,230.80 65.02,230.80 65.18,230.80 65.34,230.80 65.50,230.80 65.66,230.80 65.82,230.80 65.98,230.80 66.14,230.80 66.30,230.80 66.46,230.80 66.62,230.80 66.78,230.80 66.94,230.80 67.10,230.80 67.26,230.80 67.42,230.80 67.58,230.80 67.74,230.80 67.90,230.80 68.06,230.80 68.22,230.80 68.38,230.80 68.54,230.80 68.70,230.80 68.86,230.80 69.02,230.80 69.18,230.80 69.34,230.80 69.50,230.80 69.66,230.80 69.82,230.80 69.98,230.80 70.14,230.80 70.30,230.80 70.46,230.80 70.62,230.80 70.78,230.80 70.94,230.80 71.10,230.80 71.26,230.80 71.42,230.80 71.58,230.80 71.74,230.80 71.90,230.80 72.06,230.80 72.22,230.80 72.38,230.80 72.54,230.80 72.70,230.80 72.86,230.80 73.02,230.80 73.18,230.80 73.34,230.80 73.50,230.80 73.66,230.80 73.82,230.80 73.98,230.80 74.14,230.80 74.30,230.80 74.46,230.80 74.62,230.80 74.78,230.80 74.94,230.80 75.10,230.80 75.26,230.80 75.42,230.80 75.58,230.80 75.74,230.80 75.90,230.80 76.06,230.80 76.22,230.80 76.38,230.80 76.54,230.80 76.70,230.80 76.86,230.80 77.02,230.80 77.18,230.80 77.34,230.80 77.50,230.80 77.66,230.80 77.82,230.80 77.98,230.80 78.14,230.80 78.30,230.80 78.46,230.80 78.62,230.80 78.78,230.80 78.94,230.80 79.10,230.80 79.26,230.80 79.42,230.80 79.58,230.80 79.74,230.80 79.90,230.80 80.06,230.80 80.22,230.80 80.38,230.80 80.54,230.80 80.70,230.80 80.86,230.80 81.02,230.80 81.18,230.80 81.34,230.80 81.50,230.80 81.66,230.80 81.82,230.80 81.98,230.80 82.14,230.80 82.30,230.80 82.46,230.80 82.62,230.80 82.78,230.80 82.94,230.80 83.10,230.80 83.26,230.80 83.42,230.80 83.58,230.80 83.74,230.80 83.90,230.80 84.06,230.80 84.22,230.80 84.38,230.80 84.54,230.80 84.70,230.80 84.86,230.80 85.02,230.80 85.18,230.80 85.34,230.80 85.50,230.80 85.66,230.80 85.82,230.80 85.98,230.80 86.14,230.80 86.30,230.80 86.46,230.80 86.62,230.80 86.78,230.80 86.94,230.80 87.10,230.80 87.26,230.80 87.42,230.80 87.58,230.80 87.74,230.80 87.90,230.80 88.06,230.80 88.22,230.80 88.38,230.80 88.54,230.80 88.70,230.80 88.86,230.80 89.02,230.80 89.18,230.80 89.34,230.80 89.50,230.80 89.66,230.80 89.82,230.80 89.98,230.80 90.14,230.80 90.30,230.80 90.46,230.80 90.62,230.80 90.78,230.80 90.94,230.80 91.10,230.80 91.26,230.80 91.42,230.80 91.58,230.80 91.74,230.80 91.90,230.80 92.06,230.80 92.22,230.80 92.38,230.80 92.54,230.80 92.70,230.80 92.86,230.80 93.02,230.80 93.18,230.80 93.34,230.80 93.50,230.80 93.66,230.80 93.82,230.80 93.98,230.80 94.14,230.80 94.30,230.80 94.46,230.80 94.62,230.80 94.78,230.80 94.94,230.80 95.10,230.80 95.26,230.80 95.42,230.80 95.58,230.80 95.74,230.80 95.90,230.80 96.06,230.80 96.22,230.80 96.38,230.80 96.54,230.80 96.70,230.80 96.86,230.80 97.02,230.80 97.18,230.80 97.34,230.80 97.50,230.80 97.66,230.80 97.82,230.80 97.98,230.80 98.14,230.80 98.30,230.80 98.46,230.80 98.62,230.80 98.78,230.80 98.94,230.80 99.10,230.80 99.26,230.80 99.42,230.80 99.58,230.80 99.74,230.80 99.90,230.80 100.06,230.80 100.22,230.80 100.38,230.80 100.54,230.80 100.70,230.80 100.86,230.80 101.02,230.80 101.18,230.80 101.34,230.80 101.50,230.80 101.66,230.80 101.82,230.80 101.98,230.80 102.14,230.80 102.30,230.80 102.46,230.80 102.62,230.80 102.78,230.80 102.94,230.80 103.10,230.80 103.26,230.80 103.42,230.80 103.58,230.80 103.74,230.80 103.90,230.80 104.06,230.80 104.22,230.80 104.38,230.80 104.54,230.80 104.70,230.80 104.86,230.80 105.02,230.80 105.18,230.80 105.34,230.80 105.50,230.80 105.66,230.80 105.82,230.80 105.98,230.80 106.14,230.80 106.30,230.80 106.46,230.80 106.62,230.80 106.78,230.80 106.94,230.80 107.10,230.80 107.26,230.80 107.42,230.80 107.58,230.80 107.74,230.80 107.90,230.80 108.06,230.80 108.22,230.80 108.38,230.80 108.54,230.80 108.70,230.80 108.86,230.80 109.02,230.80 109.18,230.80 109.34,230.80 109.50,230.80 109.66,230.80 109.82,230.80 109.98,230.80 110.14,230.80 110.30,230.80 110.46,230.80 110.62,230.80 110.78,230.80 110.94,230.80 111.10,230.80 111.26,230.80 111.42,230.80 111.58,230.80 111.74,230.80 111.90,230.80 112.06,230.80 112.22,230.80 112.38,230.80 112.54,230.80 112.70,230.80 112.86,230.80 113.02,230.80 113.18,230.80 113.34,230.80 113.50,230.80 113.66,230.80 113.82,230.80 113.98,230.80 114.14,230.80 114.30,230.80 114.46,230.80 114.62,230.80 114.78,230.80 114.94,230.80 115.10,230.80 115.26,230.80 115.42,230.80 115.58,230.80 115.74,230.80 115.90,230.80 116.06,230.80 116.22,230.80 116.38,230.80 116.54,230.80 116.70,230.80 116.86,230.80 117.02,230.80 117.18,230.80 117.34,230.80 117.50,230.80 117.66,230.80 117.82,230.80 117.98,230.80 118.14,230.80 118.30,230.80 118.46,230.80 118.62,230.80 118.78,230.80 118.94,230.80 119.10,230.80 119.26,230.80 119.42,230.80 119.58,230.80 119.74,230.80 119.90,230.80 120.06,230.80 120.22,230.80 120.38,230.80 120.54,230.80 120.70,230.80 120.86,230.80 121.02,230.80 121.18,230.80 121.34,230.80 121.50,230.80 121.66,230.80 121.82,230.80 121.98,230.80 122.14,230.80 122.30,230.80" fill="none" stroke="#6EA2FF" stroke-width="4.0" stroke-linejoin="round" stroke-linecap="butt"/>
<path d="M38.40,225.40V340.60H126.40" fill="none" stroke="#333" stroke-width="0.7"/>
<path d="M37.40,335.60H38.40" stroke="#333" stroke-width="0.6"/>
<text x="37.10" y="338.90" font-size="8.1" fill="#4d4d4d" color="#4d4d4d" text-anchor="end" style="stroke-width:0.12px">0.00</text>
<path d="M37.40,309.40H38.40" stroke="#333" stroke-width="0.6"/>
<text x="37.10" y="312.70" font-size="8.1" fill="#4d4d4d" color="#4d4d4d" text-anchor="end" style="stroke-width:0.12px">0.25</text>
<path d="M37.40,283.20H38.40" stroke="#333" stroke-width="0.6"/>
<text x="37.10" y="286.50" font-size="8.1" fill="#4d4d4d" color="#4d4d4d" text-anchor="end" style="stroke-width:0.12px">0.50</text>
<path d="M37.40,257.00H38.40" stroke="#333" stroke-width="0.6"/>
<text x="37.10" y="260.30" font-size="8.1" fill="#4d4d4d" color="#4d4d4d" text-anchor="end" style="stroke-width:0.12px">0.75</text>
<path d="M37.40,230.80H38.40" stroke="#333" stroke-width="0.6"/>
<text x="37.10" y="234.10" font-size="8.1" fill="#4d4d4d" color="#4d4d4d" text-anchor="end" style="stroke-width:0.12px">1.00</text>
<path d="M42.30,340.60V341.60" stroke="#333" stroke-width="0.6"/>
<text x="42.75" y="347.20" font-size="6.3" fill="#4d4d4d" color="#4d4d4d" text-anchor="middle" style="stroke-width:0.12px">0</text>
<path d="M58.30,340.60V341.60" stroke="#333" stroke-width="0.6"/>
<text x="58.75" y="347.20" font-size="6.3" fill="#4d4d4d" color="#4d4d4d" text-anchor="middle" style="stroke-width:0.12px">100</text>
<path d="M74.30,340.60V341.60" stroke="#333" stroke-width="0.6"/>
<text x="74.75" y="347.20" font-size="6.3" fill="#4d4d4d" color="#4d4d4d" text-anchor="middle" style="stroke-width:0.12px">200</text>
<path d="M90.30,340.60V341.60" stroke="#333" stroke-width="0.6"/>
<text x="90.75" y="347.20" font-size="6.3" fill="#4d4d4d" color="#4d4d4d" text-anchor="middle" style="stroke-width:0.12px">300</text>
<path d="M106.30,340.60V341.60" stroke="#333" stroke-width="0.6"/>
<text x="106.75" y="347.20" font-size="6.3" fill="#4d4d4d" color="#4d4d4d" text-anchor="middle" style="stroke-width:0.12px">400</text>
<path d="M122.30,340.60V341.60" stroke="#333" stroke-width="0.6"/>
<text x="122.75" y="347.20" font-size="6.3" fill="#4d4d4d" color="#4d4d4d" text-anchor="middle" style="stroke-width:0.12px">500</text>
<rect x="145.40" y="213.50" width="87.80" height="11.90" fill="#fff" stroke="#7f7f7f" stroke-width="0.9"/>
<text x="189.40" y="222.35" font-size="7.05" fill="#1a1a1a" color="#1a1a1a" style="stroke-width:0.1px" text-anchor="middle">Pleiotropy on all traits</text>
<polyline points="149.30,335.08 149.46,334.42 149.62,333.77 149.78,333.11 149.94,332.46 150.10,331.15 150.26,329.84 150.42,328.53 150.58,327.22 150.74,324.77 150.90,322.33 151.06,319.88 151.22,312.02 151.38,304.16 151.54,294.73 151.70,285.30 151.86,279.36 152.02,273.42 152.18,267.48 152.34,263.29 152.50,259.10 152.66,254.90 152.82,252.18 152.98,249.45 153.14,246.73 153.30,244.00 153.46,241.28 153.62,240.63 153.78,239.97 153.94,239.32 154.10,238.66 154.26,238.01 154.42,237.35 154.58,236.70 154.74,236.04 154.90,235.82 155.06,235.59 155.22,235.37 155.38,235.14 155.54,234.92 155.70,234.69 155.86,234.47 156.02,234.24 156.18,234.02 156.34,233.79 156.50,233.57 156.66,233.35 156.82,233.12 156.98,232.90 157.14,232.83 157.30,232.77 157.46,232.71 157.62,232.65 157.78,232.59 157.94,232.53 158.10,232.46 158.26,232.40 158.42,232.34 158.58,232.28 158.74,232.22 158.90,232.16 159.06,232.09 159.22,232.03 159.38,231.97 159.54,231.91 159.70,231.85 159.86,231.80 160.02,231.74 160.18,231.69 160.34,231.64 160.50,231.59 160.66,231.53 160.82,231.48 160.98,231.43 161.14,231.38 161.30,231.32 161.46,231.27 161.62,231.22 161.78,231.17 161.94,231.11 162.10,231.06 162.26,231.01 162.42,230.96 162.58,230.90 162.74,230.85 162.90,230.80 163.06,230.80 163.22,230.80 163.38,230.80 163.54,230.80 163.70,230.80 163.86,230.80 164.02,230.80 164.18,230.80 164.34,230.80 164.50,230.80 164.66,230.80 164.82,230.80 164.98,230.80 165.14,230.80 165.30,230.80 165.46,230.80 165.62,230.80 165.78,230.80 165.94,230.80 166.10,230.80 166.26,230.80 166.42,230.80 166.58,230.80 166.74,230.80 166.90,230.80 167.06,230.80 167.22,230.80 167.38,230.80 167.54,230.80 167.70,230.80 167.86,230.80 168.02,230.80 168.18,230.80 168.34,230.80 168.50,230.80 168.66,230.80 168.82,230.80 168.98,230.80 169.14,230.80 169.30,230.80 169.46,230.80 169.62,230.80 169.78,230.80 169.94,230.80 170.10,230.80 170.26,230.80 170.42,230.80 170.58,230.80 170.74,230.80 170.90,230.80 171.06,230.80 171.22,230.80 171.38,230.80 171.54,230.80 171.70,230.80 171.86,230.80 172.02,230.80 172.18,230.80 172.34,230.80 172.50,230.80 172.66,230.80 172.82,230.80 172.98,230.80 173.14,230.80 173.30,230.80 173.46,230.80 173.62,230.80 173.78,230.80 173.94,230.80 174.10,230.80 174.26,230.80 174.42,230.80 174.58,230.80 174.74,230.80 174.90,230.80 175.06,230.80 175.22,230.80 175.38,230.80 175.54,230.80 175.70,230.80 175.86,230.80 176.02,230.80 176.18,230.80 176.34,230.80 176.50,230.80 176.66,230.80 176.82,230.80 176.98,230.80 177.14,230.80 177.30,230.80 177.46,230.80 177.62,230.80 177.78,230.80 177.94,230.80 178.10,230.80 178.26,230.80 178.42,230.80 178.58,230.80 178.74,230.80 178.90,230.80 179.06,230.80 179.22,230.80 179.38,230.80 179.54,230.80 179.70,230.80 179.86,230.80 180.02,230.80 180.18,230.80 180.34,230.80 180.50,230.80 180.66,230.80 180.82,230.80 180.98,230.80 181.14,230.80 181.30,230.80 181.46,230.80 181.62,230.80 181.78,230.80 181.94,230.80 182.10,230.80 182.26,230.80 182.42,230.80 182.58,230.80 182.74,230.80 182.90,230.80 183.06,230.80 183.22,230.80 183.38,230.80 183.54,230.80 183.70,230.80 183.86,230.80 184.02,230.80 184.18,230.80 184.34,230.80 184.50,230.80 184.66,230.80 184.82,230.80 184.98,230.80 185.14,230.80 185.30,230.80 185.46,230.80 185.62,230.80 185.78,230.80 185.94,230.80 186.10,230.80 186.26,230.80 186.42,230.80 186.58,230.80 186.74,230.80 186.90,230.80 187.06,230.80 187.22,230.80 187.38,230.80 187.54,230.80 187.70,230.80 187.86,230.80 188.02,230.80 188.18,230.80 188.34,230.80 188.50,230.80 188.66,230.80 188.82,230.80 188.98,230.80 189.14,230.80 189.30,230.80 189.46,230.80 189.62,230.80 189.78,230.80 189.94,230.80 190.10,230.80 190.26,230.80 190.42,230.80 190.58,230.80 190.74,230.80 190.90,230.80 191.06,230.80 191.22,230.80 191.38,230.80 191.54,230.80 191.70,230.80 191.86,230.80 192.02,230.80 192.18,230.80 192.34,230.80 192.50,230.80 192.66,230.80 192.82,230.80 192.98,230.80 193.14,230.80 193.30,230.80 193.46,230.80 193.62,230.80 193.78,230.80 193.94,230.80 194.10,230.80 194.26,230.80 194.42,230.80 194.58,230.80 194.74,230.80 194.90,230.80 195.06,230.80 195.22,230.80 195.38,230.80 195.54,230.80 195.70,230.80 195.86,230.80 196.02,230.80 196.18,230.80 196.34,230.80 196.50,230.80 196.66,230.80 196.82,230.80 196.98,230.80 197.14,230.80 197.30,230.80 197.46,230.80 197.62,230.80 197.78,230.80 197.94,230.80 198.10,230.80 198.26,230.80 198.42,230.80 198.58,230.80 198.74,230.80 198.90,230.80 199.06,230.80 199.22,230.80 199.38,230.80 199.54,230.80 199.70,230.80 199.86,230.80 200.02,230.80 200.18,230.80 200.34,230.80 200.50,230.80 200.66,230.80 200.82,230.80 200.98,230.80 201.14,230.80 201.30,230.80 201.46,230.80 201.62,230.80 201.78,230.80 201.94,230.80 202.10,230.80 202.26,230.80 202.42,230.80 202.58,230.80 202.74,230.80 202.90,230.80 203.06,230.80 203.22,230.80 203.38,230.80 203.54,230.80 203.70,230.80 203.86,230.80 204.02,230.80 204.18,230.80 204.34,230.80 204.50,230.80 204.66,230.80 204.82,230.80 204.98,230.80 205.14,230.80 205.30,230.80 205.46,230.80 205.62,230.80 205.78,230.80 205.94,230.80 206.10,230.80 206.26,230.80 206.42,230.80 206.58,230.80 206.74,230.80 206.90,230.80 207.06,230.80 207.22,230.80 207.38,230.80 207.54,230.80 207.70,230.80 207.86,230.80 208.02,230.80 208.18,230.80 208.34,230.80 208.50,230.80 208.66,230.80 208.82,230.80 208.98,230.80 209.14,230.80 209.30,230.80 209.46,230.80 209.62,230.80 209.78,230.80 209.94,230.80 210.10,230.80 210.26,230.80 210.42,230.80 210.58,230.80 210.74,230.80 210.90,230.80 211.06,230.80 211.22,230.80 211.38,230.80 211.54,230.80 211.70,230.80 211.86,230.80 212.02,230.80 212.18,230.80 212.34,230.80 212.50,230.80 212.66,230.80 212.82,230.80 212.98,230.80 213.14,230.80 213.30,230.80 213.46,230.80 213.62,230.80 213.78,230.80 213.94,230.80 214.10,230.80 214.26,230.80 214.42,230.80 214.58,230.80 214.74,230.80 214.90,230.80 215.06,230.80 215.22,230.80 215.38,230.80 215.54,230.80 215.70,230.80 215.86,230.80 216.02,230.80 216.18,230.80 216.34,230.80 216.50,230.80 216.66,230.80 216.82,230.80 216.98,230.80 217.14,230.80 217.30,230.80 217.46,230.80 217.62,230.80 217.78,230.80 217.94,230.80 218.10,230.80 218.26,230.80 218.42,230.80 218.58,230.80 218.74,230.80 218.90,230.80 219.06,230.80 219.22,230.80 219.38,230.80 219.54,230.80 219.70,230.80 219.86,230.80 220.02,230.80 220.18,230.80 220.34,230.80 220.50,230.80 220.66,230.80 220.82,230.80 220.98,230.80 221.14,230.80 221.30,230.80 221.46,230.80 221.62,230.80 221.78,230.80 221.94,230.80 222.10,230.80 222.26,230.80 222.42,230.80 222.58,230.80 222.74,230.80 222.90,230.80 223.06,230.80 223.22,230.80 223.38,230.80 223.54,230.80 223.70,230.80 223.86,230.80 224.02,230.80 224.18,230.80 224.34,230.80 224.50,230.80 224.66,230.80 224.82,230.80 224.98,230.80 225.14,230.80 225.30,230.80 225.46,230.80 225.62,230.80 225.78,230.80 225.94,230.80 226.10,230.80 226.26,230.80 226.42,230.80 226.58,230.80 226.74,230.80 226.90,230.80 227.06,230.80 227.22,230.80 227.38,230.80 227.54,230.80 227.70,230.80 227.86,230.80 228.02,230.80 228.18,230.80 228.34,230.80 228.50,230.80 228.66,230.80 228.82,230.80 228.98,230.80 229.14,230.80 229.30,230.80" fill="none" stroke="#EE6C67" stroke-width="4.0" stroke-linejoin="round" stroke-linecap="butt"/>
<polyline points="149.30,335.60 149.46,327.74 149.62,319.88 149.78,301.54 149.94,283.20 150.10,264.86 150.26,246.52 150.42,240.23 150.58,233.94 150.74,233.16 150.90,232.37 151.06,231.59 151.22,230.80 151.38,230.80 151.54,230.80 151.70,230.80 151.86,230.80 152.02,230.80 152.18,230.80 152.34,230.80 152.50,230.80 152.66,230.80 152.82,230.80 152.98,230.80 153.14,230.80 153.30,230.80 153.46,230.80 153.62,230.80 153.78,230.80 153.94,230.80 154.10,230.80 154.26,230.80 154.42,230.80 154.58,230.80 154.74,230.80 154.90,230.80 155.06,230.80 155.22,230.80 155.38,230.80 155.54,230.80 155.70,230.80 155.86,230.80 156.02,230.80 156.18,230.80 156.34,230.80 156.50,230.80 156.66,230.80 156.82,230.80 156.98,230.80 157.14,230.80 157.30,230.80 157.46,230.80 157.62,230.80 157.78,230.80 157.94,230.80 158.10,230.80 158.26,230.80 158.42,230.80 158.58,230.80 158.74,230.80 158.90,230.80 159.06,230.80 159.22,230.80 159.38,230.80 159.54,230.80 159.70,230.80 159.86,230.80 160.02,230.80 160.18,230.80 160.34,230.80 160.50,230.80 160.66,230.80 160.82,230.80 160.98,230.80 161.14,230.80 161.30,230.80 161.46,230.80 161.62,230.80 161.78,230.80 161.94,230.80 162.10,230.80 162.26,230.80 162.42,230.80 162.58,230.80 162.74,230.80 162.90,230.80 163.06,230.80 163.22,230.80 163.38,230.80 163.54,230.80 163.70,230.80 163.86,230.80 164.02,230.80 164.18,230.80 164.34,230.80 164.50,230.80 164.66,230.80 164.82,230.80 164.98,230.80 165.14,230.80 165.30,230.80 165.46,230.80 165.62,230.80 165.78,230.80 165.94,230.80 166.10,230.80 166.26,230.80 166.42,230.80 166.58,230.80 166.74,230.80 166.90,230.80 167.06,230.80 167.22,230.80 167.38,230.80 167.54,230.80 167.70,230.80 167.86,230.80 168.02,230.80 168.18,230.80 168.34,230.80 168.50,230.80 168.66,230.80 168.82,230.80 168.98,230.80 169.14,230.80 169.30,230.80 169.46,230.80 169.62,230.80 169.78,230.80 169.94,230.80 170.10,230.80 170.26,230.80 170.42,230.80 170.58,230.80 170.74,230.80 170.90,230.80 171.06,230.80 171.22,230.80 171.38,230.80 171.54,230.80 171.70,230.80 171.86,230.80 172.02,230.80 172.18,230.80 172.34,230.80 172.50,230.80 172.66,230.80 172.82,230.80 172.98,230.80 173.14,230.80 173.30,230.80 173.46,230.80 173.62,230.80 173.78,230.80 173.94,230.80 174.10,230.80 174.26,230.80 174.42,230.80 174.58,230.80 174.74,230.80 174.90,230.80 175.06,230.80 175.22,230.80 175.38,230.80 175.54,230.80 175.70,230.80 175.86,230.80 176.02,230.80 176.18,230.80 176.34,230.80 176.50,230.80 176.66,230.80 176.82,230.80 176.98,230.80 177.14,230.80 177.30,230.80 177.46,230.80 177.62,230.80 177.78,230.80 177.94,230.80 178.10,230.80 178.26,230.80 178.42,230.80 178.58,230.80 178.74,230.80 178.90,230.80 179.06,230.80 179.22,230.80 179.38,230.80 179.54,230.80 179.70,230.80 179.86,230.80 180.02,230.80 180.18,230.80 180.34,230.80 180.50,230.80 180.66,230.80 180.82,230.80 180.98,230.80 181.14,230.80 181.30,230.80 181.46,230.80 181.62,230.80 181.78,230.80 181.94,230.80 182.10,230.80 182.26,230.80 182.42,230.80 182.58,230.80 182.74,230.80 182.90,230.80 183.06,230.80 183.22,230.80 183.38,230.80 183.54,230.80 183.70,230.80 183.86,230.80 184.02,230.80 184.18,230.80 184.34,230.80 184.50,230.80 184.66,230.80 184.82,230.80 184.98,230.80 185.14,230.80 185.30,230.80 185.46,230.80 185.62,230.80 185.78,230.80 185.94,230.80 186.10,230.80 186.26,230.80 186.42,230.80 186.58,230.80 186.74,230.80 186.90,230.80 187.06,230.80 187.22,230.80 187.38,230.80 187.54,230.80 187.70,230.80 187.86,230.80 188.02,230.80 188.18,230.80 188.34,230.80 188.50,230.80 188.66,230.80 188.82,230.80 188.98,230.80 189.14,230.80 189.30,230.80 189.46,230.80 189.62,230.80 189.78,230.80 189.94,230.80 190.10,230.80 190.26,230.80 190.42,230.80 190.58,230.80 190.74,230.80 190.90,230.80 191.06,230.80 191.22,230.80 191.38,230.80 191.54,230.80 191.70,230.80 191.86,230.80 192.02,230.80 192.18,230.80 192.34,230.80 192.50,230.80 192.66,230.80 192.82,230.80 192.98,230.80 193.14,230.80 193.30,230.80 193.46,230.80 193.62,230.80 193.78,230.80 193.94,230.80 194.10,230.80 194.26,230.80 194.42,230.80 194.58,230.80 194.74,230.80 194.90,230.80 195.06,230.80 195.22,230.80 195.38,230.80 195.54,230.80 195.70,230.80 195.86,230.80 196.02,230.80 196.18,230.80 196.34,230.80 196.50,230.80 196.66,230.80 196.82,230.80 196.98,230.80 197.14,230.80 197.30,230.80 197.46,230.80 197.62,230.80 197.78,230.80 197.94,230.80 198.10,230.80 198.26,230.80 198.42,230.80 198.58,230.80 198.74,230.80 198.90,230.80 199.06,230.80 199.22,230.80 199.38,230.80 199.54,230.80 199.70,230.80 199.86,230.80 200.02,230.80 200.18,230.80 200.34,230.80 200.50,230.80 200.66,230.80 200.82,230.80 200.98,230.80 201.14,230.80 201.30,230.80 201.46,230.80 201.62,230.80 201.78,230.80 201.94,230.80 202.10,230.80 202.26,230.80 202.42,230.80 202.58,230.80 202.74,230.80 202.90,230.80 203.06,230.80 203.22,230.80 203.38,230.80 203.54,230.80 203.70,230.80 203.86,230.80 204.02,230.80 204.18,230.80 204.34,230.80 204.50,230.80 204.66,230.80 204.82,230.80 204.98,230.80 205.14,230.80 205.30,230.80 205.46,230.80 205.62,230.80 205.78,230.80 205.94,230.80 206.10,230.80 206.26,230.80 206.42,230.80 206.58,230.80 206.74,230.80 206.90,230.80 207.06,230.80 207.22,230.80 207.38,230.80 207.54,230.80 207.70,230.80 207.86,230.80 208.02,230.80 208.18,230.80 208.34,230.80 208.50,230.80 208.66,230.80 208.82,230.80 208.98,230.80 209.14,230.80 209.30,230.80 209.46,230.80 209.62,230.80 209.78,230.80 209.94,230.80 210.10,230.80 210.26,230.80 210.42,230.80 210.58,230.80 210.74,230.80 210.90,230.80 211.06,230.80 211.22,230.80 211.38,230.80 211.54,230.80 211.70,230.80 211.86,230.80 212.02,230.80 212.18,230.80 212.34,230.80 212.50,230.80 212.66,230.80 212.82,230.80 212.98,230.80 213.14,230.80 213.30,230.80 213.46,230.80 213.62,230.80 213.78,230.80 213.94,230.80 214.10,230.80 214.26,230.80 214.42,230.80 214.58,230.80 214.74,230.80 214.90,230.80 215.06,230.80 215.22,230.80 215.38,230.80 215.54,230.80 215.70,230.80 215.86,230.80 216.02,230.80 216.18,230.80 216.34,230.80 216.50,230.80 216.66,230.80 216.82,230.80 216.98,230.80 217.14,230.80 217.30,230.80 217.46,230.80 217.62,230.80 217.78,230.80 217.94,230.80 218.10,230.80 218.26,230.80 218.42,230.80 218.58,230.80 218.74,230.80 218.90,230.80 219.06,230.80 219.22,230.80 219.38,230.80 219.54,230.80 219.70,230.80 219.86,230.80 220.02,230.80 220.18,230.80 220.34,230.80 220.50,230.80 220.66,230.80 220.82,230.80 220.98,230.80 221.14,230.80 221.30,230.80 221.46,230.80 221.62,230.80 221.78,230.80 221.94,230.80 222.10,230.80 222.26,230.80 222.42,230.80 222.58,230.80 222.74,230.80 222.90,230.80 223.06,230.80 223.22,230.80 223.38,230.80 223.54,230.80 223.70,230.80 223.86,230.80 224.02,230.80 224.18,230.80 224.34,230.80 224.50,230.80 224.66,230.80 224.82,230.80 224.98,230.80 225.14,230.80 225.30,230.80 225.46,230.80 225.62,230.80 225.78,230.80 225.94,230.80 226.10,230.80 226.26,230.80 226.42,230.80 226.58,230.80 226.74,230.80 226.90,230.80 227.06,230.80 227.22,230.80 227.38,230.80 227.54,230.80 227.70,230.80 227.86,230.80 228.02,230.80 228.18,230.80 228.34,230.80 228.50,230.80 228.66,230.80 228.82,230.80 228.98,230.80 229.14,230.80 229.30,230.80" fill="none" stroke="#47D63E" stroke-width="4.0" stroke-linejoin="round" stroke-linecap="butt"/>
<polyline points="149.30,330.78 149.46,298.92 149.62,257.00 149.78,236.04 149.94,233.42 150.10,230.80 150.26,230.80 150.42,230.80 150.58,230.80 150.74,230.80 150.90,230.80 151.06,230.80 151.22,230.80 151.38,230.80 151.54,230.80 151.70,230.80 151.86,230.80 152.02,230.80 152.18,230.80 152.34,230.80 152.50,230.80 152.66,230.80 152.82,230.80 152.98,230.80 153.14,230.80 153.30,230.80 153.46,230.80 153.62,230.80 153.78,230.80 153.94,230.80 154.10,230.80 154.26,230.80 154.42,230.80 154.58,230.80 154.74,230.80 154.90,230.80 155.06,230.80 155.22,230.80 155.38,230.80 155.54,230.80 155.70,230.80 155.86,230.80 156.02,230.80 156.18,230.80 156.34,230.80 156.50,230.80 156.66,230.80 156.82,230.80 156.98,230.80 157.14,230.80 157.30,230.80 157.46,230.80 157.62,230.80 157.78,230.80 157.94,230.80 158.10,230.80 158.26,230.80 158.42,230.80 158.58,230.80 158.74,230.80 158.90,230.80 159.06,230.80 159.22,230.80 159.38,230.80 159.54,230.80 159.70,230.80 159.86,230.80 160.02,230.80 160.18,230.80 160.34,230.80 160.50,230.80 160.66,230.80 160.82,230.80 160.98,230.80 161.14,230.80 161.30,230.80 161.46,230.80 161.62,230.80 161.78,230.80 161.94,230.80 162.10,230.80 162.26,230.80 162.42,230.80 162.58,230.80 162.74,230.80 162.90,230.80 163.06,230.80 163.22,230.80 163.38,230.80 163.54,230.80 163.70,230.80 163.86,230.80 164.02,230.80 164.18,230.80 164.34,230.80 164.50,230.80 164.66,230.80 164.82,230.80 164.98,230.80 165.14,230.80 165.30,230.80 165.46,230.80 165.62,230.80 165.78,230.80 165.94,230.80 166.10,230.80 166.26,230.80 166.42,230.80 166.58,230.80 166.74,230.80 166.90,230.80 167.06,230.80 167.22,230.80 167.38,230.80 167.54,230.80 167.70,230.80 167.86,230.80 168.02,230.80 168.18,230.80 168.34,230.80 168.50,230.80 168.66,230.80 168.82,230.80 168.98,230.80 169.14,230.80 169.30,230.80 169.46,230.80 169.62,230.80 169.78,230.80 169.94,230.80 170.10,230.80 170.26,230.80 170.42,230.80 170.58,230.80 170.74,230.80 170.90,230.80 171.06,230.80 171.22,230.80 171.38,230.80 171.54,230.80 171.70,230.80 171.86,230.80 172.02,230.80 172.18,230.80 172.34,230.80 172.50,230.80 172.66,230.80 172.82,230.80 172.98,230.80 173.14,230.80 173.30,230.80 173.46,230.80 173.62,230.80 173.78,230.80 173.94,230.80 174.10,230.80 174.26,230.80 174.42,230.80 174.58,230.80 174.74,230.80 174.90,230.80 175.06,230.80 175.22,230.80 175.38,230.80 175.54,230.80 175.70,230.80 175.86,230.80 176.02,230.80 176.18,230.80 176.34,230.80 176.50,230.80 176.66,230.80 176.82,230.80 176.98,230.80 177.14,230.80 177.30,230.80 177.46,230.80 177.62,230.80 177.78,230.80 177.94,230.80 178.10,230.80 178.26,230.80 178.42,230.80 178.58,230.80 178.74,230.80 178.90,230.80 179.06,230.80 179.22,230.80 179.38,230.80 179.54,230.80 179.70,230.80 179.86,230.80 180.02,230.80 180.18,230.80 180.34,230.80 180.50,230.80 180.66,230.80 180.82,230.80 180.98,230.80 181.14,230.80 181.30,230.80 181.46,230.80 181.62,230.80 181.78,230.80 181.94,230.80 182.10,230.80 182.26,230.80 182.42,230.80 182.58,230.80 182.74,230.80 182.90,230.80 183.06,230.80 183.22,230.80 183.38,230.80 183.54,230.80 183.70,230.80 183.86,230.80 184.02,230.80 184.18,230.80 184.34,230.80 184.50,230.80 184.66,230.80 184.82,230.80 184.98,230.80 185.14,230.80 185.30,230.80 185.46,230.80 185.62,230.80 185.78,230.80 185.94,230.80 186.10,230.80 186.26,230.80 186.42,230.80 186.58,230.80 186.74,230.80 186.90,230.80 187.06,230.80 187.22,230.80 187.38,230.80 187.54,230.80 187.70,230.80 187.86,230.80 188.02,230.80 188.18,230.80 188.34,230.80 188.50,230.80 188.66,230.80 188.82,230.80 188.98,230.80 189.14,230.80 189.30,230.80 189.46,230.80 189.62,230.80 189.78,230.80 189.94,230.80 190.10,230.80 190.26,230.80 190.42,230.80 190.58,230.80 190.74,230.80 190.90,230.80 191.06,230.80 191.22,230.80 191.38,230.80 191.54,230.80 191.70,230.80 191.86,230.80 192.02,230.80 192.18,230.80 192.34,230.80 192.50,230.80 192.66,230.80 192.82,230.80 192.98,230.80 193.14,230.80 193.30,230.80 193.46,230.80 193.62,230.80 193.78,230.80 193.94,230.80 194.10,230.80 194.26,230.80 194.42,230.80 194.58,230.80 194.74,230.80 194.90,230.80 195.06,230.80 195.22,230.80 195.38,230.80 195.54,230.80 195.70,230.80 195.86,230.80 196.02,230.80 196.18,230.80 196.34,230.80 196.50,230.80 196.66,230.80 196.82,230.80 196.98,230.80 197.14,230.80 197.30,230.80 197.46,230.80 197.62,230.80 197.78,230.80 197.94,230.80 198.10,230.80 198.26,230.80 198.42,230.80 198.58,230.80 198.74,230.80 198.90,230.80 199.06,230.80 199.22,230.80 199.38,230.80 199.54,230.80 199.70,230.80 199.86,230.80 200.02,230.80 200.18,230.80 200.34,230.80 200.50,230.80 200.66,230.80 200.82,230.80 200.98,230.80 201.14,230.80 201.30,230.80 201.46,230.80 201.62,230.80 201.78,230.80 201.94,230.80 202.10,230.80 202.26,230.80 202.42,230.80 202.58,230.80 202.74,230.80 202.90,230.80 203.06,230.80 203.22,230.80 203.38,230.80 203.54,230.80 203.70,230.80 203.86,230.80 204.02,230.80 204.18,230.80 204.34,230.80 204.50,230.80 204.66,230.80 204.82,230.80 204.98,230.80 205.14,230.80 205.30,230.80 205.46,230.80 205.62,230.80 205.78,230.80 205.94,230.80 206.10,230.80 206.26,230.80 206.42,230.80 206.58,230.80 206.74,230.80 206.90,230.80 207.06,230.80 207.22,230.80 207.38,230.80 207.54,230.80 207.70,230.80 207.86,230.80 208.02,230.80 208.18,230.80 208.34,230.80 208.50,230.80 208.66,230.80 208.82,230.80 208.98,230.80 209.14,230.80 209.30,230.80 209.46,230.80 209.62,230.80 209.78,230.80 209.94,230.80 210.10,230.80 210.26,230.80 210.42,230.80 210.58,230.80 210.74,230.80 210.90,230.80 211.06,230.80 211.22,230.80 211.38,230.80 211.54,230.80 211.70,230.80 211.86,230.80 212.02,230.80 212.18,230.80 212.34,230.80 212.50,230.80 212.66,230.80 212.82,230.80 212.98,230.80 213.14,230.80 213.30,230.80 213.46,230.80 213.62,230.80 213.78,230.80 213.94,230.80 214.10,230.80 214.26,230.80 214.42,230.80 214.58,230.80 214.74,230.80 214.90,230.80 215.06,230.80 215.22,230.80 215.38,230.80 215.54,230.80 215.70,230.80 215.86,230.80 216.02,230.80 216.18,230.80 216.34,230.80 216.50,230.80 216.66,230.80 216.82,230.80 216.98,230.80 217.14,230.80 217.30,230.80 217.46,230.80 217.62,230.80 217.78,230.80 217.94,230.80 218.10,230.80 218.26,230.80 218.42,230.80 218.58,230.80 218.74,230.80 218.90,230.80 219.06,230.80 219.22,230.80 219.38,230.80 219.54,230.80 219.70,230.80 219.86,230.80 220.02,230.80 220.18,230.80 220.34,230.80 220.50,230.80 220.66,230.80 220.82,230.80 220.98,230.80 221.14,230.80 221.30,230.80 221.46,230.80 221.62,230.80 221.78,230.80 221.94,230.80 222.10,230.80 222.26,230.80 222.42,230.80 222.58,230.80 222.74,230.80 222.90,230.80 223.06,230.80 223.22,230.80 223.38,230.80 223.54,230.80 223.70,230.80 223.86,230.80 224.02,230.80 224.18,230.80 224.34,230.80 224.50,230.80 224.66,230.80 224.82,230.80 224.98,230.80 225.14,230.80 225.30,230.80 225.46,230.80 225.62,230.80 225.78,230.80 225.94,230.80 226.10,230.80 226.26,230.80 226.42,230.80 226.58,230.80 226.74,230.80 226.90,230.80 227.06,230.80 227.22,230.80 227.38,230.80 227.54,230.80 227.70,230.80 227.86,230.80 228.02,230.80 228.18,230.80 228.34,230.80 228.50,230.80 228.66,230.80 228.82,230.80 228.98,230.80 229.14,230.80 229.30,230.80" fill="none" stroke="#6EA2FF" stroke-width="4.0" stroke-linejoin="round" stroke-linecap="butt"/>
<path d="M145.40,225.40V340.60H233.40" fill="none" stroke="#333" stroke-width="0.7"/>
<path d="M144.40,335.60H145.40" stroke="#333" stroke-width="0.6"/>
<text x="144.10" y="338.90" font-size="8.1" fill="#4d4d4d" color="#4d4d4d" text-anchor="end" style="stroke-width:0.12px">0.00</text>
<path d="M144.40,309.40H145.40" stroke="#333" stroke-width="0.6"/>
<text x="144.10" y="312.70" font-size="8.1" fill="#4d4d4d" color="#4d4d4d" text-anchor="end" style="stroke-width:0.12px">0.25</text>
<path d="M144.40,283.20H145.40" stroke="#333" stroke-width="0.6"/>
<text x="144.10" y="286.50" font-size="8.1" fill="#4d4d4d" color="#4d4d4d" text-anchor="end" style="stroke-width:0.12px">0.50</text>
<path d="M144.40,257.00H145.40" stroke="#333" stroke-width="0.6"/>
<text x="144.10" y="260.30" font-size="8.1" fill="#4d4d4d" color="#4d4d4d" text-anchor="end" style="stroke-width:0.12px">0.75</text>
<path d="M144.40,230.80H145.40" stroke="#333" stroke-width="0.6"/>
<text x="144.10" y="234.10" font-size="8.1" fill="#4d4d4d" color="#4d4d4d" text-anchor="end" style="stroke-width:0.12px">1.00</text>
<path d="M149.30,340.60V341.60" stroke="#333" stroke-width="0.6"/>
<text x="149.75" y="347.20" font-size="6.3" fill="#4d4d4d" color="#4d4d4d" text-anchor="middle" style="stroke-width:0.12px">0</text>
<path d="M165.30,340.60V341.60" stroke="#333" stroke-width="0.6"/>
<text x="165.75" y="347.20" font-size="6.3" fill="#4d4d4d" color="#4d4d4d" text-anchor="middle" style="stroke-width:0.12px">100</text>
<path d="M181.30,340.60V341.60" stroke="#333" stroke-width="0.6"/>
<text x="181.75" y="347.20" font-size="6.3" fill="#4d4d4d" color="#4d4d4d" text-anchor="middle" style="stroke-width:0.12px">200</text>
<path d="M197.30,340.60V341.60" stroke="#333" stroke-width="0.6"/>
<text x="197.75" y="347.20" font-size="6.3" fill="#4d4d4d" color="#4d4d4d" text-anchor="middle" style="stroke-width:0.12px">300</text>
<path d="M213.30,340.60V341.60" stroke="#333" stroke-width="0.6"/>
<text x="213.75" y="347.20" font-size="6.3" fill="#4d4d4d" color="#4d4d4d" text-anchor="middle" style="stroke-width:0.12px">400</text>
<path d="M229.30,340.60V341.60" stroke="#333" stroke-width="0.6"/>
<text x="229.75" y="347.20" font-size="6.3" fill="#4d4d4d" color="#4d4d4d" text-anchor="middle" style="stroke-width:0.12px">500</text>
<rect x="252.40" y="213.50" width="87.80" height="11.90" fill="#fff" stroke="#7f7f7f" stroke-width="0.9"/>
<text x="296.40" y="222.35" font-size="7.05" fill="#1a1a1a" color="#1a1a1a" style="stroke-width:0.1px" text-anchor="middle">Pleiotropy on UG production</text>
<polyline points="256.30,335.08 256.46,332.59 256.62,330.10 256.78,327.61 256.94,325.12 257.10,320.56 257.26,316.01 257.42,307.54 257.58,297.40 257.74,287.26 257.90,280.34 258.06,275.58 258.22,270.81 258.38,266.05 258.54,261.29 258.70,256.52 258.86,251.76 259.02,249.40 259.18,247.04 259.34,244.69 259.50,242.33 259.66,239.97 259.82,237.61 259.98,235.25 260.14,232.90 260.30,232.71 260.46,232.51 260.62,232.32 260.78,232.13 260.94,231.94 261.10,231.75 261.26,231.56 261.42,231.37 261.58,231.18 261.74,230.99 261.90,230.80 262.06,230.80 262.22,230.80 262.38,230.80 262.54,230.80 262.70,230.80 262.86,230.80 263.02,230.80 263.18,230.80 263.34,230.80 263.50,230.80 263.66,230.80 263.82,230.80 263.98,230.80 264.14,230.80 264.30,230.80 264.46,230.80 264.62,230.80 264.78,230.80 264.94,230.80 265.10,230.80 265.26,230.80 265.42,230.80 265.58,230.80 265.74,230.80 265.90,230.80 266.06,230.80 266.22,230.80 266.38,230.80 266.54,230.80 266.70,230.80 266.86,230.80 267.02,230.80 267.18,230.80 267.34,230.80 267.50,230.80 267.66,230.80 267.82,230.80 267.98,230.80 268.14,230.80 268.30,230.80 268.46,230.80 268.62,230.80 268.78,230.80 268.94,230.80 269.10,230.80 269.26,230.80 269.42,230.80 269.58,230.80 269.74,230.80 269.90,230.80 270.06,230.80 270.22,230.80 270.38,230.80 270.54,230.80 270.70,230.80 270.86,230.80 271.02,230.80 271.18,230.80 271.34,230.80 271.50,230.80 271.66,230.80 271.82,230.80 271.98,230.80 272.14,230.80 272.30,230.80 272.46,230.80 272.62,230.80 272.78,230.80 272.94,230.80 273.10,230.80 273.26,230.80 273.42,230.80 273.58,230.80 273.74,230.80 273.90,230.80 274.06,230.80 274.22,230.80 274.38,230.80 274.54,230.80 274.70,230.80 274.86,230.80 275.02,230.80 275.18,230.80 275.34,230.80 275.50,230.80 275.66,230.80 275.82,230.80 275.98,230.80 276.14,230.80 276.30,230.80 276.46,230.80 276.62,230.80 276.78,230.80 276.94,230.80 277.10,230.80 277.26,230.80 277.42,230.80 277.58,230.80 277.74,230.80 277.90,230.80 278.06,230.80 278.22,230.80 278.38,230.80 278.54,230.80 278.70,230.80 278.86,230.80 279.02,230.80 279.18,230.80 279.34,230.80 279.50,230.80 279.66,230.80 279.82,230.80 279.98,230.80 280.14,230.80 280.30,230.80 280.46,230.80 280.62,230.80 280.78,230.80 280.94,230.80 281.10,230.80 281.26,230.80 281.42,230.80 281.58,230.80 281.74,230.80 281.90,230.80 282.06,230.80 282.22,230.80 282.38,230.80 282.54,230.80 282.70,230.80 282.86,230.80 283.02,230.80 283.18,230.80 283.34,230.80 283.50,230.80 283.66,230.80 283.82,230.80 283.98,230.80 284.14,230.80 284.30,230.80 284.46,230.80 284.62,230.80 284.78,230.80 284.94,230.80 285.10,230.80 285.26,230.80 285.42,230.80 285.58,230.80 285.74,230.80 285.90,230.80 286.06,230.80 286.22,230.80 286.38,230.80 286.54,230.80 286.70,230.80 286.86,230.80 287.02,230.80 287.18,230.80 287.34,230.80 287.50,230.80 287.66,230.80 287.82,230.80 287.98,230.80 288.14,230.80 288.30,230.80 288.46,230.80 288.62,230.80 288.78,230.80 288.94,230.80 289.10,230.80 289.26,230.80 289.42,230.80 289.58,230.80 289.74,230.80 289.90,230.80 290.06,230.80 290.22,230.80 290.38,230.80 290.54,230.80 290.70,230.80 290.86,230.80 291.02,230.80 291.18,230.80 291.34,230.80 291.50,230.80 291.66,230.80 291.82,230.80 291.98,230.80 292.14,230.80 292.30,230.80 292.46,230.80 292.62,230.80 292.78,230.80 292.94,230.80 293.10,230.80 293.26,230.80 293.42,230.80 293.58,230.80 293.74,230.80 293.90,230.80 294.06,230.80 294.22,230.80 294.38,230.80 294.54,230.80 294.70,230.80 294.86,230.80 295.02,230.80 295.18,230.80 295.34,230.80 295.50,230.80 295.66,230.80 295.82,230.80 295.98,230.80 296.14,230.80 296.30,230.80 296.46,230.80 296.62,230.80 296.78,230.80 296.94,230.80 297.10,230.80 297.26,230.80 297.42,230.80 297.58,230.80 297.74,230.80 297.90,230.80 298.06,230.80 298.22,230.80 298.38,230.80 298.54,230.80 298.70,230.80 298.86,230.80 299.02,230.80 299.18,230.80 299.34,230.80 299.50,230.80 299.66,230.80 299.82,230.80 299.98,230.80 300.14,230.80 300.30,230.80 300.46,230.80 300.62,230.80 300.78,230.80 300.94,230.80 301.10,230.80 301.26,230.80 301.42,230.80 301.58,230.80 301.74,230.80 301.90,230.80 302.06,230.80 302.22,230.80 302.38,230.80 302.54,230.80 302.70,230.80 302.86,230.80 303.02,230.80 303.18,230.80 303.34,230.80 303.50,230.80 303.66,230.80 303.82,230.80 303.98,230.80 304.14,230.80 304.30,230.80 304.46,230.80 304.62,230.80 304.78,230.80 304.94,230.80 305.10,230.80 305.26,230.80 305.42,230.80 305.58,230.80 305.74,230.80 305.90,230.80 306.06,230.80 306.22,230.80 306.38,230.80 306.54,230.80 306.70,230.80 306.86,230.80 307.02,230.80 307.18,230.80 307.34,230.80 307.50,230.80 307.66,230.80 307.82,230.80 307.98,230.80 308.14,230.80 308.30,230.80 308.46,230.80 308.62,230.80 308.78,230.80 308.94,230.80 309.10,230.80 309.26,230.80 309.42,230.80 309.58,230.80 309.74,230.80 309.90,230.80 310.06,230.80 310.22,230.80 310.38,230.80 310.54,230.80 310.70,230.80 310.86,230.80 311.02,230.80 311.18,230.80 311.34,230.80 311.50,230.80 311.66,230.80 311.82,230.80 311.98,230.80 312.14,230.80 312.30,230.80 312.46,230.80 312.62,230.80 312.78,230.80 312.94,230.80 313.10,230.80 313.26,230.80 313.42,230.80 313.58,230.80 313.74,230.80 313.90,230.80 314.06,230.80 314.22,230.80 314.38,230.80 314.54,230.80 314.70,230.80 314.86,230.80 315.02,230.80 315.18,230.80 315.34,230.80 315.50,230.80 315.66,230.80 315.82,230.80 315.98,230.80 316.14,230.80 316.30,230.80 316.46,230.80 316.62,230.80 316.78,230.80 316.94,230.80 317.10,230.80 317.26,230.80 317.42,230.80 317.58,230.80 317.74,230.80 317.90,230.80 318.06,230.80 318.22,230.80 318.38,230.80 318.54,230.80 318.70,230.80 318.86,230.80 319.02,230.80 319.18,230.80 319.34,230.80 319.50,230.80 319.66,230.80 319.82,230.80 319.98,230.80 320.14,230.80 320.30,230.80 320.46,230.80 320.62,230.80 320.78,230.80 320.94,230.80 321.10,230.80 321.26,230.80 321.42,230.80 321.58,230.80 321.74,230.80 321.90,230.80 322.06,230.80 322.22,230.80 322.38,230.80 322.54,230.80 322.70,230.80 322.86,230.80 323.02,230.80 323.18,230.80 323.34,230.80 323.50,230.80 323.66,230.80 323.82,230.80 323.98,230.80 324.14,230.80 324.30,230.80 324.46,230.80 324.62,230.80 324.78,230.80 324.94,230.80 325.10,230.80 325.26,230.80 325.42,230.80 325.58,230.80 325.74,230.80 325.90,230.80 326.06,230.80 326.22,230.80 326.38,230.80 326.54,230.80 326.70,230.80 326.86,230.80 327.02,230.80 327.18,230.80 327.34,230.80 327.50,230.80 327.66,230.80 327.82,230.80 327.98,230.80 328.14,230.80 328.30,230.80 328.46,230.80 328.62,230.80 328.78,230.80 328.94,230.80 329.10,230.80 329.26,230.80 329.42,230.80 329.58,230.80 329.74,230.80 329.90,230.80 330.06,230.80 330.22,230.80 330.38,230.80 330.54,230.80 330.70,230.80 330.86,230.80 331.02,230.80 331.18,230.80 331.34,230.80 331.50,230.80 331.66,230.80 331.82,230.80 331.98,230.80 332.14,230.80 332.30,230.80 332.46,230.80 332.62,230.80 332.78,230.80 332.94,230.80 333.10,230.80 333.26,230.80 333.42,230.80 333.58,230.80 333.74,230.80 333.90,230.80 334.06,230.80 334.22,230.80 334.38,230.80 334.54,230.80 334.70,230.80 334.86,230.80 335.02,230.80 335.18,230.80 335.34,230.80 335.50,230.80 335.66,230.80 335.82,230.80 335.98,230.80 336.14,230.80 336.30,230.80" fill="none" stroke="#EE6C67" stroke-width="4.0" stroke-linejoin="round" stroke-linecap="butt"/>
<polyline points="256.30,335.60 256.46,327.74 256.62,319.88 256.78,301.54 256.94,283.20 257.10,264.86 257.26,246.52 257.42,240.23 257.58,233.94 257.74,233.16 257.90,232.37 258.06,231.59 258.22,230.80 258.38,230.80 258.54,230.80 258.70,230.80 258.86,230.80 259.02,230.80 259.18,230.80 259.34,230.80 259.50,230.80 259.66,230.80 259.82,230.80 259.98,230.80 260.14,230.80 260.30,230.80 260.46,230.80 260.62,230.80 260.78,230.80 260.94,230.80 261.10,230.80 261.26,230.80 261.42,230.80 261.58,230.80 261.74,230.80 261.90,230.80 262.06,230.80 262.22,230.80 262.38,230.80 262.54,230.80 262.70,230.80 262.86,230.80 263.02,230.80 263.18,230.80 263.34,230.80 263.50,230.80 263.66,230.80 263.82,230.80 263.98,230.80 264.14,230.80 264.30,230.80 264.46,230.80 264.62,230.80 264.78,230.80 264.94,230.80 265.10,230.80 265.26,230.80 265.42,230.80 265.58,230.80 265.74,230.80 265.90,230.80 266.06,230.80 266.22,230.80 266.38,230.80 266.54,230.80 266.70,230.80 266.86,230.80 267.02,230.80 267.18,230.80 267.34,230.80 267.50,230.80 267.66,230.80 267.82,230.80 267.98,230.80 268.14,230.80 268.30,230.80 268.46,230.80 268.62,230.80 268.78,230.80 268.94,230.80 269.10,230.80 269.26,230.80 269.42,230.80 269.58,230.80 269.74,230.80 269.90,230.80 270.06,230.80 270.22,230.80 270.38,230.80 270.54,230.80 270.70,230.80 270.86,230.80 271.02,230.80 271.18,230.80 271.34,230.80 271.50,230.80 271.66,230.80 271.82,230.80 271.98,230.80 272.14,230.80 272.30,230.80 272.46,230.80 272.62,230.80 272.78,230.80 272.94,230.80 273.10,230.80 273.26,230.80 273.42,230.80 273.58,230.80 273.74,230.80 273.90,230.80 274.06,230.80 274.22,230.80 274.38,230.80 274.54,230.80 274.70,230.80 274.86,230.80 275.02,230.80 275.18,230.80 275.34,230.80 275.50,230.80 275.66,230.80 275.82,230.80 275.98,230.80 276.14,230.80 276.30,230.80 276.46,230.80 276.62,230.80 276.78,230.80 276.94,230.80 277.10,230.80 277.26,230.80 277.42,230.80 277.58,230.80 277.74,230.80 277.90,230.80 278.06,230.80 278.22,230.80 278.38,230.80 278.54,230.80 278.70,230.80 278.86,230.80 279.02,230.80 279.18,230.80 279.34,230.80 279.50,230.80 279.66,230.80 279.82,230.80 279.98,230.80 280.14,230.80 280.30,230.80 280.46,230.80 280.62,230.80 280.78,230.80 280.94,230.80 281.10,230.80 281.26,230.80 281.42,230.80 281.58,230.80 281.74,230.80 281.90,230.80 282.06,230.80 282.22,230.80 282.38,230.80 282.54,230.80 282.70,230.80 282.86,230.80 283.02,230.80 283.18,230.80 283.34,230.80 283.50,230.80 283.66,230.80 283.82,230.80 283.98,230.80 284.14,230.80 284.30,230.80 284.46,230.80 284.62,230.80 284.78,230.80 284.94,230.80 285.10,230.80 285.26,230.80 285.42,230.80 285.58,230.80 285.74,230.80 285.90,230.80 286.06,230.80 286.22,230.80 286.38,230.80 286.54,230.80 286.70,230.80 286.86,230.80 287.02,230.80 287.18,230.80 287.34,230.80 287.50,230.80 287.66,230.80 287.82,230.80 287.98,230.80 288.14,230.80 288.30,230.80 288.46,230.80 288.62,230.80 288.78,230.80 288.94,230.80 289.10,230.80 289.26,230.80 289.42,230.80 289.58,230.80 289.74,230.80 289.90,230.80 290.06,230.80 290.22,230.80 290.38,230.80 290.54,230.80 290.70,230.80 290.86,230.80 291.02,230.80 291.18,230.80 291.34,230.80 291.50,230.80 291.66,230.80 291.82,230.80 291.98,230.80 292.14,230.80 292.30,230.80 292.46,230.80 292.62,230.80 292.78,230.80 292.94,230.80 293.10,230.80 293.26,230.80 293.42,230.80 293.58,230.80 293.74,230.80 293.90,230.80 294.06,230.80 294.22,230.80 294.38,230.80 294.54,230.80 294.70,230.80 294.86,230.80 295.02,230.80 295.18,230.80 295.34,230.80 295.50,230.80 295.66,230.80 295.82,230.80 295.98,230.80 296.14,230.80 296.30,230.80 296.46,230.80 296.62,230.80 296.78,230.80 296.94,230.80 297.10,230.80 297.26,230.80 297.42,230.80 297.58,230.80 297.74,230.80 297.90,230.80 298.06,230.80 298.22,230.80 298.38,230.80 298.54,230.80 298.70,230.80 298.86,230.80 299.02,230.80 299.18,230.80 299.34,230.80 299.50,230.80 299.66,230.80 299.82,230.80 299.98,230.80 300.14,230.80 300.30,230.80 300.46,230.80 300.62,230.80 300.78,230.80 300.94,230.80 301.10,230.80 301.26,230.80 301.42,230.80 301.58,230.80 301.74,230.80 301.90,230.80 302.06,230.80 302.22,230.80 302.38,230.80 302.54,230.80 302.70,230.80 302.86,230.80 303.02,230.80 303.18,230.80 303.34,230.80 303.50,230.80 303.66,230.80 303.82,230.80 303.98,230.80 304.14,230.80 304.30,230.80 304.46,230.80 304.62,230.80 304.78,230.80 304.94,230.80 305.10,230.80 305.26,230.80 305.42,230.80 305.58,230.80 305.74,230.80 305.90,230.80 306.06,230.80 306.22,230.80 306.38,230.80 306.54,230.80 306.70,230.80 306.86,230.80 307.02,230.80 307.18,230.80 307.34,230.80 307.50,230.80 307.66,230.80 307.82,230.80 307.98,230.80 308.14,230.80 308.30,230.80 308.46,230.80 308.62,230.80 308.78,230.80 308.94,230.80 309.10,230.80 309.26,230.80 309.42,230.80 309.58,230.80 309.74,230.80 309.90,230.80 310.06,230.80 310.22,230.80 310.38,230.80 310.54,230.80 310.70,230.80 310.86,230.80 311.02,230.80 311.18,230.80 311.34,230.80 311.50,230.80 311.66,230.80 311.82,230.80 311.98,230.80 312.14,230.80 312.30,230.80 312.46,230.80 312.62,230.80 312.78,230.80 312.94,230.80 313.10,230.80 313.26,230.80 313.42,230.80 313.58,230.80 313.74,230.80 313.90,230.80 314.06,230.80 314.22,230.80 314.38,230.80 314.54,230.80 314.70,230.80 314.86,230.80 315.02,230.80 315.18,230.80 315.34,230.80 315.50,230.80 315.66,230.80 315.82,230.80 315.98,230.80 316.14,230.80 316.30,230.80 316.46,230.80 316.62,230.80 316.78,230.80 316.94,230.80 317.10,230.80 317.26,230.80 317.42,230.80 317.58,230.80 317.74,230.80 317.90,230.80 318.06,230.80 318.22,230.80 318.38,230.80 318.54,230.80 318.70,230.80 318.86,230.80 319.02,230.80 319.18,230.80 319.34,230.80 319.50,230.80 319.66,230.80 319.82,230.80 319.98,230.80 320.14,230.80 320.30,230.80 320.46,230.80 320.62,230.80 320.78,230.80 320.94,230.80 321.10,230.80 321.26,230.80 321.42,230.80 321.58,230.80 321.74,230.80 321.90,230.80 322.06,230.80 322.22,230.80 322.38,230.80 322.54,230.80 322.70,230.80 322.86,230.80 323.02,230.80 323.18,230.80 323.34,230.80 323.50,230.80 323.66,230.80 323.82,230.80 323.98,230.80 324.14,230.80 324.30,230.80 324.46,230.80 324.62,230.80 324.78,230.80 324.94,230.80 325.10,230.80 325.26,230.80 325.42,230.80 325.58,230.80 325.74,230.80 325.90,230.80 326.06,230.80 326.22,230.80 326.38,230.80 326.54,230.80 326.70,230.80 326.86,230.80 327.02,230.80 327.18,230.80 327.34,230.80 327.50,230.80 327.66,230.80 327.82,230.80 327.98,230.80 328.14,230.80 328.30,230.80 328.46,230.80 328.62,230.80 328.78,230.80 328.94,230.80 329.10,230.80 329.26,230.80 329.42,230.80 329.58,230.80 329.74,230.80 329.90,230.80 330.06,230.80 330.22,230.80 330.38,230.80 330.54,230.80 330.70,230.80 330.86,230.80 331.02,230.80 331.18,230.80 331.34,230.80 331.50,230.80 331.66,230.80 331.82,230.80 331.98,230.80 332.14,230.80 332.30,230.80 332.46,230.80 332.62,230.80 332.78,230.80 332.94,230.80 333.10,230.80 333.26,230.80 333.42,230.80 333.58,230.80 333.74,230.80 333.90,230.80 334.06,230.80 334.22,230.80 334.38,230.80 334.54,230.80 334.70,230.80 334.86,230.80 335.02,230.80 335.18,230.80 335.34,230.80 335.50,230.80 335.66,230.80 335.82,230.80 335.98,230.80 336.14,230.80 336.30,230.80" fill="none" stroke="#47D63E" stroke-width="4.0" stroke-linejoin="round" stroke-linecap="butt"/>
<polyline points="256.30,332.04 256.46,304.16 256.62,272.72 256.78,241.28 256.94,232.90 257.10,231.85 257.26,230.80 257.42,230.80 257.58,230.80 257.74,230.80 257.90,230.80 258.06,230.80 258.22,230.80 258.38,230.80 258.54,230.80 258.70,230.80 258.86,230.80 259.02,230.80 259.18,230.80 259.34,230.80 259.50,230.80 259.66,230.80 259.82,230.80 259.98,230.80 260.14,230.80 260.30,230.80 260.46,230.80 260.62,230.80 260.78,230.80 260.94,230.80 261.10,230.80 261.26,230.80 261.42,230.80 261.58,230.80 261.74,230.80 261.90,230.80 262.06,230.80 262.22,230.80 262.38,230.80 262.54,230.80 262.70,230.80 262.86,230.80 263.02,230.80 263.18,230.80 263.34,230.80 263.50,230.80 263.66,230.80 263.82,230.80 263.98,230.80 264.14,230.80 264.30,230.80 264.46,230.80 264.62,230.80 264.78,230.80 264.94,230.80 265.10,230.80 265.26,230.80 265.42,230.80 265.58,230.80 265.74,230.80 265.90,230.80 266.06,230.80 266.22,230.80 266.38,230.80 266.54,230.80 266.70,230.80 266.86,230.80 267.02,230.80 267.18,230.80 267.34,230.80 267.50,230.80 267.66,230.80 267.82,230.80 267.98,230.80 268.14,230.80 268.30,230.80 268.46,230.80 268.62,230.80 268.78,230.80 268.94,230.80 269.10,230.80 269.26,230.80 269.42,230.80 269.58,230.80 269.74,230.80 269.90,230.80 270.06,230.80 270.22,230.80 270.38,230.80 270.54,230.80 270.70,230.80 270.86,230.80 271.02,230.80 271.18,230.80 271.34,230.80 271.50,230.80 271.66,230.80 271.82,230.80 271.98,230.80 272.14,230.80 272.30,230.80 272.46,230.80 272.62,230.80 272.78,230.80 272.94,230.80 273.10,230.80 273.26,230.80 273.42,230.80 273.58,230.80 273.74,230.80 273.90,230.80 274.06,230.80 274.22,230.80 274.38,230.80 274.54,230.80 274.70,230.80 274.86,230.80 275.02,230.80 275.18,230.80 275.34,230.80 275.50,230.80 275.66,230.80 275.82,230.80 275.98,230.80 276.14,230.80 276.30,230.80 276.46,230.80 276.62,230.80 276.78,230.80 276.94,230.80 277.10,230.80 277.26,230.80 277.42,230.80 277.58,230.80 277.74,230.80 277.90,230.80 278.06,230.80 278.22,230.80 278.38,230.80 278.54,230.80 278.70,230.80 278.86,230.80 279.02,230.80 279.18,230.80 279.34,230.80 279.50,230.80 279.66,230.80 279.82,230.80 279.98,230.80 280.14,230.80 280.30,230.80 280.46,230.80 280.62,230.80 280.78,230.80 280.94,230.80 281.10,230.80 281.26,230.80 281.42,230.80 281.58,230.80 281.74,230.80 281.90,230.80 282.06,230.80 282.22,230.80 282.38,230.80 282.54,230.80 282.70,230.80 282.86,230.80 283.02,230.80 283.18,230.80 283.34,230.80 283.50,230.80 283.66,230.80 283.82,230.80 283.98,230.80 284.14,230.80 284.30,230.80 284.46,230.80 284.62,230.80 284.78,230.80 284.94,230.80 285.10,230.80 285.26,230.80 285.42,230.80 285.58,230.80 285.74,230.80 285.90,230.80 286.06,230.80 286.22,230.80 286.38,230.80 286.54,230.80 286.70,230.80 286.86,230.80 287.02,230.80 287.18,230.80 287.34,230.80 287.50,230.80 287.66,230.80 287.82,230.80 287.98,230.80 288.14,230.80 288.30,230.80 288.46,230.80 288.62,230.80 288.78,230.80 288.94,230.80 289.10,230.80 289.26,230.80 289.42,230.80 289.58,230.80 289.74,230.80 289.90,230.80 290.06,230.80 290.22,230.80 290.38,230.80 290.54,230.80 290.70,230.80 290.86,230.80 291.02,230.80 291.18,230.80 291.34,230.80 291.50,230.80 291.66,230.80 291.82,230.80 291.98,230.80 292.14,230.80 292.30,230.80 292.46,230.80 292.62,230.80 292.78,230.80 292.94,230.80 293.10,230.80 293.26,230.80 293.42,230.80 293.58,230.80 293.74,230.80 293.90,230.80 294.06,230.80 294.22,230.80 294.38,230.80 294.54,230.80 294.70,230.80 294.86,230.80 295.02,230.80 295.18,230.80 295.34,230.80 295.50,230.80 295.66,230.80 295.82,230.80 295.98,230.80 296.14,230.80 296.30,230.80 296.46,230.80 296.62,230.80 296.78,230.80 296.94,230.80 297.10,230.80 297.26,230.80 297.42,230.80 297.58,230.80 297.74,230.80 297.90,230.80 298.06,230.80 298.22,230.80 298.38,230.80 298.54,230.80 298.70,230.80 298.86,230.80 299.02,230.80 299.18,230.80 299.34,230.80 299.50,230.80 299.66,230.80 299.82,230.80 299.98,230.80 300.14,230.80 300.30,230.80 300.46,230.80 300.62,230.80 300.78,230.80 300.94,230.80 301.10,230.80 301.26,230.80 301.42,230.80 301.58,230.80 301.74,230.80 301.90,230.80 302.06,230.80 302.22,230.80 302.38,230.80 302.54,230.80 302.70,230.80 302.86,230.80 303.02,230.80 303.18,230.80 303.34,230.80 303.50,230.80 303.66,230.80 303.82,230.80 303.98,230.80 304.14,230.80 304.30,230.80 304.46,230.80 304.62,230.80 304.78,230.80 304.94,230.80 305.10,230.80 305.26,230.80 305.42,230.80 305.58,230.80 305.74,230.80 305.90,230.80 306.06,230.80 306.22,230.80 306.38,230.80 306.54,230.80 306.70,230.80 306.86,230.80 307.02,230.80 307.18,230.80 307.34,230.80 307.50,230.80 307.66,230.80 307.82,230.80 307.98,230.80 308.14,230.80 308.30,230.80 308.46,230.80 308.62,230.80 308.78,230.80 308.94,230.80 309.10,230.80 309.26,230.80 309.42,230.80 309.58,230.80 309.74,230.80 309.90,230.80 310.06,230.80 310.22,230.80 310.38,230.80 310.54,230.80 310.70,230.80 310.86,230.80 311.02,230.80 311.18,230.80 311.34,230.80 311.50,230.80 311.66,230.80 311.82,230.80 311.98,230.80 312.14,230.80 312.30,230.80 312.46,230.80 312.62,230.80 312.78,230.80 312.94,230.80 313.10,230.80 313.26,230.80 313.42,230.80 313.58,230.80 313.74,230.80 313.90,230.80 314.06,230.80 314.22,230.80 314.38,230.80 314.54,230.80 314.70,230.80 314.86,230.80 315.02,230.80 315.18,230.80 315.34,230.80 315.50,230.80 315.66,230.80 315.82,230.80 315.98,230.80 316.14,230.80 316.30,230.80 316.46,230.80 316.62,230.80 316.78,230.80 316.94,230.80 317.10,230.80 317.26,230.80 317.42,230.80 317.58,230.80 317.74,230.80 317.90,230.80 318.06,230.80 318.22,230.80 318.38,230.80 318.54,230.80 318.70,230.80 318.86,230.80 319.02,230.80 319.18,230.80 319.34,230.80 319.50,230.80 319.66,230.80 319.82,230.80 319.98,230.80 320.14,230.80 320.30,230.80 320.46,230.80 320.62,230.80 320.78,230.80 320.94,230.80 321.10,230.80 321.26,230.80 321.42,230.80 321.58,230.80 321.74,230.80 321.90,230.80 322.06,230.80 322.22,230.80 322.38,230.80 322.54,230.80 322.70,230.80 322.86,230.80 323.02,230.80 323.18,230.80 323.34,230.80 323.50,230.80 323.66,230.80 323.82,230.80 323.98,230.80 324.14,230.80 324.30,230.80 324.46,230.80 324.62,230.80 324.78,230.80 324.94,230.80 325.10,230.80 325.26,230.80 325.42,230.80 325.58,230.80 325.74,230.80 325.90,230.80 326.06,230.80 326.22,230.80 326.38,230.80 326.54,230.80 326.70,230.80 326.86,230.80 327.02,230.80 327.18,230.80 327.34,230.80 327.50,230.80 327.66,230.80 327.82,230.80 327.98,230.80 328.14,230.80 328.30,230.80 328.46,230.80 328.62,230.80 328.78,230.80 328.94,230.80 329.10,230.80 329.26,230.80 329.42,230.80 329.58,230.80 329.74,230.80 329.90,230.80 330.06,230.80 330.22,230.80 330.38,230.80 330.54,230.80 330.70,230.80 330.86,230.80 331.02,230.80 331.18,230.80 331.34,230.80 331.50,230.80 331.66,230.80 331.82,230.80 331.98,230.80 332.14,230.80 332.30,230.80 332.46,230.80 332.62,230.80 332.78,230.80 332.94,230.80 333.10,230.80 333.26,230.80 333.42,230.80 333.58,230.80 333.74,230.80 333.90,230.80 334.06,230.80 334.22,230.80 334.38,230.80 334.54,230.80 334.70,230.80 334.86,230.80 335.02,230.80 335.18,230.80 335.34,230.80 335.50,230.80 335.66,230.80 335.82,230.80 335.98,230.80 336.14,230.80 336.30,230.80" fill="none" stroke="#6EA2FF" stroke-width="4.0" stroke-linejoin="round" stroke-linecap="butt"/>
<path d="M252.40,225.40V340.60H340.40" fill="none" stroke="#333" stroke-width="0.7"/>
<path d="M251.40,335.60H252.40" stroke="#333" stroke-width="0.6"/>
<text x="251.10" y="338.90" font-size="8.1" fill="#4d4d4d" color="#4d4d4d" text-anchor="end" style="stroke-width:0.12px">0.00</text>
<path d="M251.40,309.40H252.40" stroke="#333" stroke-width="0.6"/>
<text x="251.10" y="312.70" font-size="8.1" fill="#4d4d4d" color="#4d4d4d" text-anchor="end" style="stroke-width:0.12px">0.25</text>
<path d="M251.40,283.20H252.40" stroke="#333" stroke-width="0.6"/>
<text x="251.10" y="286.50" font-size="8.1" fill="#4d4d4d" color="#4d4d4d" text-anchor="end" style="stroke-width:0.12px">0.50</text>
<path d="M251.40,257.00H252.40" stroke="#333" stroke-width="0.6"/>
<text x="251.10" y="260.30" font-size="8.1" fill="#4d4d4d" color="#4d4d4d" text-anchor="end" style="stroke-width:0.12px">0.75</text>
<path d="M251.40,230.80H252.40" stroke="#333" stroke-width="0.6"/>
<text x="251.10" y="234.10" font-size="8.1" fill="#4d4d4d" color="#4d4d4d" text-anchor="end" style="stroke-width:0.12px">1.00</text>
<path d="M256.30,340.60V341.60" stroke="#333" stroke-width="0.6"/>
<text x="256.75" y="347.20" font-size="6.3" fill="#4d4d4d" color="#4d4d4d" text-anchor="middle" style="stroke-width:0.12px">0</text>
<path d="M272.30,340.60V341.60" stroke="#333" stroke-width="0.6"/>
<text x="272.75" y="347.20" font-size="6.3" fill="#4d4d4d" color="#4d4d4d" text-anchor="middle" style="stroke-width:0.12px">100</text>
<path d="M288.30,340.60V341.60" stroke="#333" stroke-width="0.6"/>
<text x="288.75" y="347.20" font-size="6.3" fill="#4d4d4d" color="#4d4d4d" text-anchor="middle" style="stroke-width:0.12px">200</text>
<path d="M304.30,340.60V341.60" stroke="#333" stroke-width="0.6"/>
<text x="304.75" y="347.20" font-size="6.3" fill="#4d4d4d" color="#4d4d4d" text-anchor="middle" style="stroke-width:0.12px">300</text>
<path d="M320.30,340.60V341.60" stroke="#333" stroke-width="0.6"/>
<text x="320.75" y="347.20" font-size="6.3" fill="#4d4d4d" color="#4d4d4d" text-anchor="middle" style="stroke-width:0.12px">400</text>
<path d="M336.30,340.60V341.60" stroke="#333" stroke-width="0.6"/>
<text x="336.75" y="347.20" font-size="6.3" fill="#4d4d4d" color="#4d4d4d" text-anchor="middle" style="stroke-width:0.12px">500</text>
<text transform="translate(13.30,283.00) rotate(-90)" font-size="7.9" font-weight="bold" fill="#000" color="#000" text-anchor="middle">Frequency of tetraploids</text>
<text x="189.30" y="358.10" font-size="8.8" font-weight="bold" fill="#000" color="#000" text-anchor="middle">Generation</text>
<rect x="136.30" y="366.90" width="14.90" height="4.1" fill="#EE6C67"/>
<text x="154.10" y="371.65" font-size="8.1" fill="#1a1a1a" color="#1a1a1a">0.005</text>
<rect x="178.00" y="366.90" width="14.30" height="4.1" fill="#47D63E"/>
<text x="195.20" y="371.65" font-size="8.1" fill="#1a1a1a" color="#1a1a1a">0.05</text>
<rect x="215.00" y="366.90" width="14.30" height="4.1" fill="#6EA2FF"/>
<text x="233.00" y="371.65" font-size="8.1" fill="#1a1a1a" color="#1a1a1a">0.1</text>
<text x="189.30" y="381.50" font-size="8.0" fill="#1a1a1a" color="#1a1a1a" text-anchor="middle">Mean of 100 replicates</text>
</svg></body></html>
